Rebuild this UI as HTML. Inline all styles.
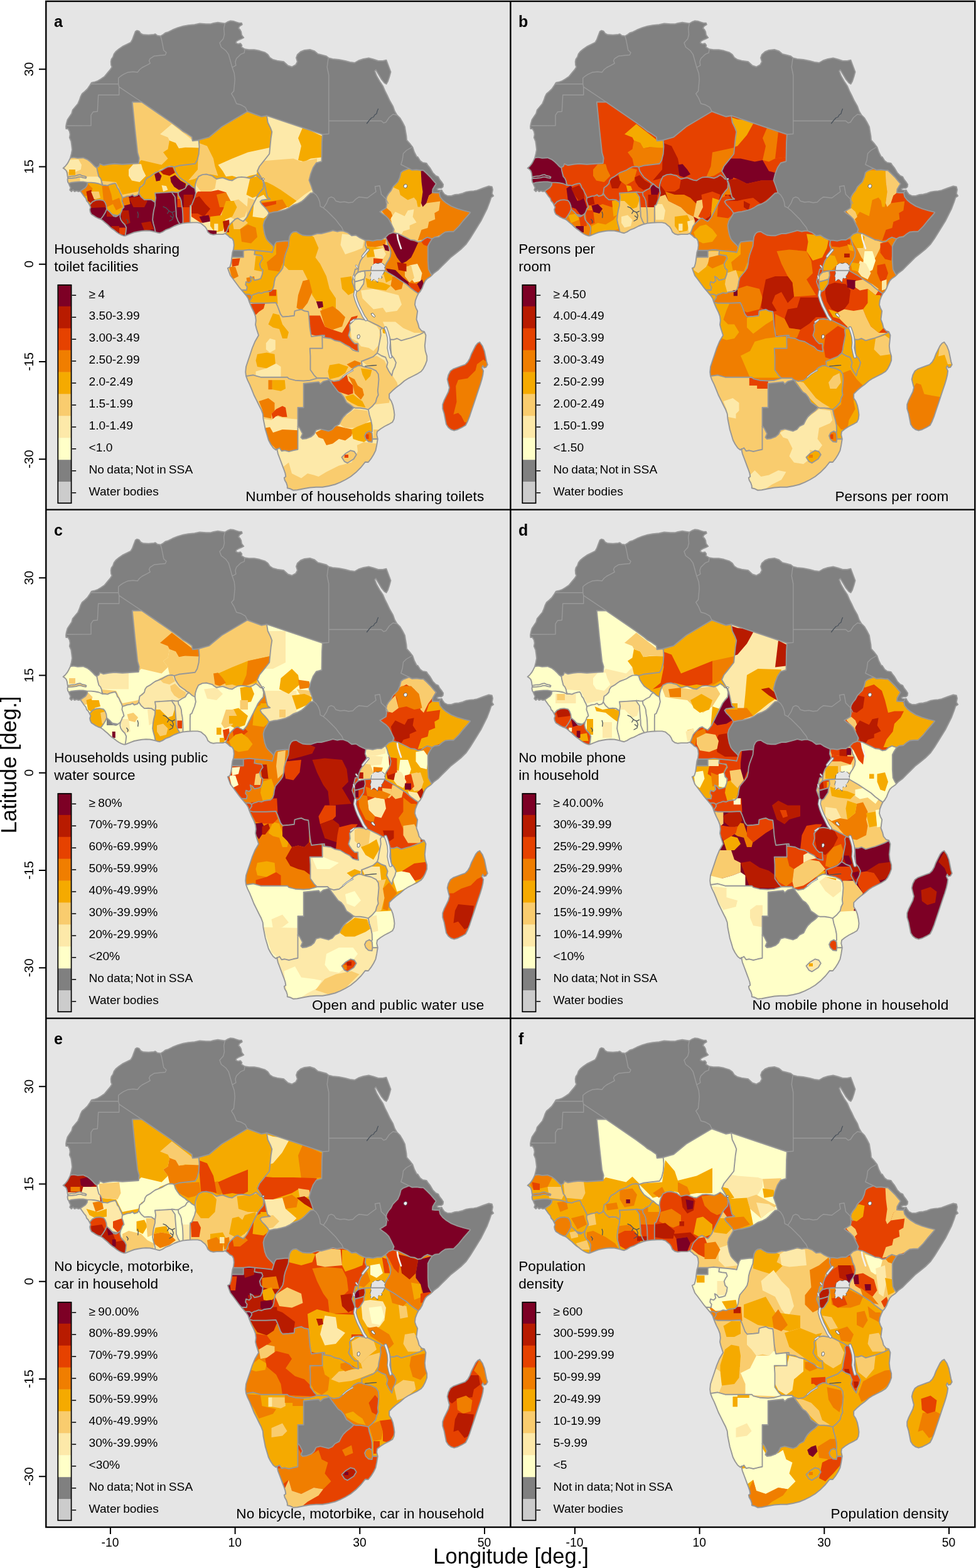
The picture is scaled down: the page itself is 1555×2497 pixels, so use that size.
<!DOCTYPE html>
<html lang="en"><head><meta charset="utf-8"><title>Household indicators across sub-Saharan Africa</title>
<style>html,body{margin:0;padding:0;background:#fff}svg{display:block}text{font-family:"Liberation Sans",sans-serif;fill:#000}.t{font-size:20px}.lt{font-size:22.6px}.cap{font-size:22.6px;text-anchor:end}.pl{font-size:25px;font-weight:bold}.ax{font-size:34.5px;text-anchor:middle}.tx{font-size:19.3px}.ty{font-size:20.4px}.lg{font-size:19.2px;word-spacing:-1.1px}.b{fill:none;stroke:#979797;stroke-width:1.9;stroke-linejoin:round}.nb{fill:none;stroke:#9a9a9a;stroke-width:1.4;stroke-linejoin:round}.fr{fill:none;stroke:#000;stroke-width:2.4}.tk{stroke:#000;stroke-width:2;fill:none}</style></head><body>
<svg xmlns="http://www.w3.org/2000/svg" width="1555" height="2497" viewBox="0 0 1555 2497">
<rect x="0" y="0" width="1555" height="2497" fill="#fff"/>
<rect x="73.3" y="2.0" width="1480.0" height="2430.0" fill="#E5E5E5"/>
<defs>
<path id="africa" d="M218.3 48.7 221.7 49.7 224.2 53.3 228.3 55.3 236.7 55.8 245.0 55.0 247.5 54.2 250.8 56.7 255.8 57.5 260.0 55.0 263.3 52.5 268.3 50.8 275.0 47.5 283.3 44.2 291.7 41.7 300.0 40.3 310.0 39.2 318.3 37.5 328.3 38.3 335.0 38.3 340.0 37.0 347.0 35.8 353.3 36.7 358.3 37.5 362.5 35.0 366.7 33.3 371.7 33.7 376.7 35.3 380.8 36.7 385.0 36.7 385.8 39.2 381.7 41.7 380.0 45.0 382.5 47.5 384.2 50.8 385.0 55.8 388.3 60.0 385.0 61.7 380.8 63.3 376.7 65.8 375.8 68.3 379.2 70.0 383.3 69.2 385.3 72.0 384.7 75.0 390.0 78.3 396.7 79.2 405.0 79.2 413.3 80.8 421.7 83.3 426.7 86.7 430.0 91.7 435.0 95.0 441.7 96.7 452.0 98.3 458.8 104.5 465.0 106.5 471.2 103.2 473.8 98.2 472.0 92.0 473.8 87.0 478.8 82.5 485.0 80.0 493.8 79.0 501.2 81.5 506.2 85.8 512.5 87.5 520.0 89.5 523.8 92.5 530.0 94.0 540.0 95.0 550.0 97.0 557.5 99.0 565.0 100.0 571.2 96.5 578.8 94.0 587.5 92.5 595.0 94.5 602.5 97.0 610.0 97.0 615.5 95.8 618.8 104.5 622.5 114.5 620.5 122.0 618.0 129.5 615.5 133.8 612.5 132.0 607.5 125.8 603.0 118.2 598.8 111.2 597.0 113.2 600.0 120.8 605.0 129.5 610.0 137.0 613.8 145.8 617.0 152.0 621.2 160.8 626.2 169.5 628.8 177.0 632.5 183.2 637.5 188.2 641.2 194.5 645.0 202.0 646.2 209.5 647.5 217.0 648.0 223.2 652.5 228.2 657.5 234.5 660.0 242.0 663.8 249.5 665.6 250.0 669.5 256.0 673.5 258.9 679.4 259.9 681.4 262.9 685.4 267.9 689.4 274.8 694.3 279.8 698.3 281.7 700.3 285.7 704.2 290.7 706.2 293.7 705.7 297.6 703.3 299.6 699.3 299.6 696.3 300.6 697.3 302.6 701.3 303.1 703.8 302.6 705.2 305.6 708.2 309.5 713.2 312.0 719.1 312.0 725.1 310.0 731.0 309.5 737.0 308.0 742.9 305.6 748.9 304.6 754.8 304.1 760.0 303.1 760.0 303.2 770.0 299.5 778.8 296.5 783.8 297.5 785.0 302.0 783.8 308.2 786.2 312.0 782.5 314.5 780.0 322.0 776.2 332.0 771.2 342.0 766.2 352.0 760.0 362.0 753.8 372.0 748.8 380.0 742.7 388.7 734.3 397.0 726.0 403.7 717.7 410.3 711.0 417.0 704.3 423.7 697.7 430.3 691.0 435.3 686.0 440.3 681.0 443.7 677.7 447.0 675.2 452.0 672.7 458.7 669.3 464.5 666.8 467.0 664.3 472.0 661.8 478.7 661.0 485.3 662.7 490.3 665.2 495.3 664.3 502.0 663.5 508.7 666.0 515.3 667.7 522.0 671.8 527.0 676.0 528.2 678.5 534.0 677.7 542.3 676.8 550.7 677.7 559.0 680.2 567.3 680.2 574.0 677.7 580.7 674.3 587.3 671.0 591.5 664.3 595.7 657.7 599.0 651.0 602.3 644.3 606.5 637.7 612.3 631.0 617.3 625.2 622.3 620.2 627.3 620.2 634.0 623.5 639.0 626.0 645.7 627.7 654.0 628.5 660.7 627.7 667.3 625.2 672.3 619.3 675.7 612.7 679.0 606.0 683.2 601.0 687.3 600.2 692.3 601.8 699.0 601.0 704.0 600.2 709.0 598.5 717.3 595.2 724.0 591.0 730.7 586.8 736.0 582.0 735.7 575.3 744.0 567.0 752.3 558.7 759.0 550.3 764.0 542.0 768.2 533.7 771.5 523.7 774.0 513.7 775.7 503.7 775.7 493.7 776.5 483.7 778.2 473.7 780.3 467.0 780.7 462.0 778.2 457.8 777.3 457.8 774.0 456.2 769.0 453.7 764.8 452.8 760.7 455.3 759.0 454.5 754.0 452.8 749.0 450.3 742.3 447.8 735.7 445.3 729.0 442.8 722.3 441.2 714.8 439.5 716.5 435.3 713.2 431.2 707.3 427.8 700.7 425.3 692.3 422.8 684.0 421.2 675.7 419.5 667.3 418.7 659.0 416.2 652.3 412.8 645.7 408.7 637.3 404.5 629.0 401.2 620.7 397.8 612.3 394.5 605.7 392.0 599.0 391.2 592.3 392.0 584.0 395.3 574.0 398.7 564.0 402.0 554.0 406.2 544.0 412.0 534.0 408.7 523.7 407.0 517.0 407.8 510.3 407.0 503.7 404.5 497.0 401.2 490.3 398.7 484.5 397.0 480.3 395.3 475.3 392.0 470.3 387.8 465.3 382.0 458.7 377.0 452.0 372.0 445.3 367.0 438.7 364.5 432.0 362.8 427.0 366.2 425.3 367.8 420.3 368.7 415.3 369.5 408.7 370.3 402.0 372.0 397.0 372.8 390.3 372.0 383.7 370.0 380.0 366.2 378.1 363.1 375.0 358.8 371.9 355.0 373.1 350.0 373.1 345.0 373.1 340.0 373.8 335.0 372.5 331.2 369.4 329.4 365.0 326.9 361.2 323.8 358.8 320.0 355.6 315.0 354.4 307.5 354.4 298.8 354.8 291.2 355.6 283.8 357.5 277.5 360.0 270.0 363.8 263.8 366.2 258.8 369.4 254.4 371.2 250.0 370.2 245.0 368.8 238.8 367.5 232.5 367.2 226.2 367.8 220.0 368.8 213.8 370.0 208.8 371.9 203.8 373.8 199.4 375.6 197.5 375.6 193.8 374.4 190.0 372.5 186.2 370.0 182.5 366.9 178.8 364.4 175.0 361.2 171.2 357.5 167.5 354.4 163.8 351.2 160.0 348.8 156.2 347.5 152.5 345.6 148.8 343.1 145.6 341.2 143.8 337.5 143.1 333.8 144.4 330.0 142.5 326.2 140.6 322.5 138.1 320.0 136.9 316.2 133.8 312.5 131.2 308.8 128.1 304.4 125.0 305.0 121.9 303.8 118.8 305.0 116.2 302.5 113.8 305.0 111.2 302.5 112.5 298.8 110.6 295.0 109.4 291.9 108.1 290.0 107.5 286.2 108.1 283.1 107.5 280.0 106.9 275.6 105.6 271.9 103.1 269.4 100.6 267.8 103.8 265.0 106.9 261.2 109.4 256.9 111.9 251.9 113.7 245.0 115.0 238.3 114.2 231.7 113.3 225.0 110.8 219.2 111.7 214.2 110.8 209.2 108.3 205.0 105.3 205.0 105.0 201.7 105.8 196.7 107.5 190.8 110.8 185.8 114.2 180.8 115.8 175.0 120.0 170.0 124.2 165.0 126.7 159.2 128.3 154.2 130.8 149.2 135.0 145.8 139.2 141.7 143.3 135.8 145.8 131.7 150.0 130.8 155.0 129.2 160.8 125.8 166.7 121.7 170.8 116.7 175.0 111.7 178.3 106.7 177.0 103.3 176.7 98.3 177.5 94.2 180.0 90.8 181.7 85.8 185.0 81.7 189.2 78.3 195.0 74.2 201.7 70.8 208.3 67.5 210.8 63.3 213.3 56.7 215.8 50.0Z"/>
<path id="mada" d="M764.3 544.8 768.5 550.7 771.8 559.0 773.5 567.3 775.2 575.7 776.8 580.7 774.3 584.8 771.0 585.7 769.3 582.3 767.7 585.7 770.2 590.7 769.3 597.3 767.7 604.0 765.2 612.3 761.8 622.3 758.5 632.3 755.2 642.3 751.8 652.3 748.5 662.3 745.2 670.7 741.8 677.3 736.0 680.7 729.3 684.0 723.5 685.7 718.5 684.0 714.3 680.7 711.0 675.7 709.3 667.3 707.7 659.0 705.2 650.7 705.2 644.0 707.7 637.3 711.0 630.7 714.3 624.0 716.0 617.3 714.3 610.7 712.7 604.0 714.3 597.3 717.7 590.7 722.7 587.3 729.3 584.8 736.0 582.3 741.0 580.7 745.2 576.5 748.5 570.7 751.0 564.0 754.3 557.3 757.7 550.7 761.0 546.5Z"/>
<clipPath id="cAF"><use href="#africa"/></clipPath>
<clipPath id="cMG"><use href="#mada"/></clipPath>
<path id="pCD" d="M460.3 383.7 461.2 377.0 463.7 372.0 467.0 369.5 472.0 368.7 477.0 372.0 482.0 374.5 488.7 375.3 495.3 375.3 500.3 373.7 505.3 372.0 512.0 372.0 518.7 370.3 525.3 368.7 530.3 367.0 537.0 368.7 542.0 367.8 547.0 367.8 553.7 370.3 560.3 375.3 567.0 374.5 572.0 377.8 577.0 380.3 582.8 382.8 593.7 390.3 593.7 448.7 588.7 512.0 580.3 565.3 530.3 557.0 488.7 535.3 480.3 507.0 447.0 515.3 393.7 487.0 388.7 473.7 430.3 457.0 430.3 440.3 447.0 423.7 450.3 398.7Z"/>
<clipPath id="cCD"><use href="#pCD"/></clipPath>
<path id="pCG" d="M460.3 383.7 459.5 392.0 457.0 398.7 454.5 405.3 452.8 412.0 452.0 420.3 450.3 427.0 447.0 432.0 442.8 437.0 438.7 442.0 437.0 448.7 436.2 455.3 434.5 460.3 431.2 463.7 425.3 464.5 420.3 465.3 417.0 467.0 412.0 466.2 407.8 467.8 404.5 468.7 400.3 471.2 397.0 473.7 390.3 478.7 380.3 465.3 390.3 448.7 397.0 432.0 402.0 412.0 402.0 393.7 430.3 392.8 436.2 393.7 437.8 388.7 440.3 385.3 447.0 384.5 453.7 383.7 460.3 383.7Z"/>
<clipPath id="cCG"><use href="#pCG"/></clipPath>
<path id="pAO" d="M397.0 481.2 403.7 482.8 413.7 482.8 423.7 482.8 439.5 482.0 442.0 487.0 444.5 493.7 447.0 500.3 450.3 504.5 460.3 503.7 468.7 502.8 469.5 495.3 475.3 493.7 480.3 492.8 485.3 495.3 491.2 496.2 492.0 502.0 492.8 512.0 493.7 522.0 495.3 532.0 496.2 536.0 513.3 534.0 517.0 534.0 517.0 597.3 507.0 606.0 483.7 608.7 392.0 604.0 377.0 597.3 383.7 550.7 388.7 498.7 392.0 481.2Z"/>
<clipPath id="cAO"><use href="#pAO"/></clipPath>
<path id="pAO2" d="M397.0 468.7 400.3 470.3 401.2 473.7 398.7 477.8 397.0 480.3 392.0 481.2 390.3 468.7Z"/>
<clipPath id="cAO2"><use href="#pAO2"/></clipPath>
<path id="pZM" d="M513.3 534.0 513.7 554.8 493.7 554.8 494.5 567.3 494.5 589.0 500.3 597.3 505.3 602.3 512.0 602.3 522.0 602.3 524.5 604.8 532.0 609.0 542.0 608.2 550.3 600.7 560.3 592.3 572.0 584.8 578.7 584.0 583.7 577.3 605.3 569.0 608.7 559.0 610.3 534.0 616.0 525.3 611.0 518.7 586.0 505.3 582.0 509.5 572.0 507.8 563.7 508.7 562.0 512.0 557.0 517.0 557.8 525.3 555.3 534.0 557.0 537.3 560.3 542.3 565.3 547.3 570.3 547.3 570.3 552.3 571.2 559.8 567.0 559.0 562.0 557.3 557.0 552.3 550.3 549.0 542.0 544.0 533.7 542.3 527.0 539.0 514.5 537.3 513.3 534.0Z"/>
<clipPath id="cZM"><use href="#pZM"/></clipPath>
<path id="pNA" d="M392.0 599.0 403.7 597.3 415.3 600.7 433.7 600.7 457.8 600.7 460.3 603.2 470.3 605.7 483.7 606.5 493.7 605.7 505.3 602.3 512.0 602.3 522.0 602.3 524.5 604.8 515.3 607.3 510.3 611.5 507.8 608.2 483.7 610.7 483.7 649.0 474.5 649.0 474.5 679.0 477.0 684.0 477.0 720.7 440.3 722.3 430.3 717.3 383.7 600.7Z"/>
<clipPath id="cNA"><use href="#pNA"/></clipPath>
<path id="pZA" d="M441.2 715.7 445.3 713.2 448.7 718.2 453.7 717.3 460.3 719.0 467.0 717.3 474.5 715.7 474.5 679.0 475.3 679.0 477.8 682.3 482.0 690.7 479.5 696.5 482.0 699.0 488.7 698.2 495.3 695.7 500.3 691.5 503.7 684.8 510.3 683.2 517.0 684.8 523.7 686.5 529.5 684.0 533.7 679.0 540.3 675.7 543.7 669.0 547.0 664.0 552.0 659.0 558.7 654.0 563.7 649.0 567.0 645.7 588.7 647.3 597.0 660.7 603.7 700.7 608.7 717.3 533.7 787.3 450.3 787.3 437.0 717.3Z"/>
<clipPath id="cZA"><use href="#pZA"/></clipPath>
<path id="pZW" d="M524.5 604.8 528.7 610.7 533.7 617.3 538.7 624.0 543.7 627.3 547.8 632.3 552.0 640.7 557.0 644.0 563.7 649.0 567.0 649.8 573.7 649.8 580.3 650.7 587.0 652.3 593.7 654.0 607.0 634.0 608.7 592.3 583.7 579.0 577.0 582.3 570.3 582.3 563.7 585.7 558.7 590.7 552.0 595.7 547.0 600.7 540.3 605.7 532.0 607.3 524.5 604.8Z"/>
<clipPath id="cZW"><use href="#pZW"/></clipPath>
<path id="pTZ" d="M566.0 462.8 565.2 470.3 567.7 478.7 571.0 487.0 575.2 495.3 579.3 503.7 583.5 509.5 589.3 512.0 596.0 515.3 602.7 518.7 608.5 522.0 611.0 527.0 616.0 534.0 616.0 524.0 624.3 547.3 677.7 534.0 687.7 525.7 677.7 465.3 667.7 462.0 611.0 425.3 577.7 427.0 566.0 428.7 561.0 448.7Z"/>
<clipPath id="cTZ"><use href="#pTZ"/></clipPath>
<path id="pMW" d="M608.5 522.0 611.0 523.2 614.3 522.3 617.7 529.0 620.2 537.3 621.8 540.7 625.2 550.7 626.0 564.0 634.3 577.3 631.0 590.7 626.0 600.7 621.0 599.0 616.0 587.3 614.3 570.7 606.0 567.3 601.0 562.3 602.7 557.3 603.5 550.7 605.2 542.3 606.8 534.0 606.0 525.7 608.5 522.0Z"/>
<clipPath id="cMW"><use href="#pMW"/></clipPath>
<path id="pMZ" d="M676.0 529.0 669.3 532.3 661.0 535.7 654.3 538.2 647.7 539.8 639.3 542.3 632.7 539.0 627.7 540.7 621.8 540.7 622.7 557.3 623.5 565.7 627.7 570.7 631.0 577.3 629.3 584.0 626.0 590.7 624.3 598.2 619.3 590.7 616.0 584.0 617.7 577.3 614.3 569.0 607.7 566.5 601.0 562.3 594.3 568.2 586.0 571.5 576.0 575.3 576.8 583.2 582.7 584.8 591.0 586.5 599.3 590.7 602.7 595.7 603.5 604.0 602.7 614.0 601.8 622.3 602.7 629.0 600.2 634.0 598.5 640.7 592.7 647.3 586.8 652.3 588.5 660.7 591.0 669.0 592.7 677.3 593.0 687.3 587.7 690.7 587.7 700.7 593.5 699.3 601.0 699.0 611.0 700.7 636.0 667.3 636.0 617.3 694.3 584.0 687.7 525.7Z"/>
<clipPath id="cMZ"><use href="#pMZ"/></clipPath>
<path id="pSZ" d="M581.0 694.0 583.5 689.0 588.5 686.5 592.7 689.8 593.5 698.2 592.7 704.0 586.8 703.2 582.7 699.0Z"/>
<clipPath id="cSZ"><use href="#pSZ"/></clipPath>
<path id="pLS" d="M544.5 728.2 550.3 722.3 558.7 717.3 564.5 719.0 567.8 724.0 563.7 730.7 558.7 734.0 553.7 737.3 548.7 734.8Z"/>
<clipPath id="cLS"><use href="#pLS"/></clipPath>
<path id="pRW" d="M570.2 433.7 576.0 432.0 581.0 431.2 581.8 438.7 580.2 444.5 575.2 446.2 569.3 447.8 565.2 448.7 564.3 442.0 566.8 437.0Z"/>
<clipPath id="cRW"><use href="#pRW"/></clipPath>
<path id="pBI" d="M565.2 448.7 569.3 447.8 575.2 446.2 580.2 444.5 579.3 452.0 576.0 457.0 572.7 462.0 568.5 464.5 566.0 462.8 565.2 455.3Z"/>
<clipPath id="cBI"><use href="#pBI"/></clipPath>
<path id="pUG" d="M582.8 382.8 587.7 382.8 594.3 383.7 601.0 382.0 607.7 382.0 614.3 377.8 627.7 382.0 627.7 423.7 612.7 430.8 591.8 430.8 581.0 431.2 576.0 432.0 570.2 433.7 571.0 428.7 571.8 422.0 574.3 415.3 577.7 410.3 581.0 403.7 584.3 397.0 581.8 390.3 582.8 382.8Z"/>
<clipPath id="cUG"><use href="#pUG"/></clipPath>
<path id="pKE" d="M614.3 377.8 616.8 383.7 618.5 390.3 621.0 395.3 622.7 402.0 621.8 408.7 619.3 413.7 616.0 418.7 613.5 423.7 612.7 430.8 617.7 433.7 627.7 439.5 637.7 446.2 647.7 452.8 654.3 458.7 661.0 463.7 666.8 467.8 677.7 473.7 694.3 440.3 687.7 437.8 685.2 433.7 682.7 428.7 681.8 415.3 681.8 398.7 681.8 392.0 684.3 387.0 688.5 380.3 687.7 372.0 627.7 362.0 626.0 370.3 619.3 372.8 614.3 377.8Z"/>
<clipPath id="cKE"><use href="#pKE"/></clipPath>
<path id="pET" d="M626.0 370.3 629.3 371.2 634.3 372.0 641.0 375.3 647.7 378.7 654.3 382.0 661.0 382.8 666.0 385.3 671.0 384.5 676.0 380.3 681.0 377.8 688.5 380.3 692.7 377.8 699.3 377.0 704.3 372.8 709.3 369.5 716.0 368.7 722.7 368.7 726.0 365.3 731.0 360.3 737.7 352.0 744.3 344.5 749.3 338.7 748.9 337.8 739.0 335.3 729.0 332.3 719.1 328.4 711.2 323.4 705.2 318.5 701.3 313.5 699.8 307.0 693.3 307.0 688.9 306.5 689.4 301.6 692.3 296.6 694.8 292.7 694.8 292.7 690.4 287.7 685.4 281.7 679.4 275.8 674.5 271.3 670.5 271.3 663.6 270.3 656.6 270.8 651.7 268.4 642.7 271.8 638.8 274.8 636.8 282.7 633.8 289.7 629.8 293.7 625.9 297.6 622.9 303.6 618.9 308.5 616.0 313.5 615.0 319.4 616.0 325.4 615.0 331.3 610.0 334.3 605.2 337.0 609.3 340.3 614.3 343.7 619.3 348.7 622.7 355.3 625.2 360.3 627.7 365.3 626.0 370.3Z"/>
<clipPath id="cET"><use href="#pET"/></clipPath>
<path id="pGA" d="M406.2 398.7 405.3 405.3 410.3 406.2 417.0 407.0 418.7 412.0 416.2 415.3 413.7 420.3 415.3 427.0 418.7 430.3 417.8 437.0 415.3 443.7 410.3 445.3 405.3 446.2 402.0 442.0 398.7 440.3 400.3 447.0 397.0 450.3 392.0 448.7 391.2 453.7 393.7 457.0 392.8 462.0 385.7 461.7 372.0 462.0 357.0 427.0 363.7 409.5 369.5 409.5 387.8 409.5 387.8 398.7 387.8 395.3 406.2 395.3Z"/>
<clipPath id="cGA"><use href="#pGA"/></clipPath>
<path id="pCM" d="M372.0 398.7 387.8 398.7 397.0 397.8 406.2 398.7 413.7 399.5 422.0 400.3 430.3 401.2 433.7 402.0 436.2 393.7 433.7 390.3 430.3 387.0 427.0 383.7 424.5 380.3 422.0 373.7 420.3 365.3 419.5 358.7 421.2 352.0 425.3 345.3 428.7 339.5 433.7 337.0 433.7 315.3 425.3 282.0 420.3 277.0 413.7 282.0 388.7 340.3 360.3 357.0 355.3 375.3 363.7 398.7Z"/>
<clipPath id="cCM"><use href="#pCM"/></clipPath>
<path id="pTD" d="M428.7 339.5 426.2 335.3 422.0 330.3 417.0 325.3 414.5 321.2 417.0 318.7 423.7 317.8 430.3 317.0 426.2 313.7 424.5 307.0 422.8 298.7 421.2 292.0 418.7 285.3 405.0 285.0 400.0 265.0 415.0 245.0 418.0 200.0 415.0 190.0 425.0 184.2 513.8 214.0 513.0 227.0 512.5 257.0 503.8 259.5 498.8 267.0 495.0 277.0 492.5 287.0 496.2 297.0 499.5 307.0 499.5 307.0 494.5 307.8 490.3 312.0 485.3 317.0 480.3 321.2 473.7 324.5 467.0 327.0 462.0 330.3 455.3 333.7 448.7 335.3 442.0 337.0 435.3 337.8 428.7 339.5Z"/>
<clipPath id="cTD"><use href="#pTD"/></clipPath>
<path id="pNE" d="M316.7 223.0 333.3 218.3 353.3 201.7 394.2 177.5 416.7 185.8 425.0 184.2 426.7 195.0 430.8 203.3 433.3 210.0 431.7 220.0 430.0 236.7 429.2 245.0 420.0 256.7 413.3 265.0 410.0 272.5 413.8 278.8 418.1 285.6 413.8 290.0 370.0 292.5 320.0 285.0 312.5 305.0 301.2 300.0 288.8 290.0 275.0 270.0 268.0 262.0 290.0 248.0 305.0 232.0Z"/>
<clipPath id="cNE"><use href="#pNE"/></clipPath>
<path id="pNG" d="M310.6 300.0 311.2 293.8 313.1 287.5 316.2 281.2 322.5 278.1 328.8 277.5 333.8 278.8 338.1 280.0 341.2 282.5 345.0 285.0 350.0 283.8 355.0 283.1 360.0 285.0 365.0 286.9 370.0 287.5 373.8 285.0 378.8 282.5 385.0 281.9 391.2 282.5 397.5 283.8 402.5 281.9 407.5 278.8 411.2 281.2 415.0 285.0 418.1 285.6 420.0 292.5 419.4 300.0 415.0 305.0 411.2 310.0 408.8 315.0 406.2 320.0 403.8 325.0 401.2 330.0 398.8 335.0 396.2 340.0 393.8 345.0 390.0 350.0 387.5 352.5 382.5 350.0 378.8 347.5 375.0 348.8 371.2 352.5 367.5 356.2 364.4 360.0 362.5 365.0 360.6 370.0 359.4 371.9 359.4 382.5 326.2 382.5 301.2 357.5 300.0 345.0 300.0 326.2 306.2 300.0Z"/>
<clipPath id="cNG"><use href="#pNG"/></clipPath>
<path id="pML" d="M316.7 223.3 317.5 233.3 316.7 245.0 314.2 255.0 310.8 260.8 285.0 263.8 277.5 266.2 270.0 290.0 230.0 300.0 215.0 320.0 195.0 325.0 180.0 310.0 165.0 295.0 150.0 290.0 148.0 270.0 154.2 266.7 157.5 265.0 159.2 260.8 165.0 263.3 173.3 261.7 182.5 260.8 195.0 261.7 210.0 260.8 220.8 260.0 221.7 251.7 219.2 243.3 215.0 205.0 211.7 171.7 210.8 162.5 225.8 162.5 274.2 195.8 286.7 205.0 291.7 209.2 297.5 212.5 305.8 218.3 306.7 224.2 316.7 223.3Z"/>
<clipPath id="cML"><use href="#pML"/></clipPath>
<path id="pBF" d="M221.2 308.1 221.9 302.5 222.5 298.8 226.2 296.2 230.0 292.5 231.2 287.5 233.8 283.8 238.8 281.2 243.8 277.5 247.5 275.0 252.5 273.1 257.5 271.2 262.5 268.1 267.5 265.6 273.8 265.0 277.5 266.2 279.4 272.5 282.5 277.5 286.2 282.5 291.2 286.2 295.0 288.8 297.5 291.2 301.2 293.1 301.2 300.0 282.5 310.0 270.0 310.0 270.0 311.2 248.8 311.2 247.5 325.0 230.0 321.2 221.2 312.5Z"/>
<clipPath id="cBF"><use href="#pBF"/></clipPath>
<path id="pBJ" d="M301.2 293.1 306.2 297.5 310.6 300.0 311.9 307.5 310.0 315.0 307.5 321.2 305.6 326.2 303.1 327.5 302.8 335.0 302.8 342.5 302.8 350.0 302.8 354.4 302.8 360.0 288.8 360.0 288.8 345.0 286.2 320.0 281.2 307.5 283.9 306.5 286.2 305.0 290.0 302.5 295.0 300.0 298.1 295.0 301.2 293.1Z"/>
<clipPath id="cBJ"><use href="#pBJ"/></clipPath>
<path id="pTG" d="M273.5 305.5 278.8 306.2 283.9 306.5 284.4 311.2 286.9 315.0 288.8 320.0 289.4 326.2 290.6 332.5 291.2 340.0 291.5 347.5 291.5 356.0 291.9 360.0 280.0 357.5 275.0 332.5 272.5 307.5Z"/>
<clipPath id="cTG"><use href="#pTG"/></clipPath>
<path id="pGH" d="M247.1 322.1 248.1 315.0 246.9 307.5 257.5 306.9 267.5 306.2 273.5 305.9 276.2 310.0 278.8 313.8 279.4 322.5 280.0 330.0 280.6 337.5 280.9 345.0 283.8 352.5 286.9 357.2 287.5 378.8 245.0 377.5 240.0 371.2 242.5 325.0Z"/>
<clipPath id="cGH"><use href="#pGH"/></clipPath>
<path id="pCI" d="M195.0 315.0 198.8 313.8 202.5 312.5 207.5 311.9 211.2 310.0 213.8 312.5 218.8 311.2 221.2 308.1 225.0 313.8 230.0 318.1 236.2 317.8 241.2 318.1 247.1 322.1 246.9 327.5 245.0 335.0 243.8 342.5 243.1 350.0 244.4 356.2 246.2 362.5 247.5 369.4 247.5 375.0 195.0 378.8 188.8 340.0 191.2 315.0Z"/>
<clipPath id="cCI"><use href="#pCI"/></clipPath>
<path id="pGN" d="M163.1 295.0 167.5 295.0 171.2 295.6 175.0 293.8 180.0 292.5 183.8 291.9 185.6 295.0 186.9 298.8 189.4 301.9 191.2 306.2 193.8 311.2 195.0 315.0 194.4 320.0 196.2 325.0 197.5 330.0 195.0 332.5 193.8 336.2 191.9 340.0 190.0 343.8 170.0 340.0 157.5 327.5 142.5 330.0 126.2 307.5 128.8 303.8 132.5 301.2 136.2 298.8 138.8 295.0 139.4 290.6 139.4 288.8 163.1 292.5Z"/>
<clipPath id="cGN"><use href="#pGN"/></clipPath>
<path id="pLR" d="M170.0 333.1 175.0 337.5 181.2 344.4 185.0 345.0 188.1 343.1 191.9 340.0 191.2 345.0 192.5 350.0 195.0 353.8 198.8 357.5 201.2 362.5 200.6 368.8 199.4 375.6 195.0 378.8 158.8 350.0 166.2 335.0Z"/>
<clipPath id="cLR"><use href="#pLR"/></clipPath>
<path id="pSL" d="M143.1 326.2 147.5 321.2 152.5 318.8 158.8 318.1 165.0 319.4 167.5 322.5 169.4 327.5 170.0 333.1 167.5 338.8 164.4 343.8 161.2 348.1 145.0 350.0 138.8 330.0Z"/>
<clipPath id="cSL"><use href="#pSL"/></clipPath>
<path id="pSN" d="M112.5 251.2 117.5 250.6 123.8 251.9 132.5 251.2 138.8 253.8 143.8 257.5 147.5 261.2 151.2 265.0 154.4 267.5 155.0 271.2 156.2 276.2 157.5 281.2 160.0 283.8 161.9 288.1 162.5 292.5 163.1 295.0 157.5 292.5 151.2 291.2 145.0 290.6 139.4 290.6 132.5 289.4 126.2 289.4 120.0 290.0 113.8 290.6 109.4 292.2 98.8 292.5 98.8 267.5 107.5 247.5Z"/>
<clipPath id="cSN"><use href="#pSN"/></clipPath>
<path id="pGM" d="M107.5 281.9 113.8 280.6 120.0 280.2 123.8 278.8 127.5 278.1 131.2 280.0 135.0 280.6 137.5 281.9 136.9 283.8 132.5 283.1 128.8 281.9 125.0 281.9 121.2 283.1 115.0 283.8 108.1 284.0Z"/>
<clipPath id="cGM"><use href="#pGM"/></clipPath>
<g id="base"><use href="#africa" fill="#808080"/><use href="#mada" fill="#808080"/></g>
<g id="over"><path class="nb" d="M255.8 57.5 257.5 63.3 259.2 71.7 260.8 80.0 265.0 83.7 263.3 87.5 255.0 88.3 245.8 89.2 239.2 93.3 237.5 96.7 239.2 100.8 233.3 104.2 226.7 107.5 222.5 110.8 219.2 115.0 211.7 114.2 203.3 115.3 196.7 118.3 191.7 121.7 188.7 124.2 188.7 133.7M145.0 133.7 188.7 133.7 189.7 138.3 189.7 151.3 156.7 151.3 155.3 177.5 148.3 178.3 145.0 183.3 145.0 200.0 106.7 200.3M189.7 138.3 225.8 162.5M358.3 37.5 356.7 45.0 357.5 55.0 355.8 61.7 350.0 68.3 352.5 75.0 360.0 80.8 364.2 86.7 367.5 98.3 370.0 107.5M370.0 107.5 375.8 104.2 375.0 98.3 376.7 93.3 383.3 86.7 389.2 84.2 390.0 78.3M370.0 107.5 373.3 116.7 374.2 126.7 373.3 136.7 372.5 145.0 368.7 149.2 373.3 156.7 376.7 165.0 383.3 166.7 390.8 170.8 394.2 177.5M523.0 93.2 521.2 107.0 523.8 119.5 523.8 192.5 523.8 213.2 513.8 214.0M523.8 192.5 585.0 192.5 607.5 192.5 611.2 195.8 615.0 194.5 620.0 187.0 626.2 182.0 632.5 183.2M499.5 307.0 503.7 310.3 507.0 315.3 509.5 322.0 510.3 328.7 515.3 331.2 520.3 323.7 523.7 315.3 527.8 313.7 532.0 315.3 535.3 320.3 542.0 322.0 548.7 321.2 555.3 322.8 562.0 322.0 567.0 317.0 572.0 313.7 578.7 314.5 585.3 315.3 592.0 310.3 599.0 305.3 597.5 297.0 605.0 295.8 607.5 309.5 615.0 317.0 618.8 324.5M515.3 331.2 520.3 335.3 525.3 340.3 530.3 345.3 535.3 350.3 540.3 357.0 544.5 362.0 547.0 367.8M656.2 234.5 647.5 239.5 642.5 244.5 641.2 254.5 638.8 262.0 651.7 268.4M699.8 307.0 702.3 303.6"/><path d="M566.3 463.7 565.3 470.3 567.7 478.7 571.0 487.0 575.2 495.3 579.3 503.7 583.2 509.0" fill="none" stroke="#8e9499" stroke-width="5.2" stroke-linecap="round" stroke-linejoin="round"/><path d="M566.3 463.7 565.3 470.3 567.7 478.7 571.0 487.0 575.2 495.3 579.3 503.7 583.2 509.0" fill="none" stroke="#ededed" stroke-width="2.3" stroke-linecap="round" stroke-linejoin="round"/><path d="M614.3 522.3 616.8 529.0 619.0 537.3 619.7 545.7 619.0 554.0 620.7 562.3 622.3 568.2" fill="none" stroke="#8e9499" stroke-width="5.4" stroke-linecap="round" stroke-linejoin="round"/><path d="M614.3 522.3 616.8 529.0 619.0 537.3 619.7 545.7 619.0 554.0 620.7 562.3 622.3 568.2" fill="none" stroke="#ededed" stroke-width="2.5" stroke-linecap="round" stroke-linejoin="round"/><path d="M586.5 397.9 583.1 401.8 579.8 405.8 577.9 408.4" fill="none" stroke="#8e9499" stroke-width="4.6" stroke-linecap="round" stroke-linejoin="round"/><path d="M586.5 397.9 583.1 401.8 579.8 405.8 577.9 408.4" fill="none" stroke="#ededed" stroke-width="2.0" stroke-linecap="round" stroke-linejoin="round"/><path d="M546.2 600.7 552.0 595.7 558.7 591.5 562.0 589.8" fill="none" stroke="#8e9499" stroke-width="2.6" stroke-linecap="round" stroke-linejoin="round"/><path d="M546.2 600.7 552.0 595.7 558.7 591.5 562.0 589.8" fill="none" stroke="#ededed" stroke-width="1.0" stroke-linecap="round" stroke-linejoin="round"/><path d="M567.3 423.0 569.3 425.6" fill="none" stroke="#8e9499" stroke-width="3.0" stroke-linecap="round" stroke-linejoin="round"/><path d="M567.3 423.0 569.3 425.6" fill="none" stroke="#ededed" stroke-width="1.4" stroke-linecap="round" stroke-linejoin="round"/><path d="M563.3 439.5 564.3 443.5" fill="none" stroke="#8e9499" stroke-width="3.0" stroke-linecap="round" stroke-linejoin="round"/><path d="M563.3 439.5 564.3 443.5" fill="none" stroke="#ededed" stroke-width="1.4" stroke-linecap="round" stroke-linejoin="round"/><path d="M558.7 512.8 563.7 509.5" fill="none" stroke="#8e9499" stroke-width="3.2" stroke-linecap="round" stroke-linejoin="round"/><path d="M558.7 512.8 563.7 509.5" fill="none" stroke="#ededed" stroke-width="1.6" stroke-linecap="round" stroke-linejoin="round"/><path d="M633.0 374.0 634.0 380.3 636.0 387.0 638.0 392.8 639.0 395.7" fill="none" stroke="#f2f2f2" stroke-width="2.6" stroke-linecap="round" stroke-linejoin="round"/><path d="M591.1 428.9 591.7 425.0 593.1 422.3 595.7 420.3 599.0 419.0 602.3 419.7 605.6 418.4 608.9 419.0 611.6 421.0 612.9 423.7 612.9 428.9 612.2 432.9 610.9 435.6 608.9 438.2 607.6 439.5 608.9 442.2 606.3 443.5 603.7 442.8 602.3 444.8 601.7 450.1 599.7 448.1 597.0 444.8 594.4 445.5 591.7 448.1 590.4 446.1 591.1 442.2 589.8 439.5 591.1 435.6 591.1 431.6Z" fill="#e4e4e4" stroke="#56606a" stroke-width="0.9" stroke-dasharray="5 3 2 4 7 3" stroke-linejoin="round"/><path d="M591.1 430.8H612.7" class="b" stroke-width="1"/><path d="M643.5 294.5 646.8 293.3 649.0 295.3 648.0 298.7 645.2 299.5 643.0 297.3Z" fill="#f4f4f4" stroke="#4a535c" stroke-width="0.8"/><path d="M569.3 534.0 572.3 532.7 573.7 535.7 572.0 539.3 569.3 539.0Z" fill="#f4f4f4" stroke="#4a535c" stroke-width="0.8"/><path d="M591.0 499.5 594.3 498.7 598.0 503.7 596.3 505.3 592.7 502.8Z" fill="#f4f4f4" stroke="#4a535c" stroke-width="0.8"/><path d="M417.5 284.4 420.0 283.5 421.5 285.0 420.0 286.5 417.8 286.2Z" fill="#f4f4f4" stroke="#4a535c" stroke-width="0.8"/><path d="M260.0 329.2 264.2 330.8 269.2 335.8 274.2 338.3 276.3 343.3 275.0 349.2 270.0 352.0" fill="none" stroke="#4a525b" stroke-width="1.3" stroke-linecap="round" stroke-linejoin="round"/><path d="M274.2 338.3 278.3 336.3" fill="none" stroke="#4a525b" stroke-width="1.3" stroke-linecap="round" stroke-linejoin="round"/><path d="M275.3 346.7 271.3 343.7" fill="none" stroke="#4a525b" stroke-width="1.3" stroke-linecap="round" stroke-linejoin="round"/><path d="M269.2 335.8 266.7 340.0" fill="none" stroke="#4a525b" stroke-width="1.3" stroke-linecap="round" stroke-linejoin="round"/><path d="M219.2 337.5 220.3 341.7 219.7 346.7" fill="none" stroke="#4a525b" stroke-width="1.3" stroke-linecap="round" stroke-linejoin="round"/><path d="M201.7 349.2 204.2 352.5 203.3 355.0" fill="none" stroke="#4a525b" stroke-width="1.3" stroke-linecap="round" stroke-linejoin="round"/><path d="M584.5 196.5 588.0 192.0 592.0 187.5 595.0 186.5 597.0 183.0 600.0 181.0 601.0 177.0 602.5 173.5" fill="none" stroke="#4a525b" stroke-width="1.3" stroke-linecap="round" stroke-linejoin="round"/><path d="M581.8 583.2 587.7 582.7 594.3 582.0 599.7 581.7" fill="none" stroke="#4a525b" stroke-width="1.3" stroke-linecap="round" stroke-linejoin="round"/><use href="#africa" class="b"/><use href="#mada" class="b"/></g>
</defs>
<g transform="translate(0,0)">
<svg x="73.3" y="2.0" width="740.0" height="810.0" viewBox="73.3 2.0 740.0 810.0" overflow="hidden">
<use href="#base"/>
<g clip-path="url(#cAF)">
<g clip-path="url(#cCD)"><use href="#pCD" fill="#F9CC6E"/>
<path fill="#F5AA00" d="M395.0 463.8 441.2 461.2 442.5 483.8 395.0 485.0Z"/>
<path fill="#E64200" d="M428.8 461.2 440.0 461.2 440.0 471.2 428.8 471.2Z"/>
<path fill="#F5AA00" d="M460.0 367.5 480.0 365.0 500.0 377.5 507.5 395.0 502.5 410.0 510.0 420.0 520.0 440.0 525.0 460.0 535.0 475.0 535.0 495.0 517.5 500.0 507.5 485.0 497.5 470.0 490.0 445.0 482.5 430.0 460.0 430.0 450.0 420.0 455.0 395.0Z"/>
<path fill="#F07E00" d="M440.0 385.0 460.0 382.5 455.0 407.5 450.0 427.5 435.0 430.0 435.0 395.0Z"/>
<path fill="#FDE9A9" d="M545.0 372.5 567.5 375.0 580.0 382.5 577.5 395.0 565.0 400.0 550.0 405.0 542.5 390.0Z"/>
<path fill="#F07E00" d="M482.5 447.5 492.5 445.0 497.5 465.0 490.0 482.5 480.0 495.0 472.5 490.0 475.0 470.0Z"/>
<path fill="#7D0025" d="M503.8 480.0 513.8 480.0 515.0 488.8 507.5 491.2Z"/>
<path fill="#E64200" d="M492.5 502.5 510.0 502.5 517.5 520.0 530.0 525.0 545.0 530.0 560.0 505.0 570.0 502.5 565.0 515.0 557.5 520.0 557.5 537.5 570.0 545.0 570.0 560.0 545.0 545.0 495.0 532.5Z"/>
<path fill="#F07E00" d="M510.0 495.0 530.0 487.5 540.0 495.0 550.0 505.0 545.0 520.0 530.0 525.0 517.5 520.0Z"/>
<path fill="#F5AA00" d="M542.5 442.5 560.0 440.0 565.0 465.0 555.0 470.0 545.0 460.0Z"/>
</g>
<use href="#pCD" class="b"/>
<g clip-path="url(#cCG)"><use href="#pCG" fill="#F5AA00"/>
<path fill="#F07E00" d="M440.0 385.0 460.0 382.5 457.5 407.5 450.0 420.0 445.0 432.5 427.5 430.0 425.0 417.5 440.0 405.0Z"/>
<path fill="#E64200" d="M427.5 462.5 438.8 461.2 437.5 470.0 428.8 471.2Z"/>
</g>
<use href="#pCG" class="b"/>
<g clip-path="url(#cAO)"><use href="#pAO" fill="#F9CC6E"/>
<path fill="#E64200" d="M398.8 484.0 422.5 482.8 420.0 491.5 412.5 496.5 407.5 501.5 402.5 494.0Z"/>
<path fill="#F5AA00" d="M427.5 516.5 435.0 499.0 445.0 501.5 450.0 516.5 460.0 529.0 457.5 539.0 450.0 539.0 445.0 524.0 435.0 521.5Z"/>
<path fill="#FDE9A9" d="M423.8 546.5 430.0 539.0 438.8 541.5 438.8 556.5 430.0 561.5 423.8 556.5Z"/>
<path fill="#F5AA00" d="M410.0 564.0 425.0 561.5 437.5 564.0 438.8 579.0 425.0 586.5 410.0 584.0 407.5 574.0Z"/>
<path fill="#FDE9A9" d="M407.5 591.5 425.0 586.5 440.0 579.0 447.5 584.0 447.5 601.5 407.5 601.5Z"/>
</g>
<use href="#pAO" class="b"/>
<g clip-path="url(#cAO2)"><use href="#pAO2" fill="#F07E00"/>
</g>
<use href="#pAO2" class="b"/>
<g clip-path="url(#cZM)"><use href="#pZM" fill="#F9CC6E"/>
<path fill="#FDE9A9" d="M557.5 516.5 562.5 509.0 577.5 506.5 590.0 514.0 600.0 519.0 605.0 526.5 603.8 549.0 595.0 559.0 587.5 554.0 575.0 551.5 570.0 544.0 560.0 539.0Z"/>
<path fill="#F5AA00" d="M525.0 581.5 540.0 579.0 555.0 584.0 550.0 594.0 540.0 600.2 525.0 604.0 522.5 591.5Z"/>
<path fill="#F07E00" d="M552.5 580.2 565.0 574.0 575.0 577.8 572.5 584.0 560.0 586.5Z"/>
<path fill="#F5AA00" d="M602.5 559.0 612.5 564.0 610.0 570.2 602.5 566.5Z"/>
</g>
<use href="#pZM" class="b"/>
<g clip-path="url(#cNA)"><use href="#pNA" fill="#F9CC6E"/>
<path fill="#F07E00" d="M427.5 605.2 433.8 605.2 433.8 620.2 427.5 620.2Z"/>
<path fill="#F5AA00" d="M433.8 605.2 453.8 605.2 455.0 619.0 447.5 622.8 433.8 620.2Z"/>
<path fill="#F07E00" d="M412.5 639.0 427.5 634.0 437.5 641.5 437.5 654.0 432.5 659.0 432.5 666.5 420.0 664.0 417.5 651.5Z"/>
<path fill="#E64200" d="M432.5 659.0 440.0 651.5 450.0 646.5 455.0 649.0 457.5 664.0 450.0 664.0 442.5 661.5 435.0 669.0Z"/>
<path fill="#FDE9A9" d="M417.5 666.5 432.5 669.0 440.0 662.8 450.0 665.2 460.0 666.5 475.0 667.8 475.0 685.2 450.0 684.0 435.0 689.0 430.0 680.2 422.5 681.5Z"/>
<path fill="#F07E00" d="M422.5 681.5 430.0 680.2 435.0 689.0 450.0 684.0 475.0 685.2 475.0 716.5 462.5 720.2 447.5 719.0 440.0 715.2 432.5 707.8 425.0 696.5Z"/>
</g>
<use href="#pNA" class="b"/>
<g clip-path="url(#cZA)"><use href="#pZA" fill="#FDE9A9"/>
<path fill="#F9CC6E" d="M447.5 746.5 460.0 736.5 465.0 754.0 475.0 759.0 480.0 761.5 490.0 754.0 500.0 756.5 507.5 759.0 520.0 751.5 530.0 746.5 540.0 741.5 560.0 736.5 570.0 719.0 568.8 709.0 580.0 704.0 600.0 706.5 605.0 694.0 617.5 684.0 617.5 789.0 447.5 789.0Z"/>
<path fill="#F07E00" d="M502.5 689.0 512.5 684.0 525.0 681.5 535.0 677.8 550.0 681.5 562.5 684.0 560.0 694.0 550.0 701.5 540.0 699.0 530.0 706.5 520.0 709.0 515.0 699.0 507.5 696.5Z"/>
<path fill="#F9CC6E" d="M540.0 669.0 555.0 659.0 565.0 651.5 585.0 654.0 590.0 669.0 582.5 674.0 565.0 681.5 550.0 681.5 542.5 676.5Z"/>
<path fill="#F5AA00" d="M560.0 684.0 570.0 679.0 582.5 674.0 592.5 671.5 593.8 686.5 587.5 699.0 580.0 704.0 570.0 701.5 562.5 699.0Z"/>
</g>
<use href="#pZA" class="b"/>
<g clip-path="url(#cZW)"><use href="#pZW" fill="#F9CC6E"/>
<path fill="#E64200" d="M527.5 606.5 540.0 601.5 552.5 596.5 555.0 606.5 562.5 614.0 562.5 626.5 555.0 629.0 547.5 626.5 540.0 624.0 532.5 616.5Z"/>
<path fill="#F07E00" d="M555.0 599.0 565.0 604.0 570.0 614.0 577.5 619.0 580.0 629.0 575.0 636.5 570.0 631.5 565.0 626.5 562.5 614.0Z"/>
<path fill="#F5AA00" d="M550.0 631.5 562.5 627.8 570.0 634.0 577.5 639.0 582.5 649.0 570.0 646.5 560.0 641.5 552.5 636.5Z"/>
<path fill="#F5AA00" d="M575.0 586.5 592.5 589.0 590.0 599.0 582.5 606.5 577.5 596.5Z"/>
</g>
<use href="#pZW" class="b"/>
<g clip-path="url(#cTZ)"><use href="#pTZ" fill="#F9CC6E"/>
<path fill="#FDE9A9" d="M575.0 462.5 595.0 460.0 615.0 465.0 635.0 470.0 640.0 485.0 632.5 495.0 615.0 497.5 610.0 490.0 595.0 492.5 585.0 482.5 577.5 475.0Z"/>
<path fill="#FDE9A9" d="M610.0 512.5 630.0 512.5 642.5 522.5 660.0 530.0 677.5 530.0 677.5 545.0 620.0 545.0 615.0 525.0Z"/>
<path fill="#F5AA00" d="M582.5 442.5 595.0 447.5 610.0 450.0 622.5 455.0 615.0 462.5 595.0 460.0 585.0 457.5Z"/>
<path fill="#F07E00" d="M625.0 440.0 635.0 442.5 642.5 450.0 640.0 460.0 630.0 462.5 622.5 455.0Z"/>
<path fill="#F5AA00" d="M610.0 432.5 625.0 435.0 625.0 445.0 615.0 450.0Z"/>
</g>
<use href="#pTZ" class="b"/>
<g clip-path="url(#cMW)"><use href="#pMW" fill="#FDE9A9"/>
<path fill="#F5AA00" d="M608.8 520.2 612.5 521.5 613.8 531.5 610.0 530.2Z"/>
</g>
<use href="#pMW" class="b"/>
<g clip-path="url(#cMZ)"><use href="#pMZ" fill="#FDE9A9"/>
<path fill="#F9CC6E" d="M575.0 574.0 600.0 566.5 612.5 574.0 622.5 594.0 632.5 609.0 635.0 619.0 622.5 629.0 620.0 641.5 597.5 644.0 592.5 649.0 600.0 609.0 602.5 594.0 587.5 584.0Z"/>
<path fill="#F9CC6E" d="M595.0 684.0 606.2 684.0 603.8 699.0 595.0 699.0Z"/>
</g>
<use href="#pMZ" class="b"/>
<g clip-path="url(#cSZ)"><use href="#pSZ" fill="#F07E00"/>
<path fill="#E64200" d="M582.5 691.5 587.5 691.5 587.5 699.0 582.5 699.0Z"/>
</g>
<use href="#pSZ" class="b"/>
<g clip-path="url(#cLS)"><use href="#pLS" fill="#F9CC6E"/>
<path fill="#E64200" d="M548.8 724.0 555.0 724.0 555.0 729.0 548.8 729.0Z"/>
</g>
<use href="#pLS" class="b"/>
<g clip-path="url(#cRW)"><use href="#pRW" fill="#FDE9A9"/>
</g>
<use href="#pRW" class="b"/>
<g clip-path="url(#cBI)"><use href="#pBI" fill="#FDE9A9"/>
</g>
<use href="#pBI" class="b"/>
<g clip-path="url(#cUG)"><use href="#pUG" fill="#F9CC6E"/>
<path fill="#F07E00" d="M582.5 382.5 615.0 381.2 613.8 390.0 597.5 393.8 585.0 392.5Z"/>
<path fill="#F5AA00" d="M582.5 392.5 597.5 393.8 610.0 395.0 607.5 407.5 585.0 410.0Z"/>
<path fill="#FDE9A9" d="M595.0 397.5 610.0 395.0 615.0 405.0 610.0 412.5 597.5 410.0Z"/>
<path fill="#E64200" d="M595.0 411.2 610.0 412.5 607.5 420.0 595.0 420.0Z"/>
<path fill="#7D0025" d="M610.0 388.8 618.8 391.2 620.0 400.0 613.8 398.8Z"/>
</g>
<use href="#pUG" class="b"/>
<g clip-path="url(#cKE)"><use href="#pKE" fill="#F07E00"/>
<path fill="#7D0025" d="M610.0 370.0 630.0 370.0 655.0 382.5 666.2 386.2 660.0 400.0 655.0 410.0 647.5 416.2 640.0 420.0 632.5 410.0 625.0 395.0 617.5 382.5Z"/>
<path fill="#E64200" d="M671.2 385.0 680.0 378.8 690.0 381.2 682.5 392.5 675.0 390.0Z"/>
<path fill="#FDE9A9" d="M652.5 422.5 665.0 420.0 672.5 435.0 670.0 447.5 660.0 450.0 652.5 440.0Z"/>
<path fill="#F9CC6E" d="M645.0 425.0 655.0 422.5 660.0 442.5 652.5 450.0 645.0 440.0Z"/>
<path fill="#7D0025" d="M615.0 427.5 630.0 430.0 642.5 442.5 655.0 452.5 650.0 456.2 635.0 446.2 620.0 436.2Z"/>
<path fill="#B81B00" d="M632.5 417.5 647.5 420.0 647.5 432.5 635.0 430.0Z"/>
<path fill="#7D0025" d="M663.8 452.5 672.5 445.0 676.2 455.0 668.8 462.5Z"/>
<path fill="#E64200" d="M650.0 450.0 665.0 452.5 670.0 462.5 665.0 468.8 652.5 457.5Z"/>
</g>
<use href="#pKE" class="b"/>
<g clip-path="url(#cET)"><use href="#pET" fill="#F9CC6E"/>
<path fill="#F5AA00" d="M636.8 271.3 651.7 267.9 670.5 271.3 671.5 289.7 673.5 305.6 671.5 319.4 669.5 329.4 665.6 329.4 663.6 319.4 659.6 314.5 649.7 318.5 637.8 310.5 635.8 302.6 626.9 298.6 629.8 292.7 636.8 282.7Z"/>
<path fill="#7D0025" d="M670.5 270.3 675.5 271.3 696.3 292.7 689.4 307.0 683.4 311.5 679.4 323.4 673.5 329.4 671.0 323.4 673.5 305.6 671.5 289.7Z"/>
<path fill="#F07E00" d="M689.4 306.5 701.3 306.5 750.9 337.8 723.1 369.0 702.3 374.0 689.4 379.0 665.6 382.9 671.5 366.1 681.4 363.1 683.4 353.2 693.3 349.2 692.3 339.3 699.3 335.3 701.3 320.4 694.3 321.4 679.4 323.4 683.4 311.5Z"/>
<path fill="#F07E00" d="M609.0 334.3 616.0 331.3 622.9 337.3 625.9 345.2 621.9 349.2 624.9 355.2 619.9 349.2 609.0 337.3Z"/>
<path fill="#FDE9A9" d="M622.9 347.2 629.8 337.3 644.7 344.2 649.7 335.3 659.6 333.3 657.6 345.2 663.6 354.2 652.7 359.1 652.7 365.1 642.7 368.1 639.8 373.0 631.8 372.0 624.9 359.1Z"/>
</g>
<use href="#pET" class="b"/>
<g clip-path="url(#cGA)"><use href="#pGA" fill="#F9CC6E"/>
<path fill="#E64200" d="M368.8 412.5 382.5 411.2 380.0 422.5 370.0 425.0Z"/>
<path fill="#F07E00" d="M365.0 425.0 375.0 425.0 380.0 440.0 370.0 445.0Z"/>
<path fill="#F5AA00" d="M407.5 407.5 420.0 407.5 417.5 432.5 405.0 430.0Z"/>
<path fill="#F07E00" d="M392.5 442.5 405.0 440.0 407.5 457.5 395.0 460.0Z"/>
</g>
<use href="#pGA" class="b"/>
<g clip-path="url(#cCM)"><use href="#pCM" fill="#F5AA00"/>
<path fill="#FDE9A9" d="M405.0 317.5 420.0 310.0 427.5 320.0 430.0 340.0 420.0 347.5 402.5 345.0Z"/>
<path fill="#F9CC6E" d="M370.0 350.0 385.0 345.0 395.0 355.0 382.5 365.0 372.5 365.0Z"/>
<path fill="#F07E00" d="M382.5 365.0 395.0 357.5 407.5 362.5 410.0 377.5 400.0 387.5 385.0 385.0Z"/>
<path fill="#B81B00" d="M355.0 352.5 363.8 352.5 365.0 370.0 356.2 370.0Z"/>
</g>
<use href="#pCM" class="b"/>
<g clip-path="url(#cTD)"><use href="#pTD" fill="#FDE9A9"/>
<path fill="#F5AA00" d="M482.5 202.5 515.0 217.5 515.0 250.0 495.0 252.5 485.0 257.5 475.0 255.0 480.0 232.5 475.0 220.0Z"/>
<path fill="#F9CC6E" d="M405.0 257.5 435.0 255.0 467.5 252.5 480.0 257.5 505.0 252.5 505.0 265.0 495.0 280.0 500.0 300.0 485.0 310.0 472.5 320.0 450.0 325.0 435.0 345.0 405.0 345.0Z"/>
<path fill="#F5AA00" d="M405.0 287.5 425.0 290.0 435.0 295.0 447.5 302.5 472.5 320.0 460.0 330.0 435.0 330.0 405.0 320.0Z"/>
<path fill="#F07E00" d="M407.5 322.5 435.0 320.0 450.0 317.5 457.5 330.0 445.0 335.0 435.0 340.0 410.0 342.5Z"/>
<path fill="#E64200" d="M407.5 325.0 440.0 320.0 440.0 325.0 410.0 332.5Z"/>
</g>
<use href="#pTD" class="b"/>
<g clip-path="url(#cNE)"><use href="#pNE" fill="#F5AA00"/>
<path fill="#FDE9A9" d="M347.5 262.5 370.0 252.5 395.0 242.5 430.0 235.0 431.2 252.5 417.5 265.0 410.0 272.5 408.8 277.5 397.5 280.0 385.0 285.0 370.0 280.0 360.0 281.2 355.0 272.5Z"/>
<path fill="#F9CC6E" d="M316.2 227.5 330.0 232.5 340.0 252.5 342.5 265.0 347.5 280.0 335.0 277.5 320.0 280.0 310.0 285.0 300.0 287.5 315.0 270.0Z"/>
</g>
<use href="#pNE" class="b"/>
<g clip-path="url(#cNG)"><use href="#pNG" fill="#FDE9A9"/>
<path fill="#F9CC6E" d="M315.0 280.0 335.0 277.5 345.0 285.0 342.5 300.0 335.0 305.0 320.0 305.0 312.5 295.0Z"/>
<path fill="#E64200" d="M315.0 305.0 335.0 305.0 347.5 302.5 360.0 306.2 365.0 320.0 355.0 335.0 350.0 345.0 335.0 350.0 320.0 355.0 305.0 345.0 305.0 320.0Z"/>
<path fill="#B81B00" d="M305.0 317.5 317.5 312.5 327.5 325.0 335.0 332.5 325.0 345.0 315.0 340.0 305.0 340.0Z"/>
<path fill="#F07E00" d="M345.0 310.0 360.0 306.2 367.5 320.0 360.0 330.0 350.0 330.0Z"/>
<path fill="#F9CC6E" d="M370.0 320.0 380.0 317.5 395.0 330.0 390.0 345.0 375.0 350.0 365.0 345.0Z"/>
<path fill="#F5AA00" d="M360.0 320.0 372.5 320.0 377.5 330.0 370.0 345.0 357.5 350.0 352.5 342.5Z"/>
<path fill="#F5AA00" d="M335.0 345.0 355.0 342.5 360.0 352.5 355.0 367.5 342.5 370.0 335.0 360.0Z"/>
<path fill="#7D0025" d="M317.5 345.0 332.5 342.5 335.0 352.5 322.5 355.0Z"/>
<path fill="#FDE9A9" d="M341.2 356.2 347.5 356.2 347.5 367.5 341.2 367.5Z"/>
<path fill="#B81B00" d="M355.0 352.5 365.0 350.0 366.2 365.0 357.5 370.0Z"/>
<path fill="#7D0025" d="M330.0 366.2 345.0 367.5 345.0 373.8 332.5 373.8Z"/>
<path fill="#F5AA00" d="M398.8 282.5 415.0 280.0 420.0 295.0 415.0 310.0 402.5 315.0 392.5 310.0Z"/>
<path fill="#F9CC6E" d="M395.0 315.0 410.0 320.0 402.5 340.0 392.5 345.0Z"/>
</g>
<use href="#pNG" class="b"/>
<g clip-path="url(#cML)"><use href="#pML" fill="#F9CC6E"/>
<path fill="#F5AA00" d="M152.5 258.8 221.2 258.8 225.0 255.0 257.5 262.5 267.5 252.5 260.0 242.5 267.5 237.5 270.0 223.8 280.0 227.5 285.0 236.2 295.0 235.0 320.0 235.0 320.0 262.5 312.5 265.0 280.0 266.2 270.0 263.8 255.0 270.0 245.0 277.5 242.5 287.5 225.0 295.0 220.0 305.0 195.0 310.0 185.0 290.0 157.5 287.5Z"/>
<path fill="#FDE9A9" d="M255.0 213.8 273.8 197.5 307.5 223.8 320.0 223.8 320.0 235.5 295.0 234.5 285.0 236.2 280.0 227.5 270.0 223.8 267.5 218.8Z"/>
<path fill="#FDE9A9" d="M205.0 270.0 212.5 261.2 225.0 261.2 227.5 270.0 232.5 280.0 222.5 290.0 210.0 287.5 205.0 280.0Z"/>
</g>
<use href="#pML" class="b"/>
<g clip-path="url(#cBF)"><use href="#pBF" fill="#F5AA00"/>
<path fill="#7D0025" d="M246.2 277.5 252.5 273.8 257.5 280.0 255.0 287.5 248.8 288.8Z"/>
<path fill="#B81B00" d="M255.0 272.5 265.0 266.2 275.0 266.2 278.8 275.0 270.0 280.0 260.0 277.5Z"/>
<path fill="#7D0025" d="M271.2 282.5 278.8 278.8 287.5 287.5 296.2 292.5 295.0 300.0 285.0 302.5 277.5 297.5 272.5 290.0Z"/>
<path fill="#FDE9A9" d="M257.5 295.0 265.0 296.2 267.5 302.5 260.0 305.0Z"/>
<path fill="#F07E00" d="M300.0 280.0 310.0 272.5 318.8 270.0 320.0 280.0 312.5 290.0 302.5 290.0Z"/>
</g>
<use href="#pBF" class="b"/>
<g clip-path="url(#cBJ)"><use href="#pBJ" fill="#7D0025"/>
<path fill="#B81B00" d="M292.5 310.0 307.5 310.0 307.5 330.0 292.5 330.0Z"/>
<path fill="#E64200" d="M290.0 330.0 303.8 330.0 303.8 357.5 290.0 357.5Z"/>
</g>
<use href="#pBJ" class="b"/>
<g clip-path="url(#cTG)"><use href="#pTG" fill="#7D0025"/>
<path fill="#F07E00" d="M282.5 302.5 296.2 302.5 296.2 317.5 282.5 317.5Z"/>
<path fill="#E64200" d="M282.5 317.5 292.5 317.5 292.5 330.0 282.5 330.0Z"/>
</g>
<use href="#pTG" class="b"/>
<g clip-path="url(#cGH)"><use href="#pGH" fill="#7D0025"/>
</g>
<use href="#pGH" class="b"/>
<g clip-path="url(#cCI)"><use href="#pCI" fill="#7D0025"/>
<path fill="#F07E00" d="M220.0 305.0 245.0 302.5 247.5 312.5 225.0 315.0Z"/>
<path fill="#B81B00" d="M205.0 315.0 225.0 312.5 235.0 320.0 230.0 330.0 212.5 330.0Z"/>
<path fill="#F07E00" d="M193.8 315.0 205.0 312.5 207.5 325.0 197.5 327.5Z"/>
<path fill="#B81B00" d="M192.5 335.0 205.0 335.0 207.5 355.0 195.0 360.0Z"/>
<path fill="#B81B00" d="M225.0 355.0 240.0 352.5 245.0 365.0 230.0 367.5Z"/>
</g>
<use href="#pCI" class="b"/>
<g clip-path="url(#cGN)"><use href="#pGN" fill="#F5AA00"/>
<path fill="#F07E00" d="M127.5 302.5 140.0 292.5 147.5 300.0 145.0 310.0 135.0 312.5Z"/>
<path fill="#B81B00" d="M137.5 305.0 145.0 302.5 152.5 315.0 147.5 325.0 140.0 320.0Z"/>
<path fill="#F9CC6E" d="M145.0 305.0 157.5 305.0 160.0 315.0 150.0 317.5Z"/>
<path fill="#F07E00" d="M162.5 295.0 172.5 295.0 177.5 310.0 180.0 325.0 170.0 330.0 165.0 320.0Z"/>
<path fill="#F07E00" d="M177.5 320.0 190.0 315.0 195.0 330.0 185.0 335.0Z"/>
</g>
<use href="#pGN" class="b"/>
<g clip-path="url(#cLR)"><use href="#pLR" fill="#7D0025"/>
<path fill="#B81B00" d="M170.0 332.5 182.5 332.5 182.5 345.0 170.0 345.0Z"/>
<path fill="#E64200" d="M190.0 362.5 201.2 362.5 201.2 373.8 190.0 373.8Z"/>
<path fill="#B81B00" d="M177.5 360.0 190.0 360.0 190.0 370.0 177.5 370.0Z"/>
</g>
<use href="#pLR" class="b"/>
<g clip-path="url(#cSL)"><use href="#pSL" fill="#B81B00"/>
<path fill="#7D0025" d="M142.5 331.2 167.5 330.0 175.0 342.5 162.5 352.5 145.0 347.5Z"/>
</g>
<use href="#pSL" class="b"/>
<g clip-path="url(#cSN)"><use href="#pSN" fill="#F9CC6E"/>
<path fill="#FDE9A9" d="M102.5 255.0 125.0 253.8 130.0 262.5 128.8 270.0 120.0 273.8 108.8 273.8 102.5 267.5Z"/>
<path fill="#F5AA00" d="M110.0 270.0 120.0 270.0 120.0 278.8 110.0 278.8Z"/>
<path fill="#FDE9A9" d="M127.5 281.2 160.0 281.2 160.0 292.5 127.5 292.5Z"/>
</g>
<use href="#pSN" class="b"/>
<g clip-path="url(#cGM)"><use href="#pGM" fill="#F9CC6E"/>
</g>
<use href="#pGM" class="b"/>
</g>
<g clip-path="url(#cMG)"><use href="#mada" fill="#E64200"/>
<path fill="#F07E00" d="M730.0 605.0 745.0 602.5 757.5 590.0 760.0 580.0 770.0 572.5 780.0 580.0 775.0 592.5 767.5 622.5 757.5 647.5 750.0 672.5 740.0 672.5 735.0 662.5 730.0 657.5 722.5 660.0 727.5 640.0 726.2 615.0Z"/>
</g>
<use href="#over"/>
</svg>
<text class="pl" x="86" y="43">a</text>
<text class="lt" x="86.3" y="403.9">Households sharing</text>
<text class="lt" x="86.3" y="431.6">toilet facilities</text>
<rect x="92.3" y="452.90" width="21.3" height="35.22" fill="#7D0025"/>
<rect x="92.3" y="487.82" width="21.3" height="35.22" fill="#B81B00"/>
<rect x="92.3" y="522.74" width="21.3" height="35.22" fill="#E64200"/>
<rect x="92.3" y="557.66" width="21.3" height="35.22" fill="#F07E00"/>
<rect x="92.3" y="592.58" width="21.3" height="35.22" fill="#F5AA00"/>
<rect x="92.3" y="627.50" width="21.3" height="35.22" fill="#F9CC6E"/>
<rect x="92.3" y="662.42" width="21.3" height="35.22" fill="#FDE9A9"/>
<rect x="92.3" y="697.34" width="21.3" height="35.22" fill="#FFFFC8"/>
<rect x="92.3" y="732.26" width="21.3" height="35.22" fill="#808080"/>
<rect x="92.3" y="767.18" width="21.3" height="35.22" fill="#CCCCCC"/>
<rect x="92.3" y="453.9" width="21.3" height="347.3" fill="none" stroke="#000" stroke-width="1.7"/>
<path class="tk" style="stroke-width:1.5" d="M114.6 470.36h6.6M114.6 505.28h6.6M114.6 540.20h6.6M114.6 575.12h6.6M114.6 610.04h6.6M114.6 644.96h6.6M114.6 679.88h6.6M114.6 714.80h6.6M114.6 749.72h6.6M114.6 784.64h6.6"/>
<text class="lg" x="141.5" y="474.56">≥ 4</text>
<text class="lg" x="141.5" y="509.48">3.50-3.99</text>
<text class="lg" x="141.5" y="544.40">3.00-3.49</text>
<text class="lg" x="141.5" y="579.32">2.50-2.99</text>
<text class="lg" x="141.5" y="614.24">2.0-2.49</text>
<text class="lg" x="141.5" y="649.16">1.5-1.99</text>
<text class="lg" x="141.5" y="684.08">1.0-1.49</text>
<text class="lg" x="141.5" y="719.00">&lt;1.0</text>
<text class="lg" x="141.5" y="753.92">No data;<tspan dx="-1.6"> </tspan>Not in SSA</text>
<text class="lg" x="141.5" y="788.84">Water bodies</text>
<text class="cap" x="771.3" y="798.4" textLength="380.0" lengthAdjust="spacing">Number of households sharing toilets</text>
</g>
<g transform="translate(740,0)">
<svg x="73.3" y="2.0" width="740.0" height="810.0" viewBox="73.3 2.0 740.0 810.0" overflow="hidden">
<use href="#base"/>
<g clip-path="url(#cAF)">
<g clip-path="url(#cCD)"><use href="#pCD" fill="#E64200"/>
<path fill="#F07E00" d="M395.0 463.8 441.2 461.2 442.5 483.8 395.0 485.0Z"/>
<path fill="#7D0025" d="M428.8 461.2 440.0 461.2 440.0 471.2 428.8 471.2Z"/>
<path fill="#F07E00" d="M497.5 400.0 517.5 397.5 545.0 400.0 552.5 415.0 555.0 435.0 545.0 445.0 560.0 470.0 525.0 472.5 522.5 450.0 515.0 440.0 505.0 420.0Z"/>
<path fill="#F07E00" d="M440.0 385.0 460.0 382.5 455.0 407.5 450.0 427.5 435.0 430.0 435.0 395.0Z"/>
<path fill="#F5AA00" d="M430.0 402.5 442.5 402.5 442.5 435.0 430.0 440.0Z"/>
<path fill="#F5AA00" d="M545.0 372.5 567.5 375.0 580.0 382.5 577.5 395.0 570.0 410.0 555.0 415.0 545.0 400.0 547.5 385.0Z"/>
<path fill="#F07E00" d="M435.0 460.0 450.0 455.0 470.0 460.0 475.0 475.0 470.0 492.5 450.0 497.5 435.0 490.0Z"/>
<path fill="#B81B00" d="M480.0 445.0 495.0 440.0 515.0 440.0 522.5 450.0 525.0 472.5 515.0 482.5 505.0 465.0 495.0 470.0 490.0 482.5 497.5 495.0 485.0 497.5 472.5 490.0 475.0 470.0Z"/>
<path fill="#B81B00" d="M535.0 473.8 565.0 473.8 570.0 482.5 575.0 495.0 577.5 505.0 560.0 505.0 550.0 515.0 535.0 525.0 517.5 522.5 510.0 507.5 515.0 492.5 530.0 490.0Z"/>
<path fill="#F07E00" d="M495.0 500.0 510.0 507.5 517.5 522.5 535.0 525.0 530.0 537.5 510.0 540.0 495.0 532.5Z"/>
</g>
<use href="#pCD" class="b"/>
<g clip-path="url(#cCG)"><use href="#pCG" fill="#F5AA00"/>
<path fill="#F07E00" d="M440.0 385.0 460.0 382.5 457.5 407.5 450.0 420.0 445.0 432.5 427.5 430.0 425.0 417.5 440.0 405.0Z"/>
<path fill="#F9CC6E" d="M417.5 435.0 432.5 430.0 437.5 445.0 432.5 465.0 420.0 470.0 415.0 452.5Z"/>
<path fill="#7D0025" d="M427.5 462.5 438.8 461.2 437.5 470.0 428.8 471.2Z"/>
</g>
<use href="#pCG" class="b"/>
<g clip-path="url(#cAO)"><use href="#pAO" fill="#F07E00"/>
<path fill="#F5AA00" d="M398.8 482.8 422.5 482.8 417.5 494.0 412.5 509.0 420.0 516.5 430.0 516.5 437.5 529.0 430.0 539.0 417.5 541.5 410.0 539.0 405.0 509.0Z"/>
<path fill="#F5AA00" d="M450.0 506.5 470.0 494.0 492.5 494.0 492.5 509.0 480.0 516.5 470.0 524.0 460.0 531.5 450.0 521.5Z"/>
<path fill="#F5AA00" d="M440.0 566.5 455.0 559.0 462.5 544.0 480.0 539.0 500.0 536.5 513.8 536.5 513.8 554.0 495.0 556.5 495.0 584.0 505.0 601.5 455.0 601.5 447.5 584.0Z"/>
</g>
<use href="#pAO" class="b"/>
<g clip-path="url(#cAO2)"><use href="#pAO2" fill="#F5AA00"/>
</g>
<use href="#pAO2" class="b"/>
<g clip-path="url(#cZM)"><use href="#pZM" fill="#F07E00"/>
<path fill="#E64200" d="M575.0 534.0 585.0 526.5 595.0 519.0 605.0 524.0 607.5 541.5 605.0 559.0 595.0 566.5 582.5 571.5 575.0 569.0 572.5 554.0Z"/>
<path fill="#E64200" d="M530.0 531.5 545.0 529.0 555.0 539.0 565.0 549.0 570.0 559.0 562.5 556.5 550.0 546.5 540.0 541.5Z"/>
<path fill="#F5AA00" d="M602.5 559.0 612.5 564.0 610.0 570.2 602.5 566.5Z"/>
</g>
<use href="#pZM" class="b"/>
<g clip-path="url(#cNA)"><use href="#pNA" fill="#F9CC6E"/>
<path fill="#E64200" d="M453.8 601.5 483.8 606.5 483.8 619.0 466.2 619.0 466.2 614.0 453.8 614.0Z"/>
<path fill="#FDE9A9" d="M412.5 639.0 427.5 634.0 437.5 641.5 437.5 654.0 432.5 659.0 432.5 666.5 420.0 664.0 417.5 651.5Z"/>
</g>
<use href="#pNA" class="b"/>
<g clip-path="url(#cZA)"><use href="#pZA" fill="#F9CC6E"/>
<path fill="#FDE9A9" d="M502.5 689.0 512.5 684.0 525.0 681.5 535.0 677.8 540.0 669.0 555.0 659.0 565.0 651.5 582.5 654.0 586.2 669.0 582.5 674.0 565.0 681.5 562.5 699.0 570.0 709.0 562.5 719.0 550.0 716.5 552.5 729.0 540.0 739.0 525.0 736.5 517.5 726.5 522.5 714.0 520.0 709.0 515.0 699.0 507.5 696.5Z"/>
<path fill="#FDE9A9" d="M452.5 759.0 462.5 749.0 472.5 759.0 485.0 756.5 500.0 749.0 512.5 751.5 505.0 764.0 490.0 771.5 475.0 781.5 457.5 776.5Z"/>
</g>
<use href="#pZA" class="b"/>
<g clip-path="url(#cZW)"><use href="#pZW" fill="#F5AA00"/>
<path fill="#F9CC6E" d="M527.5 606.5 540.0 609.0 550.0 621.5 560.0 634.0 570.0 641.5 582.5 649.0 565.0 649.0 550.0 634.0 540.0 624.0Z"/>
<path fill="#F9CC6E" d="M580.0 609.0 587.5 599.0 597.5 594.0 600.0 609.0 592.5 619.0 582.5 619.0Z"/>
</g>
<use href="#pZW" class="b"/>
<g clip-path="url(#cTZ)"><use href="#pTZ" fill="#E64200"/>
<path fill="#B81B00" d="M575.0 455.0 590.0 450.0 607.5 452.5 615.0 462.5 612.5 482.5 605.0 492.5 595.0 497.5 585.0 492.5 577.5 480.0 575.0 467.5Z"/>
<path fill="#7D0025" d="M608.8 445.0 623.8 446.2 623.8 457.5 620.0 461.2 610.0 457.5Z"/>
<path fill="#F9CC6E" d="M622.5 447.5 635.0 445.0 650.0 455.0 660.0 462.5 655.0 470.0 642.5 460.0 630.0 462.5 622.5 457.5Z"/>
<path fill="#F5AA00" d="M642.5 460.0 655.0 470.0 662.5 470.0 667.5 490.0 670.0 520.0 660.0 530.0 647.5 520.0 640.0 505.0 635.0 492.5 642.5 482.5Z"/>
<path fill="#F9CC6E" d="M595.0 497.5 605.0 492.5 620.0 495.0 635.0 492.5 640.0 505.0 647.5 520.0 660.0 530.0 677.5 530.0 677.5 545.0 620.0 545.0 610.0 520.0 597.5 507.5Z"/>
<path fill="#F5AA00" d="M580.0 492.5 595.0 497.5 597.5 507.5 587.5 505.0Z"/>
</g>
<use href="#pTZ" class="b"/>
<g clip-path="url(#cMW)"><use href="#pMW" fill="#F5AA00"/>
</g>
<use href="#pMW" class="b"/>
<g clip-path="url(#cMZ)"><use href="#pMZ" fill="#F5AA00"/>
<path fill="#F07E00" d="M602.5 594.0 615.0 589.0 625.0 604.0 635.0 614.0 622.5 629.0 620.0 639.0 622.5 651.5 612.5 669.0 610.0 684.0 600.0 684.0 592.5 674.0 587.5 654.0 600.0 644.0 602.5 619.0Z"/>
<path fill="#F9CC6E" d="M655.0 539.0 670.0 534.0 680.0 541.5 680.0 564.0 662.5 566.5 652.5 556.5Z"/>
</g>
<use href="#pMZ" class="b"/>
<g clip-path="url(#cSZ)"><use href="#pSZ" fill="#F07E00"/>
<path fill="#E64200" d="M582.5 691.5 587.5 691.5 587.5 699.0 582.5 699.0Z"/>
</g>
<use href="#pSZ" class="b"/>
<g clip-path="url(#cLS)"><use href="#pLS" fill="#F5AA00"/>
<path fill="#F07E00" d="M548.8 724.0 555.0 724.0 555.0 729.0 548.8 729.0Z"/>
</g>
<use href="#pLS" class="b"/>
<g clip-path="url(#cRW)"><use href="#pRW" fill="#F9CC6E"/>
</g>
<use href="#pRW" class="b"/>
<g clip-path="url(#cBI)"><use href="#pBI" fill="#F5AA00"/>
</g>
<use href="#pBI" class="b"/>
<g clip-path="url(#cUG)"><use href="#pUG" fill="#F07E00"/>
<path fill="#E64200" d="M582.5 382.5 615.0 381.2 613.8 390.0 597.5 393.8 585.0 392.5Z"/>
<path fill="#F5AA00" d="M575.0 405.0 590.0 407.5 595.0 420.0 585.0 430.0 572.5 430.0 570.0 417.5Z"/>
<path fill="#B81B00" d="M605.0 403.8 613.8 403.8 613.8 410.0 605.0 410.0Z"/>
<path fill="#F5AA00" d="M610.0 388.8 618.8 391.2 620.0 400.0 613.8 398.8Z"/>
</g>
<use href="#pUG" class="b"/>
<g clip-path="url(#cKE)"><use href="#pKE" fill="#F07E00"/>
<path fill="#F9CC6E" d="M610.0 370.0 630.0 370.0 655.0 382.5 666.2 386.2 660.0 400.0 655.0 410.0 647.5 416.2 640.0 420.0 632.5 410.0 625.0 395.0 617.5 382.5Z"/>
<path fill="#F5AA00" d="M610.0 370.0 630.0 370.0 637.5 377.5 635.0 395.0 625.0 395.0 617.5 382.5Z"/>
<path fill="#E64200" d="M662.5 387.5 675.0 385.0 682.5 395.0 680.0 415.0 670.0 412.5 662.5 402.5Z"/>
<path fill="#E64200" d="M657.5 422.5 670.0 420.0 675.0 435.0 670.0 450.0 662.5 447.5 657.5 435.0Z"/>
<path fill="#FFFFC8" d="M637.5 400.0 650.0 400.0 655.0 415.0 650.0 430.0 640.0 435.0 635.0 420.0Z"/>
<path fill="#FDE9A9" d="M630.0 415.0 640.0 420.0 647.5 435.0 642.5 445.0 632.5 440.0 625.0 430.0Z"/>
<path fill="#F5AA00" d="M615.0 417.5 630.0 420.0 627.5 432.5 617.5 430.0Z"/>
<path fill="#F9CC6E" d="M622.5 445.0 635.0 445.0 650.0 452.5 660.0 460.0 655.0 465.0 635.0 457.5Z"/>
<path fill="#FDE9A9" d="M665.0 447.5 672.5 445.0 672.5 460.0 665.0 462.5Z"/>
</g>
<use href="#pKE" class="b"/>
<g clip-path="url(#cET)"><use href="#pET" fill="#F07E00"/>
<path fill="#F5AA00" d="M636.8 271.3 670.5 271.3 671.5 289.7 673.5 305.6 671.5 319.4 669.5 329.4 665.6 329.4 663.6 319.4 659.6 314.5 649.7 318.5 644.7 344.2 629.8 337.3 622.9 347.2 616.0 331.3 615.0 319.4 618.9 308.5 625.9 297.6 633.8 289.7Z"/>
<path fill="#F9CC6E" d="M670.5 270.3 675.5 271.3 696.3 292.7 689.4 307.0 683.4 311.5 679.4 323.4 673.5 329.4 671.0 323.4 673.5 305.6 671.5 289.7Z"/>
<path fill="#E64200" d="M689.4 306.5 701.3 306.5 750.9 337.8 723.1 369.0 702.3 374.0 689.4 379.0 665.6 382.9 671.5 366.1 681.4 363.1 683.4 353.2 693.3 349.2 692.3 339.3 699.3 335.3 701.3 320.4 694.3 321.4 679.4 323.4 683.4 311.5Z"/>
<path fill="#F9CC6E" d="M609.0 334.3 616.0 331.3 622.9 337.3 625.9 345.2 621.9 349.2 624.9 355.2 619.9 349.2 609.0 337.3Z"/>
</g>
<use href="#pET" class="b"/>
<g clip-path="url(#cGA)"><use href="#pGA" fill="#F5AA00"/>
<path fill="#F9CC6E" d="M367.5 412.5 390.0 400.0 405.0 400.0 405.0 410.0 390.0 415.0 385.0 425.0 372.5 435.0 365.0 430.0Z"/>
<path fill="#F07E00" d="M390.0 410.0 410.0 405.0 417.5 410.0 412.5 420.0 395.0 427.5 387.5 422.5Z"/>
</g>
<use href="#pGA" class="b"/>
<g clip-path="url(#cCM)"><use href="#pCM" fill="#F07E00"/>
<path fill="#B81B00" d="M415.0 310.0 425.0 310.0 427.5 320.0 417.5 322.5Z"/>
<path fill="#E64200" d="M405.0 317.5 420.0 310.0 427.5 320.0 430.0 340.0 420.0 347.5 402.5 345.0Z"/>
<path fill="#F5AA00" d="M365.0 370.0 375.0 360.0 385.0 357.5 395.0 365.0 402.5 375.0 395.0 385.0 380.0 387.5 370.0 382.5Z"/>
</g>
<use href="#pCM" class="b"/>
<g clip-path="url(#cTD)"><use href="#pTD" fill="#E64200"/>
<path fill="#F5AA00" d="M405.0 180.0 435.0 190.0 462.5 192.5 450.0 215.0 435.0 232.5 410.0 240.0Z"/>
<path fill="#F07E00" d="M482.5 202.5 515.0 217.5 515.0 250.0 495.0 252.5 485.0 257.5 475.0 255.0 480.0 232.5 475.0 220.0Z"/>
<path fill="#E64200" d="M500.0 210.0 515.0 217.5 515.0 250.0 495.0 252.5Z"/>
<path fill="#7D0025" d="M405.0 252.5 440.0 252.5 462.5 257.5 475.0 255.0 485.0 272.5 495.0 275.0 495.0 287.5 472.5 287.5 450.0 292.5 435.0 285.0 420.0 280.0 405.0 277.5Z"/>
<path fill="#7D0025" d="M411.2 270.0 420.0 272.5 430.0 277.5 427.5 285.0 417.5 287.5 412.5 280.0Z"/>
<path fill="#B81B00" d="M405.0 287.5 435.0 285.0 450.0 292.5 472.5 287.5 495.0 287.5 500.0 305.0 485.0 315.0 472.5 325.0 460.0 315.0 445.0 317.5 435.0 320.0 405.0 320.0Z"/>
<path fill="#E64200" d="M407.5 322.5 435.0 320.0 450.0 317.5 457.5 330.0 445.0 335.0 435.0 340.0 410.0 342.5Z"/>
<path fill="#B81B00" d="M445.0 320.0 455.0 325.0 452.5 335.0 445.0 330.0Z"/>
</g>
<use href="#pTD" class="b"/>
<g clip-path="url(#cNE)"><use href="#pNE" fill="#E64200"/>
<path fill="#F07E00" d="M395.0 242.5 430.0 235.0 431.2 252.5 417.5 265.0 410.0 272.5 397.5 280.0 385.0 282.5 392.5 265.0Z"/>
<path fill="#B81B00" d="M316.2 227.5 330.0 232.5 340.0 252.5 342.5 265.0 347.5 280.0 335.0 277.5 320.0 280.0 310.0 285.0 300.0 287.5 315.0 270.0Z"/>
<path fill="#7D0025" d="M340.0 262.5 347.5 261.2 355.0 270.0 360.0 277.5 350.0 282.5 342.5 280.0Z"/>
</g>
<use href="#pNE" class="b"/>
<g clip-path="url(#cNG)"><use href="#pNG" fill="#B81B00"/>
<path fill="#E64200" d="M315.0 280.0 335.0 277.5 345.0 285.0 342.5 300.0 335.0 305.0 320.0 305.0 312.5 295.0Z"/>
<path fill="#F07E00" d="M320.0 305.0 335.0 310.0 350.0 310.0 360.0 315.0 370.0 325.0 380.0 330.0 377.5 340.0 365.0 345.0 355.0 340.0 345.0 330.0 335.0 325.0 325.0 320.0Z"/>
<path fill="#F9CC6E" d="M305.0 315.0 320.0 310.0 325.0 320.0 335.0 325.0 345.0 330.0 355.0 340.0 365.0 345.0 367.5 352.5 365.0 377.5 345.0 380.0 325.0 377.5 320.0 357.5 310.0 355.0 302.5 355.0 302.5 325.0Z"/>
<path fill="#FDE9A9" d="M303.8 325.0 315.0 325.0 320.0 335.0 317.5 350.0 305.0 350.0Z"/>
<path fill="#F9CC6E" d="M370.0 320.0 380.0 317.5 395.0 330.0 390.0 345.0 375.0 350.0 365.0 345.0Z"/>
<path fill="#F5AA00" d="M335.0 345.0 355.0 342.5 360.0 352.5 355.0 367.5 342.5 370.0 335.0 360.0Z"/>
<path fill="#FDE9A9" d="M341.2 356.2 347.5 356.2 347.5 367.5 341.2 367.5Z"/>
<path fill="#FDE9A9" d="M355.0 352.5 365.0 350.0 366.2 365.0 357.5 370.0Z"/>
<path fill="#E64200" d="M377.5 310.0 395.0 305.0 407.5 310.0 405.0 320.0 395.0 330.0 390.0 345.0 382.5 350.0 372.5 345.0 380.0 330.0Z"/>
<path fill="#F5AA00" d="M395.0 315.0 410.0 320.0 402.5 340.0 392.5 345.0Z"/>
</g>
<use href="#pNG" class="b"/>
<g clip-path="url(#cML)"><use href="#pML" fill="#E64200"/>
<path fill="#F07E00" d="M260.0 242.5 267.5 237.5 270.0 223.8 280.0 227.5 285.0 236.2 295.0 235.0 320.0 235.0 320.0 262.5 312.5 265.0 280.0 266.2 270.0 263.8 267.5 252.5Z"/>
<path fill="#F5AA00" d="M255.0 213.8 273.8 197.5 307.5 223.8 320.0 223.8 320.0 235.5 295.0 234.5 285.0 236.2 280.0 227.5 270.0 223.8 267.5 218.8Z"/>
<path fill="#F07E00" d="M205.0 270.0 212.5 261.2 225.0 261.2 227.5 270.0 232.5 280.0 222.5 290.0 210.0 287.5 205.0 280.0Z"/>
</g>
<use href="#pML" class="b"/>
<g clip-path="url(#cBF)"><use href="#pBF" fill="#E64200"/>
<path fill="#B81B00" d="M230.0 282.5 245.0 280.0 250.0 290.0 245.0 300.0 235.0 300.0Z"/>
<path fill="#F07E00" d="M245.0 275.0 265.0 267.5 275.0 270.0 270.0 287.5 257.5 295.0 247.5 287.5Z"/>
<path fill="#B81B00" d="M271.2 282.5 278.8 278.8 287.5 287.5 296.2 292.5 295.0 300.0 285.0 302.5 277.5 297.5 272.5 290.0Z"/>
<path fill="#F5AA00" d="M257.5 295.0 265.0 296.2 267.5 302.5 260.0 305.0Z"/>
</g>
<use href="#pBF" class="b"/>
<g clip-path="url(#cBJ)"><use href="#pBJ" fill="#E64200"/>
<path fill="#7D0025" d="M296.2 293.8 307.5 292.5 311.2 302.5 307.5 311.2 297.5 311.2Z"/>
<path fill="#B81B00" d="M292.5 310.0 307.5 310.0 307.5 330.0 292.5 330.0Z"/>
<path fill="#F9CC6E" d="M290.0 330.0 303.8 330.0 303.8 357.5 290.0 357.5Z"/>
</g>
<use href="#pBJ" class="b"/>
<g clip-path="url(#cTG)"><use href="#pTG" fill="#E64200"/>
<path fill="#F9CC6E" d="M280.0 330.0 292.5 330.0 292.5 357.5 280.0 357.5Z"/>
</g>
<use href="#pTG" class="b"/>
<g clip-path="url(#cGH)"><use href="#pGH" fill="#F9CC6E"/>
<path fill="#F5AA00" d="M247.5 307.5 275.0 306.2 278.8 317.5 275.0 330.0 267.5 332.5 260.0 325.0 255.0 320.0 248.8 320.0Z"/>
<path fill="#FDE9A9" d="M250.0 345.0 260.0 342.5 267.5 350.0 265.0 360.0 255.0 362.5 250.0 355.0Z"/>
</g>
<use href="#pGH" class="b"/>
<g clip-path="url(#cCI)"><use href="#pCI" fill="#F07E00"/>
<path fill="#E64200" d="M195.0 310.0 215.0 312.5 235.0 310.0 247.5 305.0 247.5 320.0 235.0 330.0 220.0 325.0 207.5 330.0 195.0 325.0Z"/>
<path fill="#B81B00" d="M193.8 315.0 205.0 312.5 207.5 325.0 197.5 327.5Z"/>
<path fill="#7D0025" d="M202.5 327.5 212.5 325.0 220.0 332.5 215.0 340.0 205.0 337.5Z"/>
<path fill="#E64200" d="M192.5 335.0 205.0 335.0 207.5 355.0 195.0 360.0Z"/>
<path fill="#F5AA00" d="M235.0 320.0 247.5 317.5 247.5 340.0 237.5 345.0Z"/>
<path fill="#F5AA00" d="M202.5 360.0 212.5 355.0 225.0 357.5 237.5 350.0 245.0 340.0 245.0 365.0 202.5 375.0Z"/>
</g>
<use href="#pCI" class="b"/>
<g clip-path="url(#cGN)"><use href="#pGN" fill="#E64200"/>
<path fill="#7D0025" d="M162.5 300.0 170.0 295.0 175.0 310.0 180.0 320.0 190.0 315.0 195.0 330.0 192.5 340.0 185.0 342.5 177.5 332.5 170.0 330.0 165.0 320.0Z"/>
<path fill="#B81B00" d="M170.0 300.0 182.5 295.0 190.0 305.0 191.2 315.0 182.5 320.0 175.0 310.0Z"/>
</g>
<use href="#pGN" class="b"/>
<g clip-path="url(#cLR)"><use href="#pLR" fill="#F07E00"/>
<path fill="#F5AA00" d="M165.0 342.5 180.0 340.0 182.5 350.0 170.0 355.0Z"/>
<path fill="#E64200" d="M182.5 345.0 192.5 342.5 195.0 360.0 185.0 360.0Z"/>
<path fill="#7D0025" d="M177.5 360.0 190.0 360.0 190.0 370.0 177.5 370.0Z"/>
</g>
<use href="#pLR" class="b"/>
<g clip-path="url(#cSL)"><use href="#pSL" fill="#E64200"/>
</g>
<use href="#pSL" class="b"/>
<g clip-path="url(#cSN)"><use href="#pSN" fill="#7D0025"/>
</g>
<use href="#pSN" class="b"/>
<g clip-path="url(#cGM)"><use href="#pGM" fill="#7D0025"/>
</g>
<use href="#pGM" class="b"/>
</g>
<g clip-path="url(#cMG)"><use href="#mada" fill="#F5AA00"/>
<path fill="#F07E00" d="M702.5 635.0 720.0 610.0 727.5 612.5 732.5 627.5 745.0 630.0 760.0 632.5 752.5 665.0 740.0 687.5 707.5 687.5 700.0 652.5Z"/>
<path fill="#F9CC6E" d="M757.5 547.5 767.5 542.5 780.0 580.0 770.0 580.0 765.0 565.0 755.0 567.5Z"/>
</g>
<use href="#over"/>
</svg>
<text class="pl" x="86" y="43">b</text>
<text class="lt" x="86.3" y="403.9">Persons per</text>
<text class="lt" x="86.3" y="431.6">room</text>
<rect x="92.3" y="452.90" width="21.3" height="35.22" fill="#7D0025"/>
<rect x="92.3" y="487.82" width="21.3" height="35.22" fill="#B81B00"/>
<rect x="92.3" y="522.74" width="21.3" height="35.22" fill="#E64200"/>
<rect x="92.3" y="557.66" width="21.3" height="35.22" fill="#F07E00"/>
<rect x="92.3" y="592.58" width="21.3" height="35.22" fill="#F5AA00"/>
<rect x="92.3" y="627.50" width="21.3" height="35.22" fill="#F9CC6E"/>
<rect x="92.3" y="662.42" width="21.3" height="35.22" fill="#FDE9A9"/>
<rect x="92.3" y="697.34" width="21.3" height="35.22" fill="#FFFFC8"/>
<rect x="92.3" y="732.26" width="21.3" height="35.22" fill="#808080"/>
<rect x="92.3" y="767.18" width="21.3" height="35.22" fill="#CCCCCC"/>
<rect x="92.3" y="453.9" width="21.3" height="347.3" fill="none" stroke="#000" stroke-width="1.7"/>
<path class="tk" style="stroke-width:1.5" d="M114.6 470.36h6.6M114.6 505.28h6.6M114.6 540.20h6.6M114.6 575.12h6.6M114.6 610.04h6.6M114.6 644.96h6.6M114.6 679.88h6.6M114.6 714.80h6.6M114.6 749.72h6.6M114.6 784.64h6.6"/>
<text class="lg" x="141.5" y="474.56">≥ 4.50</text>
<text class="lg" x="141.5" y="509.48">4.00-4.49</text>
<text class="lg" x="141.5" y="544.40">3.50-3.99</text>
<text class="lg" x="141.5" y="579.32">3.00-3.49</text>
<text class="lg" x="141.5" y="614.24">2.50-2.99</text>
<text class="lg" x="141.5" y="649.16">2.00-2.49</text>
<text class="lg" x="141.5" y="684.08">1.50-1.99</text>
<text class="lg" x="141.5" y="719.00">&lt;1.50</text>
<text class="lg" x="141.5" y="753.92">No data;<tspan dx="-1.6"> </tspan>Not in SSA</text>
<text class="lg" x="141.5" y="788.84">Water bodies</text>
<text class="cap" x="771.3" y="798.4" textLength="180.9" lengthAdjust="spacing">Persons per room</text>
</g>
<g transform="translate(0,810)">
<svg x="73.3" y="2.0" width="740.0" height="810.0" viewBox="73.3 2.0 740.0 810.0" overflow="hidden">
<use href="#base"/>
<g clip-path="url(#cAF)">
<g clip-path="url(#cCD)"><use href="#pCD" fill="#7D0025"/>
<path fill="#E64200" d="M395.0 463.8 441.2 461.2 442.5 483.8 395.0 485.0Z"/>
<path fill="#B81B00" d="M497.5 400.0 517.5 397.5 545.0 400.0 552.5 415.0 555.0 435.0 545.0 445.0 560.0 470.0 525.0 472.5 522.5 450.0 515.0 440.0 505.0 420.0Z"/>
<path fill="#B81B00" d="M460.0 370.0 480.0 370.0 502.5 380.0 497.5 390.0 480.0 395.0 460.0 400.0 455.0 390.0Z"/>
<path fill="#E64200" d="M455.0 402.5 480.0 400.0 477.5 420.0 467.5 432.5 455.0 430.0 452.5 415.0Z"/>
<path fill="#E64200" d="M507.5 490.0 517.5 472.5 535.0 472.5 535.0 490.0 530.0 495.0 510.0 502.5Z"/>
<path fill="#B81B00" d="M510.0 502.5 530.0 495.0 540.0 502.5 545.0 520.0 540.0 532.5 517.5 525.0Z"/>
<path fill="#E64200" d="M540.0 507.5 560.0 502.5 570.0 502.5 557.5 520.0 557.5 537.5 570.0 545.0 570.0 560.0 545.0 545.0 535.0 542.5 537.5 520.0Z"/>
</g>
<use href="#pCD" class="b"/>
<g clip-path="url(#cCG)"><use href="#pCG" fill="#F07E00"/>
<path fill="#F5AA00" d="M417.5 435.0 432.5 430.0 437.5 445.0 432.5 465.0 420.0 470.0 415.0 452.5Z"/>
<path fill="#F9CC6E" d="M442.5 387.5 455.0 385.0 452.5 420.0 442.5 430.0 440.0 410.0Z"/>
<path fill="#B81B00" d="M415.0 407.5 425.0 407.5 427.5 430.0 417.5 430.0Z"/>
<path fill="#E64200" d="M400.0 467.5 437.5 467.5 437.5 480.0 400.0 480.0Z"/>
</g>
<use href="#pCG" class="b"/>
<g clip-path="url(#cAO)"><use href="#pAO" fill="#F07E00"/>
<path fill="#F5AA00" d="M427.5 516.5 435.0 499.0 445.0 501.5 450.0 516.5 460.0 529.0 457.5 539.0 450.0 539.0 445.0 524.0 435.0 521.5Z"/>
<path fill="#F5AA00" d="M410.0 564.0 425.0 561.5 437.5 564.0 438.8 579.0 425.0 586.5 410.0 584.0 407.5 574.0Z"/>
<path fill="#E64200" d="M407.5 591.5 425.0 586.5 440.0 579.0 447.5 584.0 447.5 601.5 407.5 601.5Z"/>
<path fill="#E64200" d="M398.8 482.8 438.8 482.8 442.5 494.0 435.0 501.5 420.0 501.5 407.5 499.0Z"/>
<path fill="#7D0025" d="M406.2 501.5 417.5 500.2 422.5 509.0 417.5 519.0 412.5 526.5 407.5 519.0Z"/>
<path fill="#B81B00" d="M417.5 506.5 427.5 501.5 430.0 509.0 422.5 519.0 417.5 519.0Z"/>
<path fill="#7D0025" d="M450.0 506.5 470.0 494.0 492.5 494.0 492.5 531.5 485.0 539.0 475.0 536.5 465.0 539.0 457.5 529.0 450.0 521.5Z"/>
<path fill="#B81B00" d="M455.0 556.5 465.0 539.0 475.0 536.5 485.0 539.0 492.5 531.5 515.0 536.5 515.0 554.0 495.0 556.5 495.0 584.0 485.0 576.5 475.0 574.0 462.5 569.0Z"/>
</g>
<use href="#pAO" class="b"/>
<g clip-path="url(#cAO2)"><use href="#pAO2" fill="#E64200"/>
</g>
<use href="#pAO2" class="b"/>
<g clip-path="url(#cZM)"><use href="#pZM" fill="#FDE9A9"/>
<path fill="#F5AA00" d="M552.5 580.2 565.0 574.0 575.0 577.8 572.5 584.0 560.0 586.5Z"/>
<path fill="#F9CC6E" d="M565.0 511.5 577.5 506.5 590.0 514.0 587.5 534.0 575.0 539.0 565.0 529.0Z"/>
<path fill="#F5AA00" d="M575.0 539.0 587.5 534.0 600.0 526.5 605.0 541.5 595.0 559.0 582.5 551.5Z"/>
<path fill="#FFFFC8" d="M497.5 556.5 513.8 554.0 525.0 559.0 540.0 564.0 525.0 574.0 505.0 574.0Z"/>
</g>
<use href="#pZM" class="b"/>
<g clip-path="url(#cNA)"><use href="#pNA" fill="#FFFFC8"/>
<path fill="#FDE9A9" d="M420.0 666.5 475.0 667.8 475.0 719.0 447.5 719.0 432.5 706.5 425.0 684.0Z"/>
<path fill="#FDE9A9" d="M432.5 654.0 450.0 646.5 460.0 659.0 450.0 666.5 435.0 669.0Z"/>
</g>
<use href="#pNA" class="b"/>
<g clip-path="url(#cZA)"><use href="#pZA" fill="#FDE9A9"/>
<path fill="#F5AA00" d="M540.0 669.0 555.0 659.0 565.0 651.5 585.0 654.0 590.0 669.0 582.5 674.0 565.0 681.5 550.0 681.5 542.5 676.5Z"/>
<path fill="#FFFFC8" d="M452.5 736.5 470.0 729.0 480.0 746.5 500.0 749.0 512.5 751.5 505.0 764.0 490.0 771.5 475.0 781.5 457.5 776.5Z"/>
<path fill="#FFFFC8" d="M520.0 709.0 540.0 699.0 562.5 699.0 570.0 709.0 562.5 719.0 552.5 729.0 540.0 739.0 525.0 736.5 517.5 726.5Z"/>
<path fill="#F9CC6E" d="M502.5 766.5 517.5 749.0 535.0 741.5 560.0 736.5 572.5 741.5 550.0 764.0 525.0 774.0Z"/>
<path fill="#F9CC6E" d="M592.5 671.5 602.5 684.0 600.0 691.5 592.5 689.0Z"/>
</g>
<use href="#pZA" class="b"/>
<g clip-path="url(#cZW)"><use href="#pZW" fill="#FDE9A9"/>
<path fill="#FFFFC8" d="M550.0 614.0 565.0 609.0 575.0 624.0 565.0 634.0 552.5 629.0Z"/>
</g>
<use href="#pZW" class="b"/>
<g clip-path="url(#cTZ)"><use href="#pTZ" fill="#E64200"/>
<path fill="#F9CC6E" d="M608.8 445.0 623.8 446.2 623.8 457.5 620.0 461.2 610.0 457.5Z"/>
<path fill="#F07E00" d="M642.5 460.0 655.0 470.0 662.5 470.0 667.5 490.0 670.0 520.0 660.0 530.0 647.5 520.0 640.0 505.0 635.0 492.5 642.5 482.5Z"/>
<path fill="#F07E00" d="M582.5 442.5 595.0 447.5 610.0 450.0 622.5 455.0 615.0 462.5 595.0 460.0 585.0 457.5Z"/>
<path fill="#F9CC6E" d="M625.0 440.0 635.0 442.5 642.5 450.0 640.0 460.0 630.0 462.5 622.5 455.0Z"/>
<path fill="#FDE9A9" d="M585.0 465.0 597.5 460.0 612.5 462.5 615.0 477.5 607.5 492.5 597.5 490.0 587.5 480.0Z"/>
<path fill="#F07E00" d="M570.0 455.0 585.0 457.5 587.5 480.0 597.5 490.0 595.0 500.0 582.5 495.0 572.5 475.0Z"/>
<path fill="#B81B00" d="M610.0 512.5 627.5 512.5 627.5 525.0 620.0 530.0 612.5 522.5Z"/>
<path fill="#F9CC6E" d="M642.5 505.0 660.0 502.5 670.0 520.0 670.0 532.5 650.0 532.5 642.5 520.0Z"/>
<path fill="#F07E00" d="M595.0 447.5 610.0 450.0 615.0 462.5 597.5 460.0Z"/>
</g>
<use href="#pTZ" class="b"/>
<g clip-path="url(#cMW)"><use href="#pMW" fill="#FDE9A9"/>
</g>
<use href="#pMW" class="b"/>
<g clip-path="url(#cMZ)"><use href="#pMZ" fill="#F5AA00"/>
<path fill="#E64200" d="M640.0 577.5 660.0 565.0 680.0 562.5 681.2 577.5 670.0 590.0 660.0 592.5 652.5 580.0Z"/>
<path fill="#FFFFC8" d="M625.0 580.0 640.0 577.5 652.5 580.0 662.5 595.0 647.5 605.0 632.5 610.0 627.5 595.0Z"/>
<path fill="#FDE9A9" d="M575.0 570.0 605.0 570.0 607.5 592.5 585.0 592.5Z"/>
<path fill="#F07E00" d="M610.0 605.0 620.0 595.0 632.5 612.5 622.5 625.0 617.5 640.0 610.0 637.5 612.5 620.0Z"/>
<path fill="#F9CC6E" d="M602.5 592.5 615.0 590.0 610.0 605.0 612.5 620.0 607.5 640.0 597.5 642.5 602.5 615.0Z"/>
<path fill="#FFFFC8" d="M585.0 642.5 630.0 640.0 630.0 702.5 585.0 702.5Z"/>
<path fill="#FDE9A9" d="M587.5 650.0 600.0 647.5 602.5 672.5 592.5 675.0Z"/>
</g>
<use href="#pMZ" class="b"/>
<g clip-path="url(#cSZ)"><use href="#pSZ" fill="#F9CC6E"/>
</g>
<use href="#pSZ" class="b"/>
<g clip-path="url(#cLS)"><use href="#pLS" fill="#E64200"/>
<path fill="#B81B00" d="M552.5 721.5 560.0 721.5 560.0 727.8 552.5 727.8Z"/>
<path fill="#F07E00" d="M546.2 726.5 552.5 726.5 552.5 734.0 546.2 734.0Z"/>
</g>
<use href="#pLS" class="b"/>
<g clip-path="url(#cRW)"><use href="#pRW" fill="#7D0025"/>
</g>
<use href="#pRW" class="b"/>
<g clip-path="url(#cBI)"><use href="#pBI" fill="#E64200"/>
<path fill="#7D0025" d="M562.5 442.5 571.2 442.5 571.2 460.0 562.5 460.0Z"/>
</g>
<use href="#pBI" class="b"/>
<g clip-path="url(#cUG)"><use href="#pUG" fill="#FFFFC8"/>
<path fill="#FDE9A9" d="M582.5 382.5 615.0 381.2 613.8 390.0 597.5 393.8 585.0 392.5Z"/>
<path fill="#FDE9A9" d="M582.5 392.5 597.5 393.8 610.0 395.0 607.5 407.5 585.0 410.0Z"/>
<path fill="#F9CC6E" d="M575.0 405.0 590.0 407.5 595.0 420.0 585.0 430.0 572.5 430.0 570.0 417.5Z"/>
<path fill="#F07E00" d="M595.0 411.2 610.0 412.5 607.5 420.0 595.0 420.0Z"/>
<path fill="#B81B00" d="M618.8 390.0 628.8 395.0 631.2 417.5 622.5 420.0 620.0 407.5Z"/>
<path fill="#F9CC6E" d="M575.0 410.0 590.0 410.0 590.0 430.0 575.0 430.0Z"/>
<path fill="#B81B00" d="M571.2 420.0 578.8 420.0 578.8 430.0 571.2 430.0Z"/>
</g>
<use href="#pUG" class="b"/>
<g clip-path="url(#cKE)"><use href="#pKE" fill="#F5AA00"/>
<path fill="#F07E00" d="M671.2 385.0 680.0 378.8 690.0 381.2 682.5 392.5 675.0 390.0Z"/>
<path fill="#FFFFC8" d="M662.5 387.5 675.0 385.0 682.5 395.0 680.0 415.0 670.0 412.5 662.5 402.5Z"/>
<path fill="#F9CC6E" d="M657.5 422.5 670.0 420.0 675.0 435.0 670.0 450.0 662.5 447.5 657.5 435.0Z"/>
<path fill="#FFFFC8" d="M637.5 400.0 650.0 400.0 655.0 415.0 650.0 430.0 640.0 435.0 635.0 420.0Z"/>
<path fill="#F9CC6E" d="M652.5 422.5 665.0 420.0 672.5 435.0 670.0 447.5 660.0 450.0 652.5 440.0Z"/>
<path fill="#E64200" d="M645.0 425.0 655.0 422.5 660.0 442.5 652.5 450.0 645.0 440.0Z"/>
<path fill="#FDE9A9" d="M630.0 415.0 640.0 420.0 647.5 435.0 642.5 445.0 632.5 440.0 625.0 430.0Z"/>
<path fill="#B81B00" d="M615.0 417.5 630.0 420.0 627.5 432.5 617.5 430.0Z"/>
<path fill="#B81B00" d="M663.8 452.5 672.5 445.0 676.2 455.0 668.8 462.5Z"/>
<path fill="#FDE9A9" d="M650.0 450.0 665.0 452.5 670.0 462.5 665.0 468.8 652.5 457.5Z"/>
<path fill="#E64200" d="M615.0 395.0 632.5 397.5 632.5 420.0 617.5 425.0Z"/>
<path fill="#7D0025" d="M645.0 437.5 655.0 437.5 655.0 447.5 645.0 447.5Z"/>
</g>
<use href="#pKE" class="b"/>
<g clip-path="url(#cET)"><use href="#pET" fill="#E64200"/>
<path fill="#F5AA00" d="M689.4 306.5 701.3 306.5 750.9 337.8 723.1 369.0 702.3 374.0 689.4 379.0 665.6 382.9 671.5 366.1 681.4 363.1 683.4 353.2 693.3 349.2 692.3 339.3 699.3 335.3 701.3 320.4 694.3 321.4 679.4 323.4 683.4 311.5Z"/>
<path fill="#B81B00" d="M622.9 347.2 629.8 337.3 644.7 344.2 649.7 335.3 659.6 333.3 657.6 345.2 663.6 354.2 652.7 359.1 652.7 365.1 642.7 368.1 639.8 373.0 631.8 372.0 624.9 359.1Z"/>
<path fill="#F9CC6E" d="M635.0 275.0 652.5 268.8 670.0 270.0 681.2 272.5 696.2 287.5 690.0 300.0 682.5 310.0 675.0 325.0 670.0 320.0 667.5 300.0 660.0 287.5 647.5 280.0 637.5 285.0Z"/>
<path fill="#F07E00" d="M627.5 292.5 640.0 282.5 655.0 282.5 667.5 295.0 672.5 317.5 660.0 320.0 647.5 315.0 635.0 317.5 632.5 302.5Z"/>
<path fill="#F9CC6E" d="M617.5 310.0 630.0 297.5 635.0 317.5 625.0 325.0 615.0 322.5Z"/>
</g>
<use href="#pET" class="b"/>
<g clip-path="url(#cGA)"><use href="#pGA" fill="#E64200"/>
<path fill="#FFFFC8" d="M368.8 412.5 382.5 411.2 380.0 422.5 370.0 425.0Z"/>
<path fill="#FFFFC8" d="M365.0 425.0 375.0 425.0 380.0 440.0 370.0 445.0Z"/>
<path fill="#F9CC6E" d="M407.5 422.5 417.5 420.0 415.0 440.0 405.0 440.0Z"/>
<path fill="#B81B00" d="M402.5 445.0 417.5 447.5 432.5 452.5 430.0 465.0 417.5 462.5 405.0 460.0Z"/>
</g>
<use href="#pGA" class="b"/>
<g clip-path="url(#cCM)"><use href="#pCM" fill="#F07E00"/>
<path fill="#F5AA00" d="M415.0 310.0 425.0 310.0 427.5 320.0 417.5 322.5Z"/>
<path fill="#F5AA00" d="M405.0 317.5 420.0 310.0 427.5 320.0 430.0 340.0 420.0 347.5 402.5 345.0Z"/>
<path fill="#E64200" d="M370.0 350.0 385.0 345.0 395.0 355.0 382.5 365.0 372.5 365.0Z"/>
<path fill="#F5AA00" d="M365.0 370.0 375.0 360.0 385.0 357.5 395.0 365.0 402.5 375.0 395.0 385.0 380.0 387.5 370.0 382.5Z"/>
<path fill="#E64200" d="M355.0 352.5 363.8 352.5 365.0 370.0 356.2 370.0Z"/>
</g>
<use href="#pCM" class="b"/>
<g clip-path="url(#cTD)"><use href="#pTD" fill="#FFFFC8"/>
<path fill="#FDE9A9" d="M405.0 195.0 455.0 195.0 455.0 245.0 435.0 255.0 405.0 255.0Z"/>
<path fill="#FDE9A9" d="M405.0 290.0 472.5 290.0 472.5 335.0 405.0 345.0Z"/>
<path fill="#F5AA00" d="M447.5 270.0 465.0 255.0 475.0 265.0 477.5 280.0 460.0 295.0 445.0 287.5Z"/>
<path fill="#F07E00" d="M475.0 272.5 492.5 275.0 495.0 285.0 477.5 287.5Z"/>
<path fill="#F9CC6E" d="M472.5 287.5 495.0 290.0 497.5 297.5 480.0 300.0Z"/>
<path fill="#F5AA00" d="M465.0 297.5 485.0 295.0 497.5 300.0 495.0 310.0 472.5 320.0Z"/>
<path fill="#F9CC6E" d="M445.0 320.0 455.0 320.0 455.0 332.5 445.0 332.5Z"/>
</g>
<use href="#pTD" class="b"/>
<g clip-path="url(#cNE)"><use href="#pNE" fill="#F9CC6E"/>
<path fill="#F5AA00" d="M347.5 262.5 370.0 252.5 395.0 242.5 430.0 235.0 431.2 252.5 417.5 265.0 410.0 272.5 408.8 277.5 397.5 280.0 385.0 285.0 370.0 280.0 360.0 281.2 355.0 272.5Z"/>
<path fill="#F07E00" d="M395.0 242.5 430.0 235.0 431.2 252.5 417.5 265.0 410.0 272.5 397.5 280.0 385.0 282.5 392.5 265.0Z"/>
<path fill="#F07E00" d="M340.0 262.5 347.5 261.2 355.0 270.0 360.0 277.5 350.0 282.5 342.5 280.0Z"/>
</g>
<use href="#pNE" class="b"/>
<g clip-path="url(#cNG)"><use href="#pNG" fill="#FFFFC8"/>
<path fill="#F5AA00" d="M370.0 320.0 380.0 317.5 395.0 330.0 390.0 345.0 375.0 350.0 365.0 345.0Z"/>
<path fill="#F9CC6E" d="M360.0 320.0 372.5 320.0 377.5 330.0 370.0 345.0 357.5 350.0 352.5 342.5Z"/>
<path fill="#E64200" d="M355.0 352.5 365.0 350.0 366.2 365.0 357.5 370.0Z"/>
<path fill="#FDE9A9" d="M325.0 287.5 345.0 285.0 355.0 295.0 345.0 305.0 330.0 302.5Z"/>
<path fill="#F5AA00" d="M382.5 285.0 400.0 282.5 405.0 295.0 400.0 307.5 385.0 310.0Z"/>
<path fill="#F9CC6E" d="M382.5 305.0 395.0 305.0 395.0 320.0 382.5 320.0Z"/>
<path fill="#F5AA00" d="M365.0 330.0 380.0 330.0 380.0 342.5 365.0 342.5Z"/>
<path fill="#F5AA00" d="M345.0 348.8 352.5 348.8 352.5 360.0 345.0 360.0Z"/>
<path fill="#F5AA00" d="M350.0 365.0 357.5 365.0 357.5 372.5 350.0 372.5Z"/>
</g>
<use href="#pNG" class="b"/>
<g clip-path="url(#cML)"><use href="#pML" fill="#F9CC6E"/>
<path fill="#FFFFC8" d="M152.5 258.8 221.2 258.8 225.0 255.0 257.5 262.5 267.5 252.5 260.0 242.5 267.5 237.5 270.0 223.8 280.0 227.5 285.0 236.2 295.0 235.0 320.0 235.0 320.0 262.5 312.5 265.0 280.0 266.2 270.0 263.8 255.0 270.0 245.0 277.5 242.5 287.5 225.0 295.0 220.0 305.0 195.0 310.0 185.0 290.0 157.5 287.5Z"/>
<path fill="#F9CC6E" d="M260.0 242.5 267.5 237.5 270.0 223.8 280.0 227.5 285.0 236.2 295.0 235.0 320.0 235.0 320.0 262.5 312.5 265.0 280.0 266.2 270.0 263.8 267.5 252.5Z"/>
<path fill="#F07E00" d="M255.0 213.8 273.8 197.5 307.5 223.8 320.0 223.8 320.0 235.5 295.0 234.5 285.0 236.2 280.0 227.5 270.0 223.8 267.5 218.8Z"/>
<path fill="#FFFFC8" d="M205.0 270.0 212.5 261.2 225.0 261.2 227.5 270.0 232.5 280.0 222.5 290.0 210.0 287.5 205.0 280.0Z"/>
<path fill="#FDE9A9" d="M152.5 258.8 205.0 258.8 205.0 287.5 157.5 287.5Z"/>
</g>
<use href="#pML" class="b"/>
<g clip-path="url(#cBF)"><use href="#pBF" fill="#FDE9A9"/>
<path fill="#F9CC6E" d="M255.0 272.5 265.0 266.2 275.0 266.2 278.8 275.0 270.0 280.0 260.0 277.5Z"/>
<path fill="#F9CC6E" d="M271.2 282.5 278.8 278.8 287.5 287.5 296.2 292.5 295.0 300.0 285.0 302.5 277.5 297.5 272.5 290.0Z"/>
</g>
<use href="#pBF" class="b"/>
<g clip-path="url(#cBJ)"><use href="#pBJ" fill="#FFFFC8"/>
</g>
<use href="#pBJ" class="b"/>
<g clip-path="url(#cTG)"><use href="#pTG" fill="#FDE9A9"/>
<path fill="#E64200" d="M282.5 337.5 290.0 337.5 290.0 350.0 282.5 350.0Z"/>
</g>
<use href="#pTG" class="b"/>
<g clip-path="url(#cGH)"><use href="#pGH" fill="#F5AA00"/>
<path fill="#FDE9A9" d="M247.5 307.5 275.0 306.2 278.8 317.5 275.0 330.0 267.5 332.5 260.0 325.0 255.0 320.0 248.8 320.0Z"/>
<path fill="#F9CC6E" d="M250.0 345.0 260.0 342.5 267.5 350.0 265.0 360.0 255.0 362.5 250.0 355.0Z"/>
</g>
<use href="#pGH" class="b"/>
<g clip-path="url(#cCI)"><use href="#pCI" fill="#FFFFC8"/>
<path fill="#F9CC6E" d="M202.5 327.5 212.5 325.0 220.0 332.5 215.0 340.0 205.0 337.5Z"/>
<path fill="#FDE9A9" d="M192.5 335.0 205.0 335.0 207.5 355.0 195.0 360.0Z"/>
<path fill="#FDE9A9" d="M235.0 320.0 247.5 317.5 247.5 340.0 237.5 345.0Z"/>
</g>
<use href="#pCI" class="b"/>
<g clip-path="url(#cGN)"><use href="#pGN" fill="#FFFFC8"/>
<path fill="#F9CC6E" d="M127.5 302.5 140.0 292.5 147.5 300.0 145.0 310.0 135.0 312.5Z"/>
<path fill="#F5AA00" d="M137.5 305.0 145.0 302.5 152.5 315.0 147.5 325.0 140.0 320.0Z"/>
<path fill="#F5AA00" d="M145.0 305.0 157.5 305.0 160.0 315.0 150.0 317.5Z"/>
</g>
<use href="#pGN" class="b"/>
<g clip-path="url(#cLR)"><use href="#pLR" fill="#FFFFC8"/>
<path fill="#808080" d="M170.0 332.5 182.5 332.5 182.5 345.0 170.0 345.0Z"/>
<path fill="#7D0025" d="M178.8 355.0 183.8 355.0 183.8 365.0 178.8 365.0Z"/>
</g>
<use href="#pLR" class="b"/>
<g clip-path="url(#cSL)"><use href="#pSL" fill="#F5AA00"/>
<path fill="#F9CC6E" d="M160.0 325.0 170.0 322.5 172.5 340.0 162.5 342.5Z"/>
</g>
<use href="#pSL" class="b"/>
<g clip-path="url(#cSN)"><use href="#pSN" fill="#FFFFC8"/>
<path fill="#F9CC6E" d="M110.0 270.0 120.0 270.0 120.0 278.8 110.0 278.8Z"/>
</g>
<use href="#pSN" class="b"/>
<g clip-path="url(#cGM)"><use href="#pGM" fill="#F9CC6E"/>
</g>
<use href="#pGM" class="b"/>
</g>
<g clip-path="url(#cMG)"><use href="#mada" fill="#E64200"/>
<path fill="#F07E00" d="M710.0 590.0 735.0 580.0 757.5 547.5 770.0 542.5 780.0 580.0 760.0 590.0 750.0 600.0 735.0 605.0 722.5 612.5 712.5 612.5Z"/>
<path fill="#B81B00" d="M730.0 630.0 755.0 632.5 750.0 665.0 740.0 670.0 730.0 657.5 722.5 660.0 725.0 640.0Z"/>
</g>
<use href="#over"/>
</svg>
<text class="pl" x="86" y="43">c</text>
<text class="lt" x="86.3" y="403.9">Households using public</text>
<text class="lt" x="86.3" y="431.6">water source</text>
<rect x="92.3" y="452.90" width="21.3" height="35.22" fill="#7D0025"/>
<rect x="92.3" y="487.82" width="21.3" height="35.22" fill="#B81B00"/>
<rect x="92.3" y="522.74" width="21.3" height="35.22" fill="#E64200"/>
<rect x="92.3" y="557.66" width="21.3" height="35.22" fill="#F07E00"/>
<rect x="92.3" y="592.58" width="21.3" height="35.22" fill="#F5AA00"/>
<rect x="92.3" y="627.50" width="21.3" height="35.22" fill="#F9CC6E"/>
<rect x="92.3" y="662.42" width="21.3" height="35.22" fill="#FDE9A9"/>
<rect x="92.3" y="697.34" width="21.3" height="35.22" fill="#FFFFC8"/>
<rect x="92.3" y="732.26" width="21.3" height="35.22" fill="#808080"/>
<rect x="92.3" y="767.18" width="21.3" height="35.22" fill="#CCCCCC"/>
<rect x="92.3" y="453.9" width="21.3" height="347.3" fill="none" stroke="#000" stroke-width="1.7"/>
<path class="tk" style="stroke-width:1.5" d="M114.6 470.36h6.6M114.6 505.28h6.6M114.6 540.20h6.6M114.6 575.12h6.6M114.6 610.04h6.6M114.6 644.96h6.6M114.6 679.88h6.6M114.6 714.80h6.6M114.6 749.72h6.6M114.6 784.64h6.6"/>
<text class="lg" x="141.5" y="474.56">≥ 80%</text>
<text class="lg" x="141.5" y="509.48">70%-79.99%</text>
<text class="lg" x="141.5" y="544.40">60%-69.99%</text>
<text class="lg" x="141.5" y="579.32">50%-59.99%</text>
<text class="lg" x="141.5" y="614.24">40%-49.99%</text>
<text class="lg" x="141.5" y="649.16">30%-39.99%</text>
<text class="lg" x="141.5" y="684.08">20%-29.99%</text>
<text class="lg" x="141.5" y="719.00">&lt;20%</text>
<text class="lg" x="141.5" y="753.92">No data;<tspan dx="-1.6"> </tspan>Not in SSA</text>
<text class="lg" x="141.5" y="788.84">Water bodies</text>
<text class="cap" x="771.3" y="798.4" textLength="274.4" lengthAdjust="spacing">Open and public water use</text>
</g>
<g transform="translate(740,810)">
<svg x="73.3" y="2.0" width="740.0" height="810.0" viewBox="73.3 2.0 740.0 810.0" overflow="hidden">
<use href="#base"/>
<g clip-path="url(#cAF)">
<g clip-path="url(#cCD)"><use href="#pCD" fill="#7D0025"/>
<path fill="#E64200" d="M395.0 463.8 441.2 461.2 442.5 483.8 395.0 485.0Z"/>
<path fill="#FFFFC8" d="M428.8 461.2 440.0 461.2 440.0 471.2 428.8 471.2Z"/>
<path fill="#B81B00" d="M490.0 472.5 500.0 465.0 515.0 472.5 535.0 472.5 535.0 490.0 517.5 495.0 510.0 502.5 497.5 495.0Z"/>
<path fill="#E64200" d="M502.5 480.0 512.5 480.0 515.0 490.0 507.5 492.5Z"/>
<path fill="#E64200" d="M537.5 520.0 545.0 505.0 560.0 502.5 570.0 502.5 557.5 520.0 557.5 537.5 570.0 545.0 570.0 560.0 545.0 545.0 535.0 542.5Z"/>
</g>
<use href="#pCD" class="b"/>
<g clip-path="url(#cCG)"><use href="#pCG" fill="#E64200"/>
<path fill="#F5AA00" d="M417.5 435.0 432.5 430.0 437.5 445.0 432.5 465.0 420.0 470.0 415.0 452.5Z"/>
<path fill="#FFFFC8" d="M427.5 462.5 438.8 461.2 437.5 470.0 428.8 471.2Z"/>
<path fill="#7D0025" d="M442.5 382.5 460.0 382.5 457.5 410.0 450.0 420.0 445.0 432.5 440.0 420.0 440.0 405.0Z"/>
<path fill="#F9CC6E" d="M422.5 417.5 440.0 415.0 445.0 432.5 435.0 445.0 425.0 435.0Z"/>
</g>
<use href="#pCG" class="b"/>
<g clip-path="url(#cAO)"><use href="#pAO" fill="#7D0025"/>
<path fill="#F07E00" d="M427.5 516.5 435.0 499.0 445.0 501.5 450.0 516.5 460.0 529.0 457.5 539.0 450.0 539.0 445.0 524.0 435.0 521.5Z"/>
<path fill="#E64200" d="M450.0 506.5 470.0 494.0 492.5 494.0 492.5 509.0 480.0 516.5 470.0 524.0 460.0 531.5 450.0 521.5Z"/>
<path fill="#F9CC6E" d="M397.5 482.8 412.5 482.8 412.5 501.5 405.0 509.0Z"/>
<path fill="#B81B00" d="M412.5 489.0 425.0 481.5 440.0 482.8 442.5 496.5 435.0 506.5 422.5 506.5 413.8 499.0Z"/>
<path fill="#E64200" d="M406.2 504.0 422.5 506.5 435.0 506.5 432.5 516.5 422.5 524.0 412.5 529.0 407.5 519.0Z"/>
<path fill="#F5AA00" d="M412.5 529.0 425.0 521.5 435.0 524.0 440.0 534.0 430.0 544.0 417.5 544.0Z"/>
<path fill="#F9CC6E" d="M385.0 544.0 425.0 544.0 430.0 559.0 440.0 564.0 440.0 579.0 427.5 584.0 410.0 589.0 385.0 589.0Z"/>
<path fill="#FFFFC8" d="M390.0 584.0 410.0 589.0 427.5 584.0 440.0 579.0 447.5 584.0 447.5 604.0 390.0 604.0Z"/>
<path fill="#B81B00" d="M440.0 564.0 455.0 561.5 470.0 571.5 485.0 576.5 495.0 584.0 507.5 604.0 455.0 604.0 447.5 584.0Z"/>
</g>
<use href="#pAO" class="b"/>
<g clip-path="url(#cAO2)"><use href="#pAO2" fill="#E64200"/>
</g>
<use href="#pAO2" class="b"/>
<g clip-path="url(#cZM)"><use href="#pZM" fill="#E64200"/>
<path fill="#F5AA00" d="M552.5 580.2 565.0 574.0 575.0 577.8 572.5 584.0 560.0 586.5Z"/>
<path fill="#B81B00" d="M560.0 511.5 577.5 506.5 590.0 514.0 595.0 524.0 587.5 539.0 575.0 551.5 562.5 546.5 558.8 529.0Z"/>
<path fill="#F07E00" d="M495.0 556.5 513.8 554.0 517.5 569.0 525.0 574.0 522.5 594.0 512.5 601.5 500.0 594.0 495.0 584.0Z"/>
<path fill="#F9CC6E" d="M525.0 574.0 540.0 564.0 550.0 559.0 565.0 561.5 575.0 574.0 560.0 586.5 550.0 594.0 540.0 600.2 525.0 604.0 522.5 594.0Z"/>
<path fill="#FDE9A9" d="M540.0 551.5 550.0 546.5 562.5 556.5 550.0 559.0 540.0 564.0Z"/>
<path fill="#F07E00" d="M577.5 551.5 587.5 539.0 600.0 534.0 605.0 549.0 595.0 566.5 582.5 571.5 575.0 569.0Z"/>
</g>
<use href="#pZM" class="b"/>
<g clip-path="url(#cNA)"><use href="#pNA" fill="#FFFFC8"/>
<path fill="#FDE9A9" d="M395.0 601.5 417.5 604.0 417.5 619.0 435.0 624.0 432.5 634.0 412.5 639.0 402.5 624.0Z"/>
<path fill="#FDE9A9" d="M455.0 639.0 465.0 631.5 475.0 631.5 475.0 666.5 460.0 664.0 455.0 651.5Z"/>
</g>
<use href="#pNA" class="b"/>
<g clip-path="url(#cZA)"><use href="#pZA" fill="#FFFFC8"/>
</g>
<use href="#pZA" class="b"/>
<g clip-path="url(#cZW)"><use href="#pZW" fill="#FFFFC8"/>
<path fill="#F5AA00" d="M575.0 586.5 592.5 589.0 590.0 599.0 582.5 606.5 577.5 596.5Z"/>
<path fill="#FDE9A9" d="M565.0 594.0 575.0 586.5 600.0 594.0 600.0 609.0 587.5 619.0 575.0 609.0Z"/>
</g>
<use href="#pZW" class="b"/>
<g clip-path="url(#cTZ)"><use href="#pTZ" fill="#F9CC6E"/>
<path fill="#FFFFC8" d="M622.5 447.5 635.0 445.0 650.0 455.0 660.0 462.5 655.0 470.0 642.5 460.0 630.0 462.5 622.5 457.5Z"/>
<path fill="#F5AA00" d="M582.5 442.5 595.0 447.5 610.0 450.0 622.5 455.0 615.0 462.5 595.0 460.0 585.0 457.5Z"/>
<path fill="#F07E00" d="M580.0 495.0 595.0 492.5 610.0 495.0 622.5 485.0 625.0 470.0 635.0 467.5 642.5 482.5 640.0 495.0 642.5 505.0 640.0 520.0 625.0 527.5 610.0 525.0 595.0 507.5Z"/>
<path fill="#F5AA00" d="M610.0 465.0 625.0 470.0 622.5 485.0 610.0 495.0 607.5 477.5Z"/>
<path fill="#F5AA00" d="M640.0 485.0 655.0 482.5 657.5 505.0 645.0 507.5Z"/>
<path fill="#FFFFC8" d="M655.0 480.0 670.0 477.5 670.0 505.0 657.5 507.5Z"/>
<path fill="#FDE9A9" d="M575.0 475.0 592.5 477.5 600.0 492.5 585.0 497.5 575.0 490.0Z"/>
</g>
<use href="#pTZ" class="b"/>
<g clip-path="url(#cMW)"><use href="#pMW" fill="#B81B00"/>
<path fill="#7D0025" d="M602.5 552.5 612.5 552.5 617.5 565.0 610.0 570.0Z"/>
<path fill="#7D0025" d="M617.5 580.0 627.5 577.5 630.0 587.5 622.5 590.0Z"/>
</g>
<use href="#pMW" class="b"/>
<g clip-path="url(#cMZ)"><use href="#pMZ" fill="#7D0025"/>
<path fill="#B81B00" d="M640.0 577.5 660.0 565.0 680.0 562.5 681.2 577.5 670.0 590.0 660.0 592.5 652.5 580.0Z"/>
<path fill="#E64200" d="M625.0 580.0 640.0 577.5 652.5 580.0 662.5 595.0 647.5 605.0 635.0 612.5 627.5 600.0Z"/>
<path fill="#E64200" d="M575.0 570.0 620.0 570.0 622.5 590.0 607.5 592.5 585.0 592.5Z"/>
<path fill="#F5AA00" d="M577.5 590.0 592.5 592.5 595.0 600.0 585.0 605.0Z"/>
<path fill="#F9CC6E" d="M602.5 592.5 620.0 592.5 635.0 612.5 622.5 627.5 620.0 642.5 597.5 642.5 602.5 615.0Z"/>
<path fill="#FFFFC8" d="M585.0 642.5 630.0 640.0 630.0 702.5 585.0 702.5Z"/>
</g>
<use href="#pMZ" class="b"/>
<g clip-path="url(#cSZ)"><use href="#pSZ" fill="#E64200"/>
</g>
<use href="#pSZ" class="b"/>
<g clip-path="url(#cLS)"><use href="#pLS" fill="#FDE9A9"/>
<path fill="#F5AA00" d="M548.8 724.0 555.0 724.0 555.0 729.0 548.8 729.0Z"/>
</g>
<use href="#pLS" class="b"/>
<g clip-path="url(#cRW)"><use href="#pRW" fill="#E64200"/>
<path fill="#B81B00" d="M563.8 437.5 571.2 435.0 572.5 445.0 565.0 447.5Z"/>
<path fill="#F5AA00" d="M577.5 435.0 585.0 435.0 585.0 447.5 577.5 447.5Z"/>
</g>
<use href="#pRW" class="b"/>
<g clip-path="url(#cBI)"><use href="#pBI" fill="#7D0025"/>
</g>
<use href="#pBI" class="b"/>
<g clip-path="url(#cUG)"><use href="#pUG" fill="#F9CC6E"/>
<path fill="#E64200" d="M582.5 382.5 615.0 381.2 613.8 390.0 597.5 393.8 585.0 392.5Z"/>
<path fill="#B81B00" d="M597.5 382.5 610.0 382.5 610.0 395.0 597.5 395.0Z"/>
<path fill="#7D0025" d="M608.8 381.2 616.2 381.2 616.2 392.5 608.8 392.5Z"/>
<path fill="#E64200" d="M585.0 392.5 600.0 393.8 621.2 395.0 615.0 407.5 600.0 402.5 585.0 402.5Z"/>
<path fill="#F5AA00" d="M575.0 410.0 595.0 410.0 595.0 430.0 575.0 430.0Z"/>
<path fill="#FFFFC8" d="M600.0 410.0 617.5 407.5 617.5 420.0 600.0 420.0Z"/>
</g>
<use href="#pUG" class="b"/>
<g clip-path="url(#cKE)"><use href="#pKE" fill="#FFFFC8"/>
<path fill="#F5AA00" d="M657.5 422.5 670.0 420.0 675.0 435.0 670.0 450.0 662.5 447.5 657.5 435.0Z"/>
<path fill="#E64200" d="M610.0 372.5 630.0 370.0 637.5 387.5 635.0 407.5 627.5 400.0 620.0 385.0Z"/>
<path fill="#F5AA00" d="M645.0 422.5 652.5 422.5 652.5 430.0 645.0 430.0Z"/>
</g>
<use href="#pKE" class="b"/>
<g clip-path="url(#cET)"><use href="#pET" fill="#E64200"/>
<path fill="#F9CC6E" d="M609.0 334.3 616.0 331.3 622.9 337.3 625.9 345.2 621.9 349.2 624.9 355.2 619.9 349.2 609.0 337.3Z"/>
<path fill="#B81B00" d="M622.9 347.2 629.8 337.3 644.7 344.2 649.7 335.3 659.6 333.3 657.6 345.2 663.6 354.2 652.7 359.1 652.7 365.1 642.7 368.1 639.8 373.0 631.8 372.0 624.9 359.1Z"/>
<path fill="#F5AA00" d="M635.0 275.0 652.5 268.8 670.0 267.5 681.2 272.5 696.2 287.5 690.0 300.0 697.5 306.2 702.5 315.0 752.5 338.8 722.5 372.5 697.5 380.0 667.5 380.0 672.5 367.5 682.5 355.0 685.0 342.5 695.0 332.5 700.0 322.5 685.0 322.5 675.0 325.0 670.0 305.0 665.0 290.0 652.5 280.0 637.5 285.0Z"/>
<path fill="#B81B00" d="M617.5 310.0 627.5 297.5 637.5 300.0 635.0 317.5 625.0 325.0 615.0 322.5Z"/>
</g>
<use href="#pET" class="b"/>
<g clip-path="url(#cGA)"><use href="#pGA" fill="#F5AA00"/>
<path fill="#E64200" d="M390.0 410.0 410.0 405.0 417.5 410.0 412.5 420.0 395.0 427.5 387.5 422.5Z"/>
<path fill="#FFFFC8" d="M365.0 420.0 380.0 417.5 382.5 430.0 375.0 445.0 367.5 440.0Z"/>
<path fill="#FFFFC8" d="M405.0 422.5 417.5 420.0 417.5 445.0 405.0 442.5Z"/>
<path fill="#F07E00" d="M392.5 420.0 405.0 425.0 405.0 440.0 395.0 442.5Z"/>
<path fill="#E64200" d="M402.5 445.0 417.5 447.5 432.5 452.5 430.0 465.0 417.5 462.5 405.0 460.0Z"/>
<path fill="#FDE9A9" d="M385.0 400.0 405.0 400.0 405.0 410.0 385.0 410.0Z"/>
</g>
<use href="#pGA" class="b"/>
<g clip-path="url(#cCM)"><use href="#pCM" fill="#E64200"/>
<path fill="#7D0025" d="M415.0 287.5 422.5 295.0 430.0 315.0 430.0 335.0 417.5 342.5 402.5 345.0 397.5 340.0 405.0 320.0 412.5 305.0Z"/>
<path fill="#B81B00" d="M405.0 360.0 420.0 357.5 430.0 377.5 437.5 395.0 415.0 395.0 402.5 387.5 400.0 370.0Z"/>
<path fill="#F9CC6E" d="M370.0 360.0 385.0 357.5 400.0 360.0 405.0 370.0 402.5 382.5 390.0 387.5 375.0 385.0 370.0 375.0Z"/>
<path fill="#F07E00" d="M360.0 370.0 370.0 355.0 382.5 350.0 385.0 357.5 370.0 365.0 367.5 377.5Z"/>
</g>
<use href="#pCM" class="b"/>
<g clip-path="url(#cTD)"><use href="#pTD" fill="#FDE9A9"/>
<path fill="#B81B00" d="M405.0 180.0 435.0 190.0 462.5 192.5 450.0 215.0 435.0 232.5 410.0 240.0Z"/>
<path fill="#B81B00" d="M500.0 210.0 515.0 217.5 515.0 250.0 495.0 252.5Z"/>
<path fill="#F5AA00" d="M450.0 265.0 467.5 255.0 505.0 256.2 500.0 270.0 495.0 280.0 500.0 300.0 485.0 310.0 472.5 320.0 460.0 330.0 445.0 320.0 447.5 295.0Z"/>
<path fill="#B81B00" d="M472.5 287.5 485.0 285.0 500.0 297.5 497.5 305.0 485.0 297.5Z"/>
<path fill="#F07E00" d="M405.0 317.5 450.0 317.5 460.0 330.0 445.0 335.0 435.0 345.0 405.0 345.0Z"/>
<path fill="#F5AA00" d="M420.0 310.0 435.0 310.0 435.0 320.0 420.0 320.0Z"/>
</g>
<use href="#pTD" class="b"/>
<g clip-path="url(#cNE)"><use href="#pNE" fill="#F5AA00"/>
<path fill="#F07E00" d="M395.0 242.5 430.0 235.0 431.2 252.5 417.5 265.0 410.0 272.5 397.5 280.0 385.0 282.5 392.5 265.0Z"/>
<path fill="#E64200" d="M316.2 227.5 330.0 232.5 340.0 252.5 345.0 262.5 370.0 252.5 395.0 242.5 395.0 277.5 385.0 282.5 370.0 280.0 355.0 282.5 335.0 277.5 320.0 280.0 310.0 285.0 300.0 287.5 312.5 277.5 317.5 252.5Z"/>
</g>
<use href="#pNE" class="b"/>
<g clip-path="url(#cNG)"><use href="#pNG" fill="#FFFFC8"/>
<path fill="#F9CC6E" d="M355.0 352.5 365.0 350.0 366.2 365.0 357.5 370.0Z"/>
<path fill="#F5AA00" d="M395.0 315.0 410.0 320.0 402.5 340.0 392.5 345.0Z"/>
<path fill="#F9CC6E" d="M312.5 280.0 335.0 277.5 345.0 285.0 360.0 287.5 377.5 285.0 400.0 282.5 407.5 295.0 395.0 315.0 380.0 325.0 365.0 315.0 355.0 305.0 335.0 302.5 320.0 300.0Z"/>
<path fill="#F07E00" d="M325.0 287.5 345.0 285.0 345.0 300.0 327.5 300.0Z"/>
<path fill="#F5AA00" d="M360.0 305.0 377.5 295.0 395.0 305.0 390.0 320.0 375.0 325.0 365.0 317.5Z"/>
<path fill="#FDE9A9" d="M352.5 355.0 365.0 350.0 366.2 367.5 355.0 370.0Z"/>
</g>
<use href="#pNG" class="b"/>
<g clip-path="url(#cML)"><use href="#pML" fill="#FFFFC8"/>
<path fill="#FDE9A9" d="M152.5 258.8 221.2 258.8 225.0 255.0 257.5 262.5 267.5 252.5 260.0 242.5 267.5 237.5 270.0 223.8 280.0 227.5 285.0 236.2 295.0 235.0 320.0 235.0 320.0 262.5 312.5 265.0 280.0 266.2 270.0 263.8 255.0 270.0 245.0 277.5 242.5 287.5 225.0 295.0 220.0 305.0 195.0 310.0 185.0 290.0 157.5 287.5Z"/>
<path fill="#F5AA00" d="M260.0 242.5 267.5 237.5 270.0 223.8 280.0 227.5 285.0 236.2 295.0 235.0 320.0 235.0 320.0 262.5 312.5 265.0 280.0 266.2 270.0 263.8 267.5 252.5Z"/>
<path fill="#F9CC6E" d="M255.0 213.8 273.8 197.5 307.5 223.8 320.0 223.8 320.0 235.5 295.0 234.5 285.0 236.2 280.0 227.5 270.0 223.8 267.5 218.8Z"/>
<path fill="#FFFFC8" d="M205.0 270.0 212.5 261.2 225.0 261.2 227.5 270.0 232.5 280.0 222.5 290.0 210.0 287.5 205.0 280.0Z"/>
</g>
<use href="#pML" class="b"/>
<g clip-path="url(#cBF)"><use href="#pBF" fill="#FFFFC8"/>
<path fill="#F9CC6E" d="M300.0 280.0 310.0 272.5 318.8 270.0 320.0 280.0 312.5 290.0 302.5 290.0Z"/>
</g>
<use href="#pBF" class="b"/>
<g clip-path="url(#cBJ)"><use href="#pBJ" fill="#FFFFC8"/>
</g>
<use href="#pBJ" class="b"/>
<g clip-path="url(#cTG)"><use href="#pTG" fill="#FFFFC8"/>
</g>
<use href="#pTG" class="b"/>
<g clip-path="url(#cGH)"><use href="#pGH" fill="#FFFFC8"/>
<path fill="#FDE9A9" d="M247.5 307.5 275.0 306.2 278.8 317.5 275.0 330.0 267.5 332.5 260.0 325.0 255.0 320.0 248.8 320.0Z"/>
</g>
<use href="#pGH" class="b"/>
<g clip-path="url(#cCI)"><use href="#pCI" fill="#FFFFC8"/>
<path fill="#F5AA00" d="M207.5 315.0 220.0 320.0 235.0 317.5 247.5 322.5 245.0 340.0 237.5 335.0 225.0 325.0 210.0 322.5Z"/>
<path fill="#F5AA00" d="M195.0 335.0 205.0 335.0 205.0 360.0 195.0 360.0Z"/>
<path fill="#FDE9A9" d="M220.0 340.0 235.0 340.0 235.0 365.0 220.0 365.0Z"/>
</g>
<use href="#pCI" class="b"/>
<g clip-path="url(#cGN)"><use href="#pGN" fill="#FFFFC8"/>
<path fill="#FDE9A9" d="M145.0 295.0 177.5 295.0 177.5 310.0 145.0 310.0Z"/>
<path fill="#F9CC6E" d="M147.5 295.0 160.0 295.0 160.0 305.0 147.5 305.0Z"/>
</g>
<use href="#pGN" class="b"/>
<g clip-path="url(#cLR)"><use href="#pLR" fill="#E64200"/>
<path fill="#7D0025" d="M170.0 335.0 180.0 332.5 181.2 345.0 172.5 347.5Z"/>
<path fill="#F5AA00" d="M180.0 360.0 195.0 357.5 197.5 370.0 185.0 370.0Z"/>
<path fill="#7D0025" d="M178.8 353.8 184.5 353.8 184.5 365.0 178.8 365.0Z"/>
<path fill="#FFFFC8" d="M166.2 348.8 171.2 348.8 171.2 355.0 166.2 355.0Z"/>
</g>
<use href="#pLR" class="b"/>
<g clip-path="url(#cSL)"><use href="#pSL" fill="#E64200"/>
<path fill="#B81B00" d="M145.0 317.5 166.2 316.2 168.8 330.0 148.8 332.5Z"/>
</g>
<use href="#pSL" class="b"/>
<g clip-path="url(#cSN)"><use href="#pSN" fill="#FFFFC8"/>
</g>
<use href="#pSN" class="b"/>
<g clip-path="url(#cGM)"><use href="#pGM" fill="#FFFFC8"/>
</g>
<use href="#pGM" class="b"/>
</g>
<g clip-path="url(#cMG)"><use href="#mada" fill="#7D0025"/>
<path fill="#B81B00" d="M727.5 607.5 742.5 602.5 752.5 610.0 750.0 627.5 737.5 631.2 728.8 625.0Z"/>
<path fill="#B81B00" d="M755.0 562.5 765.0 545.0 772.5 565.0 780.0 580.0 770.0 585.0 765.0 572.5Z"/>
</g>
<use href="#over"/>
</svg>
<text class="pl" x="86" y="43">d</text>
<text class="lt" x="86.3" y="403.9">No mobile phone</text>
<text class="lt" x="86.3" y="431.6">in household</text>
<rect x="92.3" y="452.90" width="21.3" height="35.22" fill="#7D0025"/>
<rect x="92.3" y="487.82" width="21.3" height="35.22" fill="#B81B00"/>
<rect x="92.3" y="522.74" width="21.3" height="35.22" fill="#E64200"/>
<rect x="92.3" y="557.66" width="21.3" height="35.22" fill="#F07E00"/>
<rect x="92.3" y="592.58" width="21.3" height="35.22" fill="#F5AA00"/>
<rect x="92.3" y="627.50" width="21.3" height="35.22" fill="#F9CC6E"/>
<rect x="92.3" y="662.42" width="21.3" height="35.22" fill="#FDE9A9"/>
<rect x="92.3" y="697.34" width="21.3" height="35.22" fill="#FFFFC8"/>
<rect x="92.3" y="732.26" width="21.3" height="35.22" fill="#808080"/>
<rect x="92.3" y="767.18" width="21.3" height="35.22" fill="#CCCCCC"/>
<rect x="92.3" y="453.9" width="21.3" height="347.3" fill="none" stroke="#000" stroke-width="1.7"/>
<path class="tk" style="stroke-width:1.5" d="M114.6 470.36h6.6M114.6 505.28h6.6M114.6 540.20h6.6M114.6 575.12h6.6M114.6 610.04h6.6M114.6 644.96h6.6M114.6 679.88h6.6M114.6 714.80h6.6M114.6 749.72h6.6M114.6 784.64h6.6"/>
<text class="lg" x="141.5" y="474.56">≥ 40.00%</text>
<text class="lg" x="141.5" y="509.48">30%-39.99</text>
<text class="lg" x="141.5" y="544.40">25%-29.99%</text>
<text class="lg" x="141.5" y="579.32">25%-29.99%</text>
<text class="lg" x="141.5" y="614.24">20%-24.99%</text>
<text class="lg" x="141.5" y="649.16">15%-19.99%</text>
<text class="lg" x="141.5" y="684.08">10%-14.99%</text>
<text class="lg" x="141.5" y="719.00">&lt;10%</text>
<text class="lg" x="141.5" y="753.92">No data;<tspan dx="-1.6"> </tspan>Not in SSA</text>
<text class="lg" x="141.5" y="788.84">Water bodies</text>
<text class="cap" x="771.3" y="798.4" textLength="312.9" lengthAdjust="spacing">No mobile phone in household</text>
</g>
<g transform="translate(0,1620)">
<svg x="73.3" y="2.0" width="740.0" height="810.0" viewBox="73.3 2.0 740.0 810.0" overflow="hidden">
<use href="#base"/>
<g clip-path="url(#cAF)">
<g clip-path="url(#cCD)"><use href="#pCD" fill="#E64200"/>
<path fill="#B81B00" d="M395.0 463.8 441.2 461.2 442.5 483.8 395.0 485.0Z"/>
<path fill="#F07E00" d="M497.5 400.0 517.5 397.5 545.0 400.0 552.5 415.0 555.0 435.0 545.0 445.0 560.0 470.0 525.0 472.5 522.5 450.0 515.0 440.0 505.0 420.0Z"/>
<path fill="#B81B00" d="M503.8 480.0 513.8 480.0 515.0 488.8 507.5 491.2Z"/>
<path fill="#B81B00" d="M542.5 442.5 560.0 440.0 565.0 465.0 555.0 470.0 545.0 460.0Z"/>
<path fill="#F5AA00" d="M460.0 367.5 480.0 367.5 502.5 377.5 497.5 390.0 480.0 395.0 460.0 390.0Z"/>
<path fill="#F9CC6E" d="M502.5 377.5 517.5 367.5 542.5 370.0 545.0 395.0 517.5 397.5 505.0 395.0Z"/>
<path fill="#F5AA00" d="M545.0 370.0 567.5 372.5 580.0 382.5 577.5 395.0 565.0 400.0 550.0 405.0 545.0 395.0Z"/>
<path fill="#B81B00" d="M430.0 385.0 457.5 382.5 452.5 407.5 445.0 427.5 430.0 430.0Z"/>
<path fill="#F9CC6E" d="M437.5 442.5 457.5 430.0 480.0 440.0 482.5 455.0 465.0 462.5 445.0 460.0Z"/>
<path fill="#B81B00" d="M430.0 462.5 450.0 470.0 470.0 485.0 467.5 502.5 450.0 502.5 430.0 490.0Z"/>
<path fill="#F5AA00" d="M490.0 472.5 505.0 465.0 535.0 472.5 565.0 473.8 575.0 495.0 577.5 505.0 560.0 505.0 557.5 537.5 570.0 545.0 570.0 560.0 545.0 545.0 495.0 532.5 492.5 502.5Z"/>
<path fill="#FDE9A9" d="M517.5 475.0 535.0 477.5 537.5 495.0 550.0 502.5 535.0 520.0 517.5 522.5 510.0 505.0Z"/>
<path fill="#B81B00" d="M503.8 480.0 513.8 480.0 515.0 488.8 507.5 491.2Z"/>
</g>
<use href="#pCD" class="b"/>
<g clip-path="url(#cCG)"><use href="#pCG" fill="#B81B00"/>
<path fill="#F07E00" d="M417.5 415.0 440.0 412.5 445.0 432.5 430.0 432.5 417.5 430.0Z"/>
<path fill="#F5AA00" d="M417.5 435.0 432.5 430.0 440.0 445.0 430.0 452.5 420.0 450.0Z"/>
<path fill="#7D0025" d="M415.0 452.5 432.5 450.0 435.0 460.0 422.5 470.0 415.0 462.5Z"/>
</g>
<use href="#pCG" class="b"/>
<g clip-path="url(#cAO)"><use href="#pAO" fill="#F07E00"/>
<path fill="#B81B00" d="M398.8 482.8 438.8 481.5 447.5 501.5 467.5 501.5 470.0 494.0 470.0 479.0 450.0 491.5 442.5 484.0 436.2 499.0 425.0 506.5 410.0 501.5 405.0 494.0Z"/>
<path fill="#E64200" d="M407.5 504.0 425.0 506.5 432.5 516.5 422.5 524.0 412.5 529.0 407.5 519.0Z"/>
<path fill="#F9CC6E" d="M412.5 529.0 425.0 521.5 437.5 524.0 437.5 534.0 427.5 541.5 415.0 544.0Z"/>
<path fill="#F5AA00" d="M400.0 554.0 412.5 544.0 425.0 551.5 422.5 561.5 407.5 564.0 400.0 561.5Z"/>
<path fill="#E64200" d="M422.5 544.0 440.0 531.5 460.0 536.5 465.0 544.0 455.0 559.0 470.0 571.5 485.0 576.5 495.0 586.5 507.5 604.0 450.0 601.5 447.5 584.0 440.0 569.0 425.0 556.5Z"/>
</g>
<use href="#pAO" class="b"/>
<g clip-path="url(#cAO2)"><use href="#pAO2" fill="#7D0025"/>
</g>
<use href="#pAO2" class="b"/>
<g clip-path="url(#cZM)"><use href="#pZM" fill="#F5AA00"/>
<path fill="#F07E00" d="M495.0 556.5 513.8 554.0 517.5 569.0 525.0 574.0 522.5 594.0 512.5 601.5 500.0 594.0 495.0 584.0Z"/>
<path fill="#F9CC6E" d="M527.5 576.5 540.0 564.0 557.5 561.5 575.0 559.0 600.0 564.0 575.0 574.0 560.0 579.0 540.0 581.5Z"/>
<path fill="#F07E00" d="M542.5 551.5 555.0 549.0 565.0 559.0 550.0 564.0 542.5 559.0Z"/>
<path fill="#F9CC6E" d="M560.0 516.5 577.5 506.5 595.0 514.0 600.0 529.0 587.5 539.0 575.0 551.5 562.5 539.0Z"/>
<path fill="#F9CC6E" d="M575.0 551.5 587.5 539.0 605.0 534.0 605.0 551.5 595.0 566.5 580.0 569.0Z"/>
</g>
<use href="#pZM" class="b"/>
<g clip-path="url(#cNA)"><use href="#pNA" fill="#F5AA00"/>
<path fill="#FDE9A9" d="M427.5 605.2 433.8 605.2 433.8 620.2 427.5 620.2Z"/>
<path fill="#F9CC6E" d="M433.8 605.2 453.8 605.2 455.0 619.0 447.5 622.8 433.8 620.2Z"/>
<path fill="#F07E00" d="M453.8 601.5 483.8 606.5 483.8 619.0 466.2 619.0 466.2 614.0 453.8 614.0Z"/>
<path fill="#F07E00" d="M390.0 600.2 415.0 601.5 417.5 619.0 440.0 624.0 435.0 631.5 412.5 639.0 405.0 624.0Z"/>
<path fill="#F9CC6E" d="M432.5 654.0 450.0 646.5 457.5 659.0 450.0 666.5 432.5 669.0Z"/>
</g>
<use href="#pNA" class="b"/>
<g clip-path="url(#cZA)"><use href="#pZA" fill="#E64200"/>
<path fill="#F07E00" d="M440.0 719.0 475.0 714.0 475.0 686.5 482.5 699.0 500.0 694.0 507.5 689.0 512.5 704.0 522.5 709.0 517.5 726.5 527.5 739.0 515.0 751.5 500.0 749.0 480.0 759.0 465.0 754.0 460.0 736.5 450.0 744.0Z"/>
<path fill="#F9CC6E" d="M450.0 759.0 460.0 736.5 465.0 754.0 480.0 759.0 500.0 749.0 515.0 751.5 507.5 761.5 490.0 771.5 475.0 784.0 455.0 779.0Z"/>
<path fill="#F07E00" d="M545.0 689.0 560.0 681.5 562.5 694.0 550.0 699.0Z"/>
</g>
<use href="#pZA" class="b"/>
<g clip-path="url(#cZW)"><use href="#pZW" fill="#F07E00"/>
<path fill="#F5AA00" d="M550.0 631.5 562.5 627.8 570.0 634.0 577.5 639.0 582.5 649.0 570.0 646.5 560.0 641.5 552.5 636.5Z"/>
<path fill="#E64200" d="M587.5 614.0 597.5 601.5 603.8 609.0 601.2 634.0 592.5 629.0Z"/>
</g>
<use href="#pZW" class="b"/>
<g clip-path="url(#cTZ)"><use href="#pTZ" fill="#F5AA00"/>
<path fill="#FDE9A9" d="M575.0 452.5 590.0 450.0 610.0 452.5 615.0 462.5 612.5 482.5 605.0 492.5 595.0 497.5 585.0 492.5 577.5 480.0Z"/>
<path fill="#FFFFC8" d="M587.5 462.5 607.5 460.0 612.5 477.5 605.0 490.0 592.5 487.5Z"/>
<path fill="#F07E00" d="M585.0 495.0 600.0 492.5 620.0 505.0 627.5 520.0 620.0 527.5 605.0 517.5 590.0 507.5Z"/>
<path fill="#F9CC6E" d="M635.0 457.5 647.5 460.0 650.0 477.5 637.5 480.0Z"/>
<path fill="#F9CC6E" d="M645.0 505.0 660.0 502.5 670.0 520.0 670.0 532.5 650.0 532.5 642.5 520.0Z"/>
<path fill="#F07E00" d="M620.0 435.0 635.0 440.0 650.0 452.5 642.5 460.0 625.0 455.0Z"/>
</g>
<use href="#pTZ" class="b"/>
<g clip-path="url(#cMW)"><use href="#pMW" fill="#F07E00"/>
</g>
<use href="#pMW" class="b"/>
<g clip-path="url(#cMZ)"><use href="#pMZ" fill="#F5AA00"/>
<path fill="#F07E00" d="M655.0 540.0 678.8 535.0 681.2 565.0 670.0 577.5 657.5 572.5 652.5 555.0Z"/>
<path fill="#F9CC6E" d="M627.5 587.5 642.5 577.5 660.0 580.0 662.5 592.5 647.5 605.0 632.5 610.0Z"/>
<path fill="#F07E00" d="M587.5 650.0 605.0 642.5 610.0 660.0 607.5 672.5 595.0 675.0Z"/>
<path fill="#E64200" d="M605.0 642.5 625.0 640.0 630.0 660.0 620.0 677.5 610.0 675.0 610.0 660.0Z"/>
<path fill="#E64200" d="M595.0 675.0 605.0 675.0 605.0 695.0 595.0 695.0Z"/>
</g>
<use href="#pMZ" class="b"/>
<g clip-path="url(#cSZ)"><use href="#pSZ" fill="#F07E00"/>
</g>
<use href="#pSZ" class="b"/>
<g clip-path="url(#cLS)"><use href="#pLS" fill="#B81B00"/>
<path fill="#7D0025" d="M548.8 724.0 555.0 724.0 555.0 729.0 548.8 729.0Z"/>
</g>
<use href="#pLS" class="b"/>
<g clip-path="url(#cRW)"><use href="#pRW" fill="#B81B00"/>
<path fill="#7D0025" d="M563.8 437.5 571.2 435.0 572.5 445.0 565.0 447.5Z"/>
</g>
<use href="#pRW" class="b"/>
<g clip-path="url(#cBI)"><use href="#pBI" fill="#E64200"/>
</g>
<use href="#pBI" class="b"/>
<g clip-path="url(#cUG)"><use href="#pUG" fill="#F5AA00"/>
<path fill="#FFFFC8" d="M590.0 395.0 605.0 392.5 610.0 407.5 600.0 415.0 590.0 410.0Z"/>
<path fill="#E64200" d="M608.8 382.5 617.5 385.0 621.2 407.5 612.5 407.5Z"/>
<path fill="#F07E00" d="M571.2 410.0 585.0 405.0 590.0 420.0 580.0 430.0 571.2 427.5Z"/>
</g>
<use href="#pUG" class="b"/>
<g clip-path="url(#cKE)"><use href="#pKE" fill="#F07E00"/>
<path fill="#E64200" d="M610.0 372.5 630.0 370.0 637.5 387.5 635.0 407.5 627.5 400.0 620.0 385.0Z"/>
<path fill="#B81B00" d="M635.0 377.5 655.0 382.5 666.2 386.2 662.5 407.5 652.5 417.5 640.0 407.5 637.5 390.0Z"/>
<path fill="#7D0025" d="M666.2 386.2 690.0 380.0 682.5 395.0 682.5 430.0 687.5 437.5 675.0 442.5 670.0 425.0 662.5 415.0 662.5 407.5Z"/>
<path fill="#F5AA00" d="M655.0 422.5 670.0 425.0 672.5 445.0 660.0 450.0Z"/>
<path fill="#E64200" d="M670.0 440.0 685.0 437.5 680.0 452.5 670.0 455.0Z"/>
</g>
<use href="#pKE" class="b"/>
<g clip-path="url(#cET)"><use href="#pET" fill="#7D0025"/>
</g>
<use href="#pET" class="b"/>
<g clip-path="url(#cGA)"><use href="#pGA" fill="#7D0025"/>
<path fill="#B81B00" d="M387.5 400.0 405.0 400.0 405.0 410.0 390.0 415.0Z"/>
<path fill="#E64200" d="M365.0 412.5 377.5 412.5 375.0 435.0 367.5 435.0Z"/>
<path fill="#B81B00" d="M395.0 442.5 415.0 442.5 417.5 462.5 400.0 465.0Z"/>
</g>
<use href="#pGA" class="b"/>
<g clip-path="url(#cCM)"><use href="#pCM" fill="#E64200"/>
<path fill="#F5AA00" d="M415.0 310.0 425.0 310.0 427.5 320.0 417.5 322.5Z"/>
<path fill="#F5AA00" d="M405.0 317.5 420.0 310.0 427.5 320.0 430.0 340.0 420.0 347.5 402.5 345.0Z"/>
<path fill="#F07E00" d="M370.0 350.0 385.0 345.0 395.0 355.0 382.5 365.0 372.5 365.0Z"/>
<path fill="#F07E00" d="M355.0 352.5 363.8 352.5 365.0 370.0 356.2 370.0Z"/>
</g>
<use href="#pCM" class="b"/>
<g clip-path="url(#cTD)"><use href="#pTD" fill="#F5AA00"/>
<path fill="#FDE9A9" d="M405.0 180.0 435.0 190.0 462.5 192.5 450.0 215.0 435.0 232.5 410.0 240.0Z"/>
<path fill="#F5AA00" d="M450.0 215.0 462.5 192.5 482.5 202.5 475.0 220.0 480.0 257.5 467.5 255.0 450.0 252.5 435.0 255.0Z"/>
<path fill="#F07E00" d="M482.5 202.5 515.0 217.5 515.0 255.0 480.0 257.5 475.0 220.0Z"/>
<path fill="#E64200" d="M405.0 252.5 435.0 255.0 467.5 255.0 505.0 256.2 500.0 270.0 495.0 280.0 477.5 272.5 465.0 280.0 450.0 285.0 435.0 290.0 405.0 290.0Z"/>
<path fill="#F9CC6E" d="M475.0 272.5 492.5 275.0 495.0 285.0 477.5 287.5Z"/>
<path fill="#B81B00" d="M472.5 287.5 485.0 285.0 502.5 297.5 497.5 305.0 485.0 297.5Z"/>
<path fill="#F07E00" d="M450.0 287.5 465.0 282.5 475.0 290.0 472.5 302.5 455.0 305.0Z"/>
<path fill="#FDE9A9" d="M405.0 290.0 435.0 290.0 450.0 287.5 455.0 305.0 472.5 320.0 460.0 332.5 435.0 345.0 405.0 345.0Z"/>
<path fill="#F9CC6E" d="M410.0 320.0 435.0 315.0 445.0 325.0 435.0 335.0 410.0 340.0Z"/>
</g>
<use href="#pTD" class="b"/>
<g clip-path="url(#cNE)"><use href="#pNE" fill="#F5AA00"/>
<path fill="#F07E00" d="M340.0 262.5 347.5 261.2 355.0 270.0 360.0 277.5 350.0 282.5 342.5 280.0Z"/>
<path fill="#E64200" d="M316.2 227.5 330.0 232.5 340.0 252.5 342.5 265.0 345.0 280.0 335.0 277.5 320.0 277.5Z"/>
<path fill="#F07E00" d="M277.5 265.0 317.5 262.5 320.0 280.0 310.0 285.0 300.0 287.5 285.0 280.0Z"/>
<path fill="#E64200" d="M347.5 262.5 370.0 252.5 395.0 242.5 395.0 277.5 385.0 282.5 370.0 280.0 355.0 282.5Z"/>
</g>
<use href="#pNE" class="b"/>
<g clip-path="url(#cNG)"><use href="#pNG" fill="#F9CC6E"/>
<path fill="#E64200" d="M303.8 325.0 315.0 325.0 320.0 335.0 317.5 350.0 305.0 350.0Z"/>
<path fill="#F5AA00" d="M370.0 320.0 380.0 317.5 395.0 330.0 390.0 345.0 375.0 350.0 365.0 345.0Z"/>
<path fill="#F5AA00" d="M335.0 345.0 355.0 342.5 360.0 352.5 355.0 367.5 342.5 370.0 335.0 360.0Z"/>
<path fill="#F07E00" d="M355.0 352.5 365.0 350.0 366.2 365.0 357.5 370.0Z"/>
<path fill="#F07E00" d="M330.0 366.2 345.0 367.5 345.0 373.8 332.5 373.8Z"/>
<path fill="#F5AA00" d="M312.5 280.0 335.0 277.5 345.0 290.0 342.5 310.0 332.5 320.0 320.0 320.0 312.5 310.0Z"/>
<path fill="#F5AA00" d="M377.5 285.0 400.0 282.5 415.0 280.0 420.0 295.0 415.0 310.0 395.0 310.0 380.0 305.0Z"/>
<path fill="#F5AA00" d="M390.0 315.0 407.5 310.0 407.5 325.0 395.0 340.0 382.5 350.0 380.0 335.0Z"/>
<path fill="#F07E00" d="M330.0 355.0 345.0 350.0 355.0 360.0 355.0 372.5 332.5 373.8Z"/>
<path fill="#FDE9A9" d="M350.0 350.0 357.5 350.0 357.5 360.0 350.0 360.0Z"/>
</g>
<use href="#pNG" class="b"/>
<g clip-path="url(#cML)"><use href="#pML" fill="#F5AA00"/>
<path fill="#FFFFC8" d="M152.5 258.8 221.2 258.8 225.0 255.0 257.5 262.5 267.5 252.5 260.0 242.5 267.5 237.5 270.0 223.8 280.0 227.5 285.0 236.2 295.0 235.0 320.0 235.0 320.0 262.5 312.5 265.0 280.0 266.2 270.0 263.8 255.0 270.0 245.0 277.5 242.5 287.5 225.0 295.0 220.0 305.0 195.0 310.0 185.0 290.0 157.5 287.5Z"/>
<path fill="#F07E00" d="M260.0 242.5 267.5 237.5 270.0 223.8 280.0 227.5 285.0 236.2 295.0 235.0 320.0 235.0 320.0 262.5 312.5 265.0 280.0 266.2 270.0 263.8 267.5 252.5Z"/>
<path fill="#F9CC6E" d="M255.0 213.8 273.8 197.5 307.5 223.8 320.0 223.8 320.0 235.5 295.0 234.5 285.0 236.2 280.0 227.5 270.0 223.8 267.5 218.8Z"/>
<path fill="#FFFFC8" d="M205.0 270.0 212.5 261.2 225.0 261.2 227.5 270.0 232.5 280.0 222.5 290.0 210.0 287.5 205.0 280.0Z"/>
<path fill="#F9CC6E" d="M157.5 265.0 190.0 262.5 192.5 280.0 187.5 290.0 160.0 287.5Z"/>
</g>
<use href="#pML" class="b"/>
<g clip-path="url(#cBF)"><use href="#pBF" fill="#FFFFC8"/>
<path fill="#FDE9A9" d="M300.0 280.0 310.0 272.5 318.8 270.0 320.0 280.0 312.5 290.0 302.5 290.0Z"/>
</g>
<use href="#pBF" class="b"/>
<g clip-path="url(#cBJ)"><use href="#pBJ" fill="#FFFFC8"/>
<path fill="#FDE9A9" d="M290.0 330.0 303.8 330.0 303.8 357.5 290.0 357.5Z"/>
</g>
<use href="#pBJ" class="b"/>
<g clip-path="url(#cTG)"><use href="#pTG" fill="#FFFFC8"/>
</g>
<use href="#pTG" class="b"/>
<g clip-path="url(#cGH)"><use href="#pGH" fill="#FDE9A9"/>
<path fill="#F5AA00" d="M247.5 335.0 265.0 332.5 270.0 345.0 257.5 342.5 245.0 345.0Z"/>
<path fill="#F07E00" d="M245.0 345.0 257.5 342.5 270.0 345.0 280.0 355.0 270.0 362.5 255.0 367.5 245.0 360.0Z"/>
</g>
<use href="#pGH" class="b"/>
<g clip-path="url(#cCI)"><use href="#pCI" fill="#FFFFC8"/>
<path fill="#F9CC6E" d="M195.0 345.0 205.0 340.0 225.0 345.0 235.0 355.0 245.0 360.0 245.0 370.0 202.5 375.0 195.0 362.5Z"/>
<path fill="#F5AA00" d="M217.5 325.0 230.0 322.5 235.0 332.5 227.5 345.0 217.5 340.0Z"/>
<path fill="#F9CC6E" d="M232.5 320.0 247.5 320.0 247.5 345.0 235.0 350.0Z"/>
</g>
<use href="#pCI" class="b"/>
<g clip-path="url(#cGN)"><use href="#pGN" fill="#FDE9A9"/>
<path fill="#F07E00" d="M147.5 295.0 162.5 292.5 165.0 305.0 152.5 310.0Z"/>
<path fill="#F5AA00" d="M137.5 305.0 155.0 310.0 170.0 305.0 170.0 317.5 152.5 320.0 142.5 315.0Z"/>
<path fill="#E64200" d="M180.0 325.0 195.0 320.0 197.5 335.0 187.5 342.5 180.0 335.0Z"/>
</g>
<use href="#pGN" class="b"/>
<g clip-path="url(#cLR)"><use href="#pLR" fill="#B81B00"/>
<path fill="#7D0025" d="M170.0 335.0 180.0 332.5 181.2 345.0 172.5 347.5Z"/>
<path fill="#E64200" d="M180.0 345.0 195.0 342.5 197.5 355.0 185.0 357.5Z"/>
<path fill="#7D0025" d="M178.8 353.8 184.5 353.8 184.5 365.0 178.8 365.0Z"/>
</g>
<use href="#pLR" class="b"/>
<g clip-path="url(#cSL)"><use href="#pSL" fill="#E64200"/>
<path fill="#B81B00" d="M145.0 332.5 162.5 330.0 167.5 340.0 160.0 350.0 146.2 345.0Z"/>
</g>
<use href="#pSL" class="b"/>
<g clip-path="url(#cSN)"><use href="#pSN" fill="#B81B00"/>
<path fill="#7D0025" d="M127.5 257.5 142.5 253.8 151.2 267.5 137.5 272.5 128.8 267.5Z"/>
<path fill="#F07E00" d="M112.5 270.0 127.5 270.0 127.5 277.5 112.5 277.5Z"/>
<path fill="#FDE9A9" d="M132.5 270.0 157.5 270.0 160.0 292.5 105.0 292.5 105.0 278.8 130.0 278.8Z"/>
</g>
<use href="#pSN" class="b"/>
<g clip-path="url(#cGM)"><use href="#pGM" fill="#FDE9A9"/>
</g>
<use href="#pGM" class="b"/>
</g>
<g clip-path="url(#cMG)"><use href="#mada" fill="#E64200"/>
<path fill="#B81B00" d="M710.0 590.0 735.0 580.0 750.0 570.0 762.5 570.0 765.0 585.0 755.0 592.5 752.5 605.0 730.0 607.5 720.0 615.0 710.0 607.5Z"/>
<path fill="#F07E00" d="M727.5 607.5 742.5 602.5 752.5 610.0 750.0 627.5 737.5 631.2 728.8 625.0Z"/>
<path fill="#B81B00" d="M730.0 630.0 755.0 632.5 750.0 665.0 740.0 670.0 730.0 657.5 722.5 660.0 725.0 640.0Z"/>
<path fill="#F07E00" d="M755.0 562.5 765.0 542.5 772.5 565.0 780.0 580.0 770.0 585.0 765.0 572.5Z"/>
</g>
<use href="#over"/>
</svg>
<text class="pl" x="86" y="43">e</text>
<text class="lt" x="86.3" y="403.9">No bicycle, motorbike,</text>
<text class="lt" x="86.3" y="431.6">car in household</text>
<rect x="92.3" y="452.90" width="21.3" height="35.22" fill="#7D0025"/>
<rect x="92.3" y="487.82" width="21.3" height="35.22" fill="#B81B00"/>
<rect x="92.3" y="522.74" width="21.3" height="35.22" fill="#E64200"/>
<rect x="92.3" y="557.66" width="21.3" height="35.22" fill="#F07E00"/>
<rect x="92.3" y="592.58" width="21.3" height="35.22" fill="#F5AA00"/>
<rect x="92.3" y="627.50" width="21.3" height="35.22" fill="#F9CC6E"/>
<rect x="92.3" y="662.42" width="21.3" height="35.22" fill="#FDE9A9"/>
<rect x="92.3" y="697.34" width="21.3" height="35.22" fill="#FFFFC8"/>
<rect x="92.3" y="732.26" width="21.3" height="35.22" fill="#808080"/>
<rect x="92.3" y="767.18" width="21.3" height="35.22" fill="#CCCCCC"/>
<rect x="92.3" y="453.9" width="21.3" height="347.3" fill="none" stroke="#000" stroke-width="1.7"/>
<path class="tk" style="stroke-width:1.5" d="M114.6 470.36h6.6M114.6 505.28h6.6M114.6 540.20h6.6M114.6 575.12h6.6M114.6 610.04h6.6M114.6 644.96h6.6M114.6 679.88h6.6M114.6 714.80h6.6M114.6 749.72h6.6M114.6 784.64h6.6"/>
<text class="lg" x="141.5" y="474.56">≥ 90.00%</text>
<text class="lg" x="141.5" y="509.48">80%-89.99%</text>
<text class="lg" x="141.5" y="544.40">70%-79.99%</text>
<text class="lg" x="141.5" y="579.32">60%-69.99%</text>
<text class="lg" x="141.5" y="614.24">50%-59.99%</text>
<text class="lg" x="141.5" y="649.16">40%-49.99%</text>
<text class="lg" x="141.5" y="684.08">30%-39.99%</text>
<text class="lg" x="141.5" y="719.00">&lt;30%</text>
<text class="lg" x="141.5" y="753.92">No data;<tspan dx="-1.6"> </tspan>Not in SSA</text>
<text class="lg" x="141.5" y="788.84">Water bodies</text>
<text class="cap" x="771.3" y="798.4" textLength="395.0" lengthAdjust="spacing">No bicycle, motorbike, car in household</text>
</g>
<g transform="translate(740,1620)">
<svg x="73.3" y="2.0" width="740.0" height="810.0" viewBox="73.3 2.0 740.0 810.0" overflow="hidden">
<use href="#base"/>
<g clip-path="url(#cAF)">
<g clip-path="url(#cCD)"><use href="#pCD" fill="#F9CC6E"/>
<path fill="#F07E00" d="M395.0 463.8 441.2 461.2 442.5 483.8 395.0 485.0Z"/>
<path fill="#B81B00" d="M428.8 461.2 440.0 461.2 440.0 471.2 428.8 471.2Z"/>
<path fill="#B81B00" d="M503.8 480.0 513.8 480.0 515.0 488.8 507.5 491.2Z"/>
<path fill="#F5AA00" d="M460.0 367.5 480.0 367.5 502.5 377.5 497.5 390.0 507.5 395.0 492.5 410.0 475.0 405.0 460.0 400.0Z"/>
<path fill="#FDE9A9" d="M502.5 377.5 517.5 367.5 542.5 370.0 545.0 395.0 517.5 397.5 505.0 395.0Z"/>
<path fill="#F07E00" d="M550.0 402.5 565.0 395.0 580.0 382.5 585.0 395.0 575.0 410.0 570.0 430.0 565.0 465.0 555.0 470.0 542.5 457.5 542.5 442.5 552.5 430.0Z"/>
<path fill="#FDE9A9" d="M472.5 420.0 492.5 402.5 505.0 420.0 517.5 432.5 525.0 460.0 515.0 477.5 505.0 465.0 495.0 445.0 475.0 435.0Z"/>
<path fill="#F5AA00" d="M445.0 457.5 480.0 445.0 495.0 470.0 535.0 475.0 535.0 495.0 517.5 500.0 497.5 495.0 467.5 490.0 445.0 477.5Z"/>
<path fill="#F07E00" d="M490.0 477.5 500.0 465.0 507.5 477.5 515.0 490.0 505.0 500.0 492.5 495.0Z"/>
<path fill="#F5AA00" d="M510.0 502.5 535.0 495.0 560.0 505.0 570.0 502.5 557.5 520.0 557.5 537.5 570.0 545.0 570.0 560.0 545.0 545.0 517.5 525.0Z"/>
</g>
<use href="#pCD" class="b"/>
<g clip-path="url(#cCG)"><use href="#pCG" fill="#FFFFC8"/>
<path fill="#B81B00" d="M427.5 462.5 438.8 461.2 437.5 470.0 428.8 471.2Z"/>
<path fill="#F5AA00" d="M410.0 452.5 432.5 450.0 435.0 462.5 417.5 465.0Z"/>
<path fill="#F07E00" d="M387.5 457.5 400.0 467.5 437.5 467.5 437.5 480.0 400.0 480.0Z"/>
</g>
<use href="#pCG" class="b"/>
<g clip-path="url(#cAO)"><use href="#pAO" fill="#F9CC6E"/>
<path fill="#F07E00" d="M423.8 546.5 430.0 539.0 438.8 541.5 438.8 556.5 430.0 561.5 423.8 556.5Z"/>
<path fill="#F5AA00" d="M412.5 491.5 425.0 484.0 440.0 484.0 440.0 504.0 430.0 509.0 417.5 509.0Z"/>
<path fill="#F5AA00" d="M407.5 554.0 415.0 529.0 425.0 521.5 437.5 524.0 440.0 539.0 437.5 574.0 430.0 584.0 410.0 586.5 407.5 574.0Z"/>
<path fill="#FDE9A9" d="M450.0 506.5 470.0 494.0 492.5 494.0 492.5 531.5 485.0 539.0 475.0 536.5 465.0 539.0 457.5 529.0 450.0 521.5Z"/>
<path fill="#FFFFC8" d="M440.0 566.5 455.0 559.0 465.0 539.0 485.0 539.0 492.5 531.5 515.0 536.5 515.0 554.0 495.0 556.5 495.0 584.0 507.5 604.0 447.5 601.5 447.5 584.0Z"/>
<path fill="#FDE9A9" d="M390.0 584.0 400.0 559.0 407.5 564.0 410.0 586.5 405.0 599.0 390.0 601.5Z"/>
</g>
<use href="#pAO" class="b"/>
<g clip-path="url(#cAO2)"><use href="#pAO2" fill="#F07E00"/>
</g>
<use href="#pAO2" class="b"/>
<g clip-path="url(#cZM)"><use href="#pZM" fill="#F5AA00"/>
<path fill="#E64200" d="M552.5 580.2 565.0 574.0 575.0 577.8 572.5 584.0 560.0 586.5Z"/>
<path fill="#FDE9A9" d="M495.0 556.5 513.8 554.0 517.5 539.0 540.0 544.0 540.0 564.0 525.0 576.5 522.5 594.0 512.5 601.5 500.0 594.0 495.0 584.0Z"/>
<path fill="#F9CC6E" d="M560.0 511.5 577.5 506.5 595.0 514.0 605.0 534.0 600.0 551.5 587.5 559.0 575.0 551.5 562.5 539.0Z"/>
<path fill="#F07E00" d="M542.5 549.0 555.0 549.0 562.5 559.0 550.0 564.0 542.5 559.0Z"/>
<path fill="#E64200" d="M552.5 574.0 575.0 572.8 575.0 581.5 552.5 584.0Z"/>
</g>
<use href="#pZM" class="b"/>
<g clip-path="url(#cNA)"><use href="#pNA" fill="#FFFFC8"/>
<path fill="#FDE9A9" d="M427.5 605.2 433.8 605.2 433.8 620.2 427.5 620.2Z"/>
<path fill="#F5AA00" d="M427.5 604.0 435.0 604.0 435.0 620.2 427.5 620.2Z"/>
<path fill="#F5AA00" d="M435.0 601.0 453.8 601.0 453.8 606.0 435.0 606.0Z"/>
<path fill="#FDE9A9" d="M432.5 654.0 450.0 646.5 457.5 659.0 450.0 666.5 432.5 669.0Z"/>
</g>
<use href="#pNA" class="b"/>
<g clip-path="url(#cZA)"><use href="#pZA" fill="#F5AA00"/>
<path fill="#FFFFC8" d="M440.0 719.0 475.0 714.0 475.0 686.5 482.5 699.0 500.0 694.0 507.5 689.0 512.5 704.0 522.5 709.0 517.5 726.5 527.5 739.0 515.0 751.5 500.0 749.0 480.0 759.0 465.0 754.0 460.0 736.5 450.0 744.0Z"/>
<path fill="#F07E00" d="M450.0 759.0 460.0 736.5 465.0 754.0 480.0 759.0 500.0 749.0 515.0 751.5 507.5 761.5 490.0 771.5 475.0 784.0 455.0 779.0Z"/>
<path fill="#F07E00" d="M562.5 684.0 582.5 671.5 593.8 671.5 593.8 699.0 580.0 704.0 565.0 701.5Z"/>
<path fill="#7D0025" d="M546.2 689.0 552.5 684.0 560.0 681.5 562.5 691.5 555.0 700.2 548.8 696.5Z"/>
<path fill="#E64200" d="M570.0 709.0 580.0 704.0 600.0 699.0 602.5 709.0 587.5 726.5 575.0 739.0 565.0 734.0Z"/>
</g>
<use href="#pZA" class="b"/>
<g clip-path="url(#cZW)"><use href="#pZW" fill="#F5AA00"/>
<path fill="#F9CC6E" d="M527.5 606.5 540.0 609.0 552.5 614.0 565.0 626.5 570.0 641.5 582.5 649.0 565.0 649.0 550.0 634.0 540.0 624.0Z"/>
<path fill="#F07E00" d="M577.5 589.0 600.0 594.0 603.8 609.0 597.5 629.0 587.5 621.5 580.0 609.0Z"/>
</g>
<use href="#pZW" class="b"/>
<g clip-path="url(#cTZ)"><use href="#pTZ" fill="#F5AA00"/>
<path fill="#F07E00" d="M582.5 432.5 610.0 432.5 625.0 440.0 635.0 445.0 630.0 457.5 615.0 462.5 595.0 462.5 585.0 457.5Z"/>
<path fill="#E64200" d="M585.0 447.5 605.0 445.0 610.0 457.5 595.0 462.5 587.5 457.5Z"/>
<path fill="#F07E00" d="M625.0 470.0 637.5 467.5 642.5 482.5 635.0 495.0 625.0 490.0Z"/>
<path fill="#F07E00" d="M595.0 497.5 610.0 492.5 620.0 505.0 615.0 517.5 600.0 515.0Z"/>
<path fill="#F9CC6E" d="M645.0 505.0 660.0 502.5 670.0 520.0 670.0 532.5 650.0 532.5 642.5 520.0Z"/>
<path fill="#F9CC6E" d="M570.0 475.0 585.0 477.5 595.0 495.0 582.5 497.5Z"/>
<path fill="#F07E00" d="M642.5 460.0 655.0 470.0 662.5 470.0 667.5 490.0 655.0 482.5 645.0 477.5Z"/>
</g>
<use href="#pTZ" class="b"/>
<g clip-path="url(#cMW)"><use href="#pMW" fill="#E64200"/>
<path fill="#B81B00" d="M605.0 560.0 612.5 560.0 615.0 570.0 607.5 570.0Z"/>
<path fill="#B81B00" d="M620.0 580.0 627.5 580.0 627.5 590.0 621.2 590.0Z"/>
</g>
<use href="#pMW" class="b"/>
<g clip-path="url(#cMZ)"><use href="#pMZ" fill="#F5AA00"/>
<path fill="#F9CC6E" d="M622.5 540.0 655.0 537.5 652.5 560.0 640.0 575.0 627.5 565.0Z"/>
<path fill="#F07E00" d="M627.5 600.0 635.0 580.0 652.5 570.0 670.0 562.5 681.2 561.2 682.5 577.5 670.0 590.0 655.0 600.0 642.5 607.5 632.5 612.5Z"/>
</g>
<use href="#pMZ" class="b"/>
<g clip-path="url(#cSZ)"><use href="#pSZ" fill="#F5AA00"/>
</g>
<use href="#pSZ" class="b"/>
<g clip-path="url(#cLS)"><use href="#pLS" fill="#F5AA00"/>
<path fill="#F07E00" d="M548.8 724.0 555.0 724.0 555.0 729.0 548.8 729.0Z"/>
</g>
<use href="#pLS" class="b"/>
<g clip-path="url(#cRW)"><use href="#pRW" fill="#B81B00"/>
</g>
<use href="#pRW" class="b"/>
<g clip-path="url(#cBI)"><use href="#pBI" fill="#B81B00"/>
</g>
<use href="#pBI" class="b"/>
<g clip-path="url(#cUG)"><use href="#pUG" fill="#E64200"/>
<path fill="#F07E00" d="M582.5 382.5 615.0 381.2 620.0 395.0 597.5 395.0 585.0 402.5Z"/>
<path fill="#B81B00" d="M595.0 395.0 615.0 395.0 620.0 410.0 610.0 420.0 597.5 415.0Z"/>
<path fill="#7D0025" d="M607.5 410.0 620.0 407.5 622.5 422.5 612.5 425.0Z"/>
</g>
<use href="#pUG" class="b"/>
<g clip-path="url(#cKE)"><use href="#pKE" fill="#F9CC6E"/>
<path fill="#F07E00" d="M671.2 385.0 680.0 378.8 690.0 381.2 682.5 392.5 675.0 390.0Z"/>
<path fill="#E64200" d="M663.8 452.5 672.5 445.0 676.2 455.0 668.8 462.5Z"/>
<path fill="#FFFFC8" d="M637.5 377.5 655.0 382.5 666.2 386.2 662.5 400.0 655.0 410.0 647.5 405.0 642.5 392.5Z"/>
<path fill="#FDE9A9" d="M655.0 400.0 670.0 395.0 672.5 420.0 667.5 445.0 660.0 440.0 657.5 420.0Z"/>
<path fill="#F5AA00" d="M670.0 415.0 682.5 417.5 685.0 437.5 675.0 442.5Z"/>
<path fill="#E64200" d="M620.0 410.0 635.0 407.5 652.5 417.5 657.5 435.0 650.0 445.0 635.0 435.0 622.5 427.5Z"/>
<path fill="#7D0025" d="M618.8 410.0 627.5 410.0 628.8 425.0 621.2 425.0Z"/>
<path fill="#7D0025" d="M637.5 425.0 647.5 425.0 647.5 435.0 638.8 435.0Z"/>
<path fill="#F07E00" d="M630.0 430.0 650.0 445.0 660.0 457.5 650.0 455.0 635.0 445.0Z"/>
</g>
<use href="#pKE" class="b"/>
<g clip-path="url(#cET)"><use href="#pET" fill="#E64200"/>
<path fill="#F9CC6E" d="M670.5 270.3 675.5 271.3 696.3 292.7 689.4 307.0 683.4 311.5 679.4 323.4 673.5 329.4 671.0 323.4 673.5 305.6 671.5 289.7Z"/>
<path fill="#F9CC6E" d="M689.4 306.5 701.3 306.5 750.9 337.8 723.1 369.0 702.3 374.0 689.4 379.0 665.6 382.9 671.5 366.1 681.4 363.1 683.4 353.2 693.3 349.2 692.3 339.3 699.3 335.3 701.3 320.4 694.3 321.4 679.4 323.4 683.4 311.5Z"/>
<path fill="#F9CC6E" d="M609.0 334.3 616.0 331.3 622.9 337.3 625.9 345.2 621.9 349.2 624.9 355.2 619.9 349.2 609.0 337.3Z"/>
<path fill="#F5AA00" d="M617.5 310.0 627.5 297.5 637.5 300.0 635.0 317.5 625.0 325.0 615.0 322.5Z"/>
</g>
<use href="#pET" class="b"/>
<g clip-path="url(#cGA)"><use href="#pGA" fill="#FFFFC8"/>
<path fill="#F5AA00" d="M370.0 411.2 382.5 411.2 382.5 422.5 370.0 422.5Z"/>
<path fill="#FDE9A9" d="M402.5 420.0 417.5 420.0 417.5 442.5 402.5 442.5Z"/>
</g>
<use href="#pGA" class="b"/>
<g clip-path="url(#cCM)"><use href="#pCM" fill="#F9CC6E"/>
<path fill="#E64200" d="M415.0 290.0 422.5 295.0 430.0 315.0 420.0 320.0 412.5 310.0Z"/>
<path fill="#F5AA00" d="M395.0 320.0 420.0 320.0 427.5 335.0 417.5 345.0 397.5 342.5Z"/>
<path fill="#FDE9A9" d="M405.0 367.5 420.0 362.5 430.0 377.5 437.5 395.0 415.0 397.5 405.0 387.5Z"/>
<path fill="#E64200" d="M360.0 367.5 370.0 352.5 382.5 350.0 387.5 362.5 382.5 382.5 372.5 377.5Z"/>
<path fill="#F07E00" d="M382.5 360.0 400.0 357.5 407.5 370.0 400.0 385.0 382.5 385.0Z"/>
</g>
<use href="#pCM" class="b"/>
<g clip-path="url(#cTD)"><use href="#pTD" fill="#FFFFC8"/>
<path fill="#FDE9A9" d="M405.0 247.5 435.0 252.5 467.5 255.0 475.0 257.5 475.0 270.0 460.0 295.0 435.0 290.0 405.0 275.0Z"/>
<path fill="#F9CC6E" d="M475.0 257.5 505.0 256.2 500.0 270.0 495.0 280.0 477.5 272.5Z"/>
<path fill="#F5AA00" d="M475.0 272.5 492.5 275.0 495.0 285.0 477.5 287.5Z"/>
<path fill="#F9CC6E" d="M450.0 287.5 465.0 282.5 497.5 300.0 485.0 310.0 472.5 320.0 455.0 305.0Z"/>
<path fill="#FDE9A9" d="M465.0 295.0 485.0 297.5 497.5 305.0 485.0 310.0 472.5 320.0Z"/>
<path fill="#F5AA00" d="M405.0 290.0 450.0 287.5 455.0 305.0 460.0 330.0 435.0 345.0 405.0 345.0Z"/>
<path fill="#F07E00" d="M410.0 320.0 445.0 317.5 455.0 330.0 435.0 337.5 410.0 340.0Z"/>
<path fill="#F5AA00" d="M410.0 270.0 420.0 272.5 430.0 287.5 420.0 290.0Z"/>
</g>
<use href="#pTD" class="b"/>
<g clip-path="url(#cNE)"><use href="#pNE" fill="#FFFFC8"/>
<path fill="#F5AA00" d="M277.5 265.0 315.0 262.5 320.0 227.5 335.0 245.0 340.0 260.0 370.0 252.5 395.0 240.0 395.0 280.0 370.0 280.0 355.0 282.5 335.0 277.5 320.0 280.0 310.0 285.0 300.0 287.5Z"/>
<path fill="#F07E00" d="M340.0 262.5 355.0 270.0 360.0 282.5 345.0 285.0 340.0 277.5Z"/>
<path fill="#F07E00" d="M300.0 280.0 315.0 270.0 320.0 280.0 310.0 287.5Z"/>
</g>
<use href="#pNE" class="b"/>
<g clip-path="url(#cNG)"><use href="#pNG" fill="#E64200"/>
<path fill="#F5AA00" d="M370.0 320.0 380.0 317.5 395.0 330.0 390.0 345.0 375.0 350.0 365.0 345.0Z"/>
<path fill="#B81B00" d="M345.0 285.0 360.0 282.5 367.5 292.5 365.0 307.5 355.0 312.5 347.5 302.5Z"/>
<path fill="#7D0025" d="M352.5 290.0 365.0 292.5 363.8 305.0 355.0 306.2Z"/>
<path fill="#F07E00" d="M377.5 285.0 400.0 282.5 415.0 280.0 420.0 295.0 415.0 310.0 402.5 315.0 392.5 310.0 382.5 300.0Z"/>
<path fill="#F07E00" d="M312.5 310.0 330.0 305.0 345.0 315.0 345.0 330.0 332.5 335.0 320.0 330.0 310.0 325.0Z"/>
<path fill="#B81B00" d="M302.5 330.0 320.0 327.5 335.0 340.0 332.5 352.5 317.5 352.5 302.5 350.0Z"/>
<path fill="#B81B00" d="M332.5 345.0 360.0 342.5 370.0 352.5 360.0 360.0 355.0 350.0 337.5 352.5Z"/>
<path fill="#7D0025" d="M337.5 352.5 355.0 350.0 360.0 360.0 355.0 372.5 340.0 372.5Z"/>
<path fill="#B81B00" d="M342.5 325.0 350.0 325.0 350.0 332.5 342.5 332.5Z"/>
<path fill="#F5AA00" d="M380.0 330.0 395.0 330.0 395.0 345.0 382.5 350.0Z"/>
</g>
<use href="#pNG" class="b"/>
<g clip-path="url(#cML)"><use href="#pML" fill="#FFFFC8"/>
<path fill="#F5AA00" d="M145.0 258.8 221.2 258.8 225.0 255.0 257.5 262.5 267.5 253.8 280.0 266.2 312.5 265.0 322.5 262.5 322.5 325.0 145.0 325.0Z"/>
<path fill="#F9CC6E" d="M157.5 262.5 190.0 261.2 192.5 280.0 187.5 290.0 160.0 287.5Z"/>
</g>
<use href="#pML" class="b"/>
<g clip-path="url(#cBF)"><use href="#pBF" fill="#F5AA00"/>
<path fill="#F07E00" d="M247.5 275.0 267.5 272.5 275.0 282.5 270.0 300.0 255.0 302.5 247.5 290.0Z"/>
<path fill="#7D0025" d="M257.5 290.0 263.8 290.0 263.8 296.2 257.5 296.2Z"/>
<path fill="#F07E00" d="M225.0 297.5 242.5 295.0 245.0 305.0 227.5 307.5Z"/>
</g>
<use href="#pBF" class="b"/>
<g clip-path="url(#cBJ)"><use href="#pBJ" fill="#F07E00"/>
<path fill="#E64200" d="M290.0 330.0 303.8 330.0 303.8 357.5 290.0 357.5Z"/>
<path fill="#F5AA00" d="M292.5 290.0 310.0 290.0 310.0 310.0 292.5 310.0Z"/>
</g>
<use href="#pBJ" class="b"/>
<g clip-path="url(#cTG)"><use href="#pTG" fill="#F07E00"/>
<path fill="#E64200" d="M280.0 330.0 292.5 330.0 292.5 357.5 280.0 357.5Z"/>
<path fill="#B81B00" d="M282.5 348.8 295.0 348.8 295.0 356.2 282.5 356.2Z"/>
</g>
<use href="#pTG" class="b"/>
<g clip-path="url(#cGH)"><use href="#pGH" fill="#F5AA00"/>
<path fill="#F07E00" d="M245.0 332.5 265.0 330.0 270.0 340.0 255.0 340.0 245.0 345.0Z"/>
<path fill="#E64200" d="M245.0 345.0 255.0 340.0 270.0 340.0 280.0 350.0 280.0 360.0 257.5 370.0 245.0 362.5Z"/>
<path fill="#B81B00" d="M275.0 348.8 285.0 348.8 285.0 356.2 275.0 356.2Z"/>
</g>
<use href="#pGH" class="b"/>
<g clip-path="url(#cCI)"><use href="#pCI" fill="#F5AA00"/>
<path fill="#F07E00" d="M195.0 342.5 205.0 340.0 225.0 350.0 240.0 360.0 245.0 367.5 202.5 375.0 195.0 362.5Z"/>
<path fill="#F9CC6E" d="M195.0 315.0 207.5 312.5 210.0 330.0 197.5 332.5Z"/>
<path fill="#F07E00" d="M225.0 310.0 245.0 305.0 247.5 315.0 230.0 320.0Z"/>
</g>
<use href="#pCI" class="b"/>
<g clip-path="url(#cGN)"><use href="#pGN" fill="#F5AA00"/>
<path fill="#F07E00" d="M147.5 295.0 162.5 292.5 165.0 305.0 152.5 310.0Z"/>
<path fill="#F07E00" d="M170.0 320.0 190.0 315.0 195.0 330.0 180.0 337.5Z"/>
</g>
<use href="#pGN" class="b"/>
<g clip-path="url(#cLR)"><use href="#pLR" fill="#F5AA00"/>
<path fill="#F9CC6E" d="M167.5 342.5 180.0 340.0 181.2 350.0 170.0 352.5Z"/>
<path fill="#F9CC6E" d="M177.5 360.0 195.0 355.0 200.0 370.0 185.0 370.0Z"/>
</g>
<use href="#pLR" class="b"/>
<g clip-path="url(#cSL)"><use href="#pSL" fill="#F07E00"/>
</g>
<use href="#pSL" class="b"/>
<g clip-path="url(#cSN)"><use href="#pSN" fill="#F5AA00"/>
<path fill="#F07E00" d="M105.0 252.5 127.5 250.0 140.0 255.0 132.5 270.0 110.0 275.0 105.0 267.5Z"/>
<path fill="#E64200" d="M107.5 262.5 120.0 265.0 120.0 275.0 110.0 275.0Z"/>
<path fill="#F9CC6E" d="M132.5 270.0 155.0 270.0 160.0 280.0 155.0 290.0 135.0 287.5Z"/>
</g>
<use href="#pSN" class="b"/>
<g clip-path="url(#cGM)"><use href="#pGM" fill="#F07E00"/>
</g>
<use href="#pGM" class="b"/>
</g>
<g clip-path="url(#cMG)"><use href="#mada" fill="#F5AA00"/>
<path fill="#F07E00" d="M722.5 660.0 730.0 630.0 750.0 627.5 760.0 632.5 752.5 665.0 740.0 670.0 730.0 657.5Z"/>
<path fill="#E64200" d="M727.5 607.5 742.5 602.5 752.5 610.0 750.0 627.5 737.5 631.2 728.8 625.0Z"/>
</g>
<use href="#over"/>
</svg>
<text class="pl" x="86" y="43">f</text>
<text class="lt" x="86.3" y="403.9">Population</text>
<text class="lt" x="86.3" y="431.6">density</text>
<rect x="92.3" y="452.90" width="21.3" height="35.22" fill="#7D0025"/>
<rect x="92.3" y="487.82" width="21.3" height="35.22" fill="#B81B00"/>
<rect x="92.3" y="522.74" width="21.3" height="35.22" fill="#E64200"/>
<rect x="92.3" y="557.66" width="21.3" height="35.22" fill="#F07E00"/>
<rect x="92.3" y="592.58" width="21.3" height="35.22" fill="#F5AA00"/>
<rect x="92.3" y="627.50" width="21.3" height="35.22" fill="#F9CC6E"/>
<rect x="92.3" y="662.42" width="21.3" height="35.22" fill="#FDE9A9"/>
<rect x="92.3" y="697.34" width="21.3" height="35.22" fill="#FFFFC8"/>
<rect x="92.3" y="732.26" width="21.3" height="35.22" fill="#808080"/>
<rect x="92.3" y="767.18" width="21.3" height="35.22" fill="#CCCCCC"/>
<rect x="92.3" y="453.9" width="21.3" height="347.3" fill="none" stroke="#000" stroke-width="1.7"/>
<path class="tk" style="stroke-width:1.5" d="M114.6 470.36h6.6M114.6 505.28h6.6M114.6 540.20h6.6M114.6 575.12h6.6M114.6 610.04h6.6M114.6 644.96h6.6M114.6 679.88h6.6M114.6 714.80h6.6M114.6 749.72h6.6M114.6 784.64h6.6"/>
<text class="lg" x="141.5" y="474.56">≥ 600</text>
<text class="lg" x="141.5" y="509.48">300-599.99</text>
<text class="lg" x="141.5" y="544.40">100-299.99</text>
<text class="lg" x="141.5" y="579.32">50-99.99</text>
<text class="lg" x="141.5" y="614.24">20-49.99</text>
<text class="lg" x="141.5" y="649.16">10-19.99</text>
<text class="lg" x="141.5" y="684.08">5-9.99</text>
<text class="lg" x="141.5" y="719.00">&lt;5</text>
<text class="lg" x="141.5" y="753.92">Not in data;<tspan dx="-1.6"> </tspan>Not in SSA</text>
<text class="lg" x="141.5" y="788.84">Water bodies</text>
<text class="cap" x="771.3" y="798.4" textLength="187.8" lengthAdjust="spacing">Population density</text>
</g>
<rect class="fr" x="73.3" y="2.0" width="1480.0" height="2430.0"/>
<path class="fr" d="M813.4 2.0V2432.0M73.3 811.6H1553.3M73.3 1621.6H1553.3"/>
<text class="ty" text-anchor="middle" transform="translate(52.5 110.2) rotate(-90)">30</text>
<text class="ty" text-anchor="middle" transform="translate(52.5 265.4) rotate(-90)">15</text>
<text class="ty" text-anchor="middle" transform="translate(52.5 420.7) rotate(-90)">0</text>
<text class="ty" text-anchor="middle" transform="translate(52.5 575.9) rotate(-90)">-15</text>
<text class="ty" text-anchor="middle" transform="translate(52.5 731.2) rotate(-90)">-30</text>
<text class="ty" text-anchor="middle" transform="translate(52.5 920.2) rotate(-90)">30</text>
<text class="ty" text-anchor="middle" transform="translate(52.5 1075.5) rotate(-90)">15</text>
<text class="ty" text-anchor="middle" transform="translate(52.5 1230.7) rotate(-90)">0</text>
<text class="ty" text-anchor="middle" transform="translate(52.5 1386.0) rotate(-90)">-15</text>
<text class="ty" text-anchor="middle" transform="translate(52.5 1541.2) rotate(-90)">-30</text>
<text class="ty" text-anchor="middle" transform="translate(52.5 1730.2) rotate(-90)">30</text>
<text class="ty" text-anchor="middle" transform="translate(52.5 1885.5) rotate(-90)">15</text>
<text class="ty" text-anchor="middle" transform="translate(52.5 2040.7) rotate(-90)">0</text>
<text class="ty" text-anchor="middle" transform="translate(52.5 2196.0) rotate(-90)">-15</text>
<text class="ty" text-anchor="middle" transform="translate(52.5 2351.2) rotate(-90)">-30</text>
<text class="tx" text-anchor="middle" x="175.5" y="2462.8">-10</text>
<text class="tx" text-anchor="middle" x="374.2" y="2462.8">10</text>
<text class="tx" text-anchor="middle" x="572.9" y="2462.8">30</text>
<text class="tx" text-anchor="middle" x="771.6" y="2462.8">50</text>
<text class="tx" text-anchor="middle" x="915.5" y="2462.8">-10</text>
<text class="tx" text-anchor="middle" x="1114.2" y="2462.8">10</text>
<text class="tx" text-anchor="middle" x="1312.9" y="2462.8">30</text>
<text class="tx" text-anchor="middle" x="1511.6" y="2462.8">50</text>
<path class="tk" d="M73.3 110.2h-11.3M73.3 265.4h-11.3M73.3 420.7h-11.3M73.3 575.9h-11.3M73.3 731.2h-11.3M73.3 920.2h-11.3M73.3 1075.5h-11.3M73.3 1230.7h-11.3M73.3 1386.0h-11.3M73.3 1541.2h-11.3M73.3 1730.2h-11.3M73.3 1885.5h-11.3M73.3 2040.7h-11.3M73.3 2196.0h-11.3M73.3 2351.2h-11.3M175.9 2432.0v11M374.6 2432.0v11M573.3 2432.0v11M772.0 2432.0v11M915.9 2432.0v11M1114.6 2432.0v11M1313.3 2432.0v11M1512.0 2432.0v11"/>
<text class="ax" transform="translate(26 1218) rotate(-90)">Latitude [deg.]</text>
<text class="ax" x="814.1" y="2489.6">Longitude [deg.]</text>
</svg></body></html>
